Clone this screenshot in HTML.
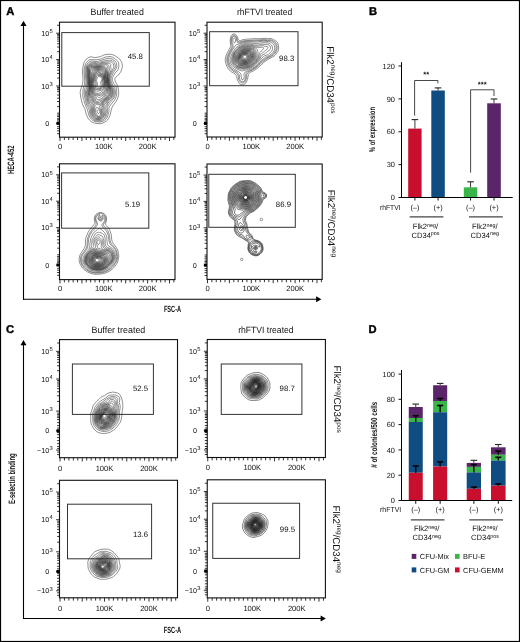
<!DOCTYPE html><html><head><meta charset="utf-8"><style>html,body{margin:0;padding:0;background:#fff;}svg{display:block;will-change:transform;}</style></head><body><svg width="520" height="642" viewBox="0 0 520 642" font-family='"Liberation Sans", sans-serif' text-rendering="geometricPrecision">
<rect x="0.00" y="0.00" width="520.00" height="642.00" fill="#fff"/>
<rect x="0.5" y="0.5" width="519" height="641" fill="none" stroke="#000" stroke-width="1.2"/>
<text x="6.30" y="15.10" font-size="11.2" text-anchor="start" font-weight="bold" fill="#000" stroke="#000" stroke-width="0.4">A</text>
<text x="368.90" y="15.20" font-size="11.2" text-anchor="start" font-weight="bold" fill="#000" stroke="#000" stroke-width="0.4">B</text>
<text x="6.00" y="333.00" font-size="11.2" text-anchor="start" font-weight="bold" fill="#000" stroke="#000" stroke-width="0.4">C</text>
<text x="368.50" y="333.20" font-size="11.2" text-anchor="start" font-weight="bold" fill="#000" stroke="#000" stroke-width="0.4">D</text>
<line x1="23.50" y1="24.80" x2="23.50" y2="299.80" stroke="#000" stroke-width="1.1" />
<path d="M20.50,26.10 L23.50,20.80 L26.50,26.10Z" fill="#000"/>
<line x1="23.00" y1="299.30" x2="317.40" y2="299.30" stroke="#000" stroke-width="1.1" />
<path d="M316.10,296.30 L321.40,299.30 L316.10,302.30Z" fill="#000"/>
<text x="0" y="0" font-size="9.2" font-weight="bold" text-anchor="middle" fill="#111" textLength="28.5" lengthAdjust="spacingAndGlyphs" transform="translate(14.30,159.80) rotate(-90)">HECA-452</text>
<text x="172.50" y="312.20" font-size="9.0" text-anchor="middle" font-weight="bold" fill="#111" textLength="17.20" lengthAdjust="spacingAndGlyphs" >FSC-A</text>
<text x="117.20" y="15.10" font-size="9.2" text-anchor="middle" font-weight="normal" fill="#111" textLength="53.30" lengthAdjust="spacingAndGlyphs" >Buffer treated</text>
<text x="264.60" y="15.10" font-size="9.2" text-anchor="middle" font-weight="normal" fill="#111" textLength="55.40" lengthAdjust="spacingAndGlyphs" >rhFTVI treated</text>
<rect x="59.50" y="22.20" width="115.50" height="115.00" fill="none" stroke="#111" stroke-width="1.1"/>
<line x1="56.10" y1="33.20" x2="59.50" y2="33.20" stroke="#111" stroke-width="0.85" />
<line x1="57.10" y1="25.25" x2="59.50" y2="25.25" stroke="#111" stroke-width="0.85" />
<line x1="56.10" y1="59.60" x2="59.50" y2="59.60" stroke="#111" stroke-width="0.85" />
<line x1="57.10" y1="51.65" x2="59.50" y2="51.65" stroke="#111" stroke-width="0.85" />
<line x1="57.10" y1="47.00" x2="59.50" y2="47.00" stroke="#111" stroke-width="0.85" />
<line x1="57.10" y1="43.71" x2="59.50" y2="43.71" stroke="#111" stroke-width="0.85" />
<line x1="57.10" y1="41.15" x2="59.50" y2="41.15" stroke="#111" stroke-width="0.85" />
<line x1="57.10" y1="39.06" x2="59.50" y2="39.06" stroke="#111" stroke-width="0.85" />
<line x1="57.10" y1="37.29" x2="59.50" y2="37.29" stroke="#111" stroke-width="0.85" />
<line x1="57.10" y1="35.76" x2="59.50" y2="35.76" stroke="#111" stroke-width="0.85" />
<line x1="57.10" y1="34.41" x2="59.50" y2="34.41" stroke="#111" stroke-width="0.85" />
<line x1="56.10" y1="86.00" x2="59.50" y2="86.00" stroke="#111" stroke-width="0.85" />
<line x1="57.10" y1="78.05" x2="59.50" y2="78.05" stroke="#111" stroke-width="0.85" />
<line x1="57.10" y1="73.40" x2="59.50" y2="73.40" stroke="#111" stroke-width="0.85" />
<line x1="57.10" y1="70.11" x2="59.50" y2="70.11" stroke="#111" stroke-width="0.85" />
<line x1="57.10" y1="67.55" x2="59.50" y2="67.55" stroke="#111" stroke-width="0.85" />
<line x1="57.10" y1="65.46" x2="59.50" y2="65.46" stroke="#111" stroke-width="0.85" />
<line x1="57.10" y1="63.69" x2="59.50" y2="63.69" stroke="#111" stroke-width="0.85" />
<line x1="57.10" y1="62.16" x2="59.50" y2="62.16" stroke="#111" stroke-width="0.85" />
<line x1="57.10" y1="60.81" x2="59.50" y2="60.81" stroke="#111" stroke-width="0.85" />
<line x1="56.10" y1="123.40" x2="59.50" y2="123.40" stroke="#111" stroke-width="0.85" />
<line x1="57.10" y1="87.50" x2="59.50" y2="87.50" stroke="#111" stroke-width="0.85" />
<line x1="57.10" y1="88.90" x2="59.50" y2="88.90" stroke="#111" stroke-width="0.85" />
<line x1="57.10" y1="89.80" x2="59.50" y2="89.80" stroke="#111" stroke-width="0.85" />
<line x1="57.10" y1="91.70" x2="59.50" y2="91.70" stroke="#111" stroke-width="0.85" />
<line x1="57.10" y1="95.00" x2="59.50" y2="95.00" stroke="#111" stroke-width="0.85" />
<line x1="57.10" y1="98.20" x2="59.50" y2="98.20" stroke="#111" stroke-width="0.85" />
<line x1="57.10" y1="101.50" x2="59.50" y2="101.50" stroke="#111" stroke-width="0.85" />
<line x1="57.10" y1="106.60" x2="59.50" y2="106.60" stroke="#111" stroke-width="0.85" />
<line x1="57.10" y1="113.20" x2="59.50" y2="113.20" stroke="#111" stroke-width="0.85" />
<line x1="57.10" y1="115.00" x2="59.50" y2="115.00" stroke="#111" stroke-width="0.85" />
<line x1="57.10" y1="116.40" x2="59.50" y2="116.40" stroke="#111" stroke-width="0.85" />
<line x1="57.10" y1="118.30" x2="59.50" y2="118.30" stroke="#111" stroke-width="0.85" />
<line x1="57.10" y1="119.70" x2="59.50" y2="119.70" stroke="#111" stroke-width="0.85" />
<line x1="57.10" y1="121.10" x2="59.50" y2="121.10" stroke="#111" stroke-width="0.85" />
<line x1="57.10" y1="126.70" x2="59.50" y2="126.70" stroke="#111" stroke-width="0.85" />
<line x1="57.10" y1="128.60" x2="59.50" y2="128.60" stroke="#111" stroke-width="0.85" />
<line x1="57.10" y1="130.90" x2="59.50" y2="130.90" stroke="#111" stroke-width="0.85" />
<line x1="57.10" y1="133.70" x2="59.50" y2="133.70" stroke="#111" stroke-width="0.85" />
<rect x="56.50" y="121.90" width="3.00" height="3.00" fill="#000"/>
<text x="49.30" y="35.80" font-size="7.2" text-anchor="end" fill="#111">10</text>
<text x="49.60" y="32.90" font-size="5.8" fill="#111">5</text>
<text x="49.30" y="62.20" font-size="7.2" text-anchor="end" fill="#111">10</text>
<text x="49.60" y="59.30" font-size="5.8" fill="#111">4</text>
<text x="49.30" y="88.60" font-size="7.2" text-anchor="end" fill="#111">10</text>
<text x="49.60" y="85.70" font-size="5.8" fill="#111">3</text>
<text x="49.30" y="126.00" font-size="7.2" text-anchor="end" fill="#111">0</text>
<line x1="60.00" y1="137.20" x2="60.00" y2="141.00" stroke="#111" stroke-width="0.85" />
<line x1="64.38" y1="137.20" x2="64.38" y2="140.00" stroke="#111" stroke-width="0.85" />
<line x1="68.76" y1="137.20" x2="68.76" y2="140.00" stroke="#111" stroke-width="0.85" />
<line x1="73.14" y1="137.20" x2="73.14" y2="140.00" stroke="#111" stroke-width="0.85" />
<line x1="77.52" y1="137.20" x2="77.52" y2="140.00" stroke="#111" stroke-width="0.85" />
<line x1="81.90" y1="137.20" x2="81.90" y2="141.00" stroke="#111" stroke-width="0.85" />
<line x1="86.28" y1="137.20" x2="86.28" y2="140.00" stroke="#111" stroke-width="0.85" />
<line x1="90.66" y1="137.20" x2="90.66" y2="140.00" stroke="#111" stroke-width="0.85" />
<line x1="95.04" y1="137.20" x2="95.04" y2="140.00" stroke="#111" stroke-width="0.85" />
<line x1="99.42" y1="137.20" x2="99.42" y2="140.00" stroke="#111" stroke-width="0.85" />
<line x1="103.80" y1="137.20" x2="103.80" y2="141.00" stroke="#111" stroke-width="0.85" />
<line x1="108.18" y1="137.20" x2="108.18" y2="140.00" stroke="#111" stroke-width="0.85" />
<line x1="112.56" y1="137.20" x2="112.56" y2="140.00" stroke="#111" stroke-width="0.85" />
<line x1="116.94" y1="137.20" x2="116.94" y2="140.00" stroke="#111" stroke-width="0.85" />
<line x1="121.32" y1="137.20" x2="121.32" y2="140.00" stroke="#111" stroke-width="0.85" />
<line x1="125.70" y1="137.20" x2="125.70" y2="141.00" stroke="#111" stroke-width="0.85" />
<line x1="130.08" y1="137.20" x2="130.08" y2="140.00" stroke="#111" stroke-width="0.85" />
<line x1="134.46" y1="137.20" x2="134.46" y2="140.00" stroke="#111" stroke-width="0.85" />
<line x1="138.84" y1="137.20" x2="138.84" y2="140.00" stroke="#111" stroke-width="0.85" />
<line x1="143.22" y1="137.20" x2="143.22" y2="140.00" stroke="#111" stroke-width="0.85" />
<line x1="147.60" y1="137.20" x2="147.60" y2="141.00" stroke="#111" stroke-width="0.85" />
<line x1="151.98" y1="137.20" x2="151.98" y2="140.00" stroke="#111" stroke-width="0.85" />
<line x1="156.36" y1="137.20" x2="156.36" y2="140.00" stroke="#111" stroke-width="0.85" />
<line x1="160.74" y1="137.20" x2="160.74" y2="140.00" stroke="#111" stroke-width="0.85" />
<line x1="165.12" y1="137.20" x2="165.12" y2="140.00" stroke="#111" stroke-width="0.85" />
<line x1="169.50" y1="137.20" x2="169.50" y2="141.00" stroke="#111" stroke-width="0.85" />
<line x1="173.88" y1="137.20" x2="173.88" y2="140.00" stroke="#111" stroke-width="0.85" />
<text x="60.00" y="148.90" font-size="7.6" text-anchor="middle" font-weight="normal" fill="#111" >0</text>
<text x="103.80" y="148.90" font-size="7.6" text-anchor="middle" font-weight="normal" fill="#111" >100K</text>
<text x="147.60" y="148.90" font-size="7.6" text-anchor="middle" font-weight="normal" fill="#111" >200K</text>
<rect x="61.80" y="32.60" width="87.50" height="53.60" fill="none" stroke="#333" stroke-width="1"/>
<text x="142.90" y="59.20" font-size="7.8" text-anchor="end" font-weight="normal" fill="#111" >45.8</text>
<rect x="207.00" y="22.20" width="115.20" height="114.80" fill="none" stroke="#111" stroke-width="1.1"/>
<line x1="203.60" y1="33.20" x2="207.00" y2="33.20" stroke="#111" stroke-width="0.85" />
<line x1="204.60" y1="25.25" x2="207.00" y2="25.25" stroke="#111" stroke-width="0.85" />
<line x1="203.60" y1="59.60" x2="207.00" y2="59.60" stroke="#111" stroke-width="0.85" />
<line x1="204.60" y1="51.65" x2="207.00" y2="51.65" stroke="#111" stroke-width="0.85" />
<line x1="204.60" y1="47.00" x2="207.00" y2="47.00" stroke="#111" stroke-width="0.85" />
<line x1="204.60" y1="43.71" x2="207.00" y2="43.71" stroke="#111" stroke-width="0.85" />
<line x1="204.60" y1="41.15" x2="207.00" y2="41.15" stroke="#111" stroke-width="0.85" />
<line x1="204.60" y1="39.06" x2="207.00" y2="39.06" stroke="#111" stroke-width="0.85" />
<line x1="204.60" y1="37.29" x2="207.00" y2="37.29" stroke="#111" stroke-width="0.85" />
<line x1="204.60" y1="35.76" x2="207.00" y2="35.76" stroke="#111" stroke-width="0.85" />
<line x1="204.60" y1="34.41" x2="207.00" y2="34.41" stroke="#111" stroke-width="0.85" />
<line x1="203.60" y1="86.00" x2="207.00" y2="86.00" stroke="#111" stroke-width="0.85" />
<line x1="204.60" y1="78.05" x2="207.00" y2="78.05" stroke="#111" stroke-width="0.85" />
<line x1="204.60" y1="73.40" x2="207.00" y2="73.40" stroke="#111" stroke-width="0.85" />
<line x1="204.60" y1="70.11" x2="207.00" y2="70.11" stroke="#111" stroke-width="0.85" />
<line x1="204.60" y1="67.55" x2="207.00" y2="67.55" stroke="#111" stroke-width="0.85" />
<line x1="204.60" y1="65.46" x2="207.00" y2="65.46" stroke="#111" stroke-width="0.85" />
<line x1="204.60" y1="63.69" x2="207.00" y2="63.69" stroke="#111" stroke-width="0.85" />
<line x1="204.60" y1="62.16" x2="207.00" y2="62.16" stroke="#111" stroke-width="0.85" />
<line x1="204.60" y1="60.81" x2="207.00" y2="60.81" stroke="#111" stroke-width="0.85" />
<line x1="203.60" y1="123.40" x2="207.00" y2="123.40" stroke="#111" stroke-width="0.85" />
<line x1="204.60" y1="87.50" x2="207.00" y2="87.50" stroke="#111" stroke-width="0.85" />
<line x1="204.60" y1="88.90" x2="207.00" y2="88.90" stroke="#111" stroke-width="0.85" />
<line x1="204.60" y1="89.80" x2="207.00" y2="89.80" stroke="#111" stroke-width="0.85" />
<line x1="204.60" y1="91.70" x2="207.00" y2="91.70" stroke="#111" stroke-width="0.85" />
<line x1="204.60" y1="95.00" x2="207.00" y2="95.00" stroke="#111" stroke-width="0.85" />
<line x1="204.60" y1="98.20" x2="207.00" y2="98.20" stroke="#111" stroke-width="0.85" />
<line x1="204.60" y1="101.50" x2="207.00" y2="101.50" stroke="#111" stroke-width="0.85" />
<line x1="204.60" y1="106.60" x2="207.00" y2="106.60" stroke="#111" stroke-width="0.85" />
<line x1="204.60" y1="113.20" x2="207.00" y2="113.20" stroke="#111" stroke-width="0.85" />
<line x1="204.60" y1="115.00" x2="207.00" y2="115.00" stroke="#111" stroke-width="0.85" />
<line x1="204.60" y1="116.40" x2="207.00" y2="116.40" stroke="#111" stroke-width="0.85" />
<line x1="204.60" y1="118.30" x2="207.00" y2="118.30" stroke="#111" stroke-width="0.85" />
<line x1="204.60" y1="119.70" x2="207.00" y2="119.70" stroke="#111" stroke-width="0.85" />
<line x1="204.60" y1="121.10" x2="207.00" y2="121.10" stroke="#111" stroke-width="0.85" />
<line x1="204.60" y1="126.70" x2="207.00" y2="126.70" stroke="#111" stroke-width="0.85" />
<line x1="204.60" y1="128.60" x2="207.00" y2="128.60" stroke="#111" stroke-width="0.85" />
<line x1="204.60" y1="130.90" x2="207.00" y2="130.90" stroke="#111" stroke-width="0.85" />
<line x1="204.60" y1="133.70" x2="207.00" y2="133.70" stroke="#111" stroke-width="0.85" />
<rect x="204.00" y="121.90" width="3.00" height="3.00" fill="#000"/>
<text x="196.80" y="35.80" font-size="7.2" text-anchor="end" fill="#111">10</text>
<text x="197.10" y="32.90" font-size="5.8" fill="#111">5</text>
<text x="196.80" y="62.20" font-size="7.2" text-anchor="end" fill="#111">10</text>
<text x="197.10" y="59.30" font-size="5.8" fill="#111">4</text>
<text x="196.80" y="88.60" font-size="7.2" text-anchor="end" fill="#111">10</text>
<text x="197.10" y="85.70" font-size="5.8" fill="#111">3</text>
<text x="196.80" y="126.00" font-size="7.2" text-anchor="end" fill="#111">0</text>
<line x1="207.50" y1="137.00" x2="207.50" y2="140.80" stroke="#111" stroke-width="0.85" />
<line x1="211.88" y1="137.00" x2="211.88" y2="139.80" stroke="#111" stroke-width="0.85" />
<line x1="216.26" y1="137.00" x2="216.26" y2="139.80" stroke="#111" stroke-width="0.85" />
<line x1="220.64" y1="137.00" x2="220.64" y2="139.80" stroke="#111" stroke-width="0.85" />
<line x1="225.02" y1="137.00" x2="225.02" y2="139.80" stroke="#111" stroke-width="0.85" />
<line x1="229.40" y1="137.00" x2="229.40" y2="140.80" stroke="#111" stroke-width="0.85" />
<line x1="233.78" y1="137.00" x2="233.78" y2="139.80" stroke="#111" stroke-width="0.85" />
<line x1="238.16" y1="137.00" x2="238.16" y2="139.80" stroke="#111" stroke-width="0.85" />
<line x1="242.54" y1="137.00" x2="242.54" y2="139.80" stroke="#111" stroke-width="0.85" />
<line x1="246.92" y1="137.00" x2="246.92" y2="139.80" stroke="#111" stroke-width="0.85" />
<line x1="251.30" y1="137.00" x2="251.30" y2="140.80" stroke="#111" stroke-width="0.85" />
<line x1="255.68" y1="137.00" x2="255.68" y2="139.80" stroke="#111" stroke-width="0.85" />
<line x1="260.06" y1="137.00" x2="260.06" y2="139.80" stroke="#111" stroke-width="0.85" />
<line x1="264.44" y1="137.00" x2="264.44" y2="139.80" stroke="#111" stroke-width="0.85" />
<line x1="268.82" y1="137.00" x2="268.82" y2="139.80" stroke="#111" stroke-width="0.85" />
<line x1="273.20" y1="137.00" x2="273.20" y2="140.80" stroke="#111" stroke-width="0.85" />
<line x1="277.58" y1="137.00" x2="277.58" y2="139.80" stroke="#111" stroke-width="0.85" />
<line x1="281.96" y1="137.00" x2="281.96" y2="139.80" stroke="#111" stroke-width="0.85" />
<line x1="286.34" y1="137.00" x2="286.34" y2="139.80" stroke="#111" stroke-width="0.85" />
<line x1="290.72" y1="137.00" x2="290.72" y2="139.80" stroke="#111" stroke-width="0.85" />
<line x1="295.10" y1="137.00" x2="295.10" y2="140.80" stroke="#111" stroke-width="0.85" />
<line x1="299.48" y1="137.00" x2="299.48" y2="139.80" stroke="#111" stroke-width="0.85" />
<line x1="303.86" y1="137.00" x2="303.86" y2="139.80" stroke="#111" stroke-width="0.85" />
<line x1="308.24" y1="137.00" x2="308.24" y2="139.80" stroke="#111" stroke-width="0.85" />
<line x1="312.62" y1="137.00" x2="312.62" y2="139.80" stroke="#111" stroke-width="0.85" />
<line x1="317.00" y1="137.00" x2="317.00" y2="140.80" stroke="#111" stroke-width="0.85" />
<line x1="321.38" y1="137.00" x2="321.38" y2="139.80" stroke="#111" stroke-width="0.85" />
<text x="207.50" y="148.70" font-size="7.6" text-anchor="middle" font-weight="normal" fill="#111" >0</text>
<text x="251.30" y="148.70" font-size="7.6" text-anchor="middle" font-weight="normal" fill="#111" >100K</text>
<text x="295.10" y="148.70" font-size="7.6" text-anchor="middle" font-weight="normal" fill="#111" >200K</text>
<rect x="209.60" y="31.70" width="88.40" height="54.00" fill="none" stroke="#333" stroke-width="1"/>
<text x="294.30" y="60.80" font-size="7.8" text-anchor="end" font-weight="normal" fill="#111" >98.3</text>
<rect x="59.50" y="163.80" width="115.50" height="115.80" fill="none" stroke="#111" stroke-width="1.1"/>
<line x1="56.10" y1="174.80" x2="59.50" y2="174.80" stroke="#111" stroke-width="0.85" />
<line x1="57.10" y1="166.85" x2="59.50" y2="166.85" stroke="#111" stroke-width="0.85" />
<line x1="56.10" y1="201.20" x2="59.50" y2="201.20" stroke="#111" stroke-width="0.85" />
<line x1="57.10" y1="193.25" x2="59.50" y2="193.25" stroke="#111" stroke-width="0.85" />
<line x1="57.10" y1="188.60" x2="59.50" y2="188.60" stroke="#111" stroke-width="0.85" />
<line x1="57.10" y1="185.31" x2="59.50" y2="185.31" stroke="#111" stroke-width="0.85" />
<line x1="57.10" y1="182.75" x2="59.50" y2="182.75" stroke="#111" stroke-width="0.85" />
<line x1="57.10" y1="180.66" x2="59.50" y2="180.66" stroke="#111" stroke-width="0.85" />
<line x1="57.10" y1="178.89" x2="59.50" y2="178.89" stroke="#111" stroke-width="0.85" />
<line x1="57.10" y1="177.36" x2="59.50" y2="177.36" stroke="#111" stroke-width="0.85" />
<line x1="57.10" y1="176.01" x2="59.50" y2="176.01" stroke="#111" stroke-width="0.85" />
<line x1="56.10" y1="227.60" x2="59.50" y2="227.60" stroke="#111" stroke-width="0.85" />
<line x1="57.10" y1="219.65" x2="59.50" y2="219.65" stroke="#111" stroke-width="0.85" />
<line x1="57.10" y1="215.00" x2="59.50" y2="215.00" stroke="#111" stroke-width="0.85" />
<line x1="57.10" y1="211.71" x2="59.50" y2="211.71" stroke="#111" stroke-width="0.85" />
<line x1="57.10" y1="209.15" x2="59.50" y2="209.15" stroke="#111" stroke-width="0.85" />
<line x1="57.10" y1="207.06" x2="59.50" y2="207.06" stroke="#111" stroke-width="0.85" />
<line x1="57.10" y1="205.29" x2="59.50" y2="205.29" stroke="#111" stroke-width="0.85" />
<line x1="57.10" y1="203.76" x2="59.50" y2="203.76" stroke="#111" stroke-width="0.85" />
<line x1="57.10" y1="202.41" x2="59.50" y2="202.41" stroke="#111" stroke-width="0.85" />
<line x1="56.10" y1="265.00" x2="59.50" y2="265.00" stroke="#111" stroke-width="0.85" />
<line x1="57.10" y1="229.10" x2="59.50" y2="229.10" stroke="#111" stroke-width="0.85" />
<line x1="57.10" y1="230.50" x2="59.50" y2="230.50" stroke="#111" stroke-width="0.85" />
<line x1="57.10" y1="231.40" x2="59.50" y2="231.40" stroke="#111" stroke-width="0.85" />
<line x1="57.10" y1="233.30" x2="59.50" y2="233.30" stroke="#111" stroke-width="0.85" />
<line x1="57.10" y1="236.60" x2="59.50" y2="236.60" stroke="#111" stroke-width="0.85" />
<line x1="57.10" y1="239.80" x2="59.50" y2="239.80" stroke="#111" stroke-width="0.85" />
<line x1="57.10" y1="243.10" x2="59.50" y2="243.10" stroke="#111" stroke-width="0.85" />
<line x1="57.10" y1="248.20" x2="59.50" y2="248.20" stroke="#111" stroke-width="0.85" />
<line x1="57.10" y1="254.80" x2="59.50" y2="254.80" stroke="#111" stroke-width="0.85" />
<line x1="57.10" y1="256.60" x2="59.50" y2="256.60" stroke="#111" stroke-width="0.85" />
<line x1="57.10" y1="258.00" x2="59.50" y2="258.00" stroke="#111" stroke-width="0.85" />
<line x1="57.10" y1="259.90" x2="59.50" y2="259.90" stroke="#111" stroke-width="0.85" />
<line x1="57.10" y1="261.30" x2="59.50" y2="261.30" stroke="#111" stroke-width="0.85" />
<line x1="57.10" y1="262.70" x2="59.50" y2="262.70" stroke="#111" stroke-width="0.85" />
<line x1="57.10" y1="268.30" x2="59.50" y2="268.30" stroke="#111" stroke-width="0.85" />
<line x1="57.10" y1="270.20" x2="59.50" y2="270.20" stroke="#111" stroke-width="0.85" />
<line x1="57.10" y1="272.50" x2="59.50" y2="272.50" stroke="#111" stroke-width="0.85" />
<line x1="57.10" y1="275.30" x2="59.50" y2="275.30" stroke="#111" stroke-width="0.85" />
<rect x="56.50" y="263.50" width="3.00" height="3.00" fill="#000"/>
<text x="49.30" y="177.40" font-size="7.2" text-anchor="end" fill="#111">10</text>
<text x="49.60" y="174.50" font-size="5.8" fill="#111">5</text>
<text x="49.30" y="203.80" font-size="7.2" text-anchor="end" fill="#111">10</text>
<text x="49.60" y="200.90" font-size="5.8" fill="#111">4</text>
<text x="49.30" y="230.20" font-size="7.2" text-anchor="end" fill="#111">10</text>
<text x="49.60" y="227.30" font-size="5.8" fill="#111">3</text>
<text x="49.30" y="267.60" font-size="7.2" text-anchor="end" fill="#111">0</text>
<line x1="60.00" y1="279.60" x2="60.00" y2="283.40" stroke="#111" stroke-width="0.85" />
<line x1="64.38" y1="279.60" x2="64.38" y2="282.40" stroke="#111" stroke-width="0.85" />
<line x1="68.76" y1="279.60" x2="68.76" y2="282.40" stroke="#111" stroke-width="0.85" />
<line x1="73.14" y1="279.60" x2="73.14" y2="282.40" stroke="#111" stroke-width="0.85" />
<line x1="77.52" y1="279.60" x2="77.52" y2="282.40" stroke="#111" stroke-width="0.85" />
<line x1="81.90" y1="279.60" x2="81.90" y2="283.40" stroke="#111" stroke-width="0.85" />
<line x1="86.28" y1="279.60" x2="86.28" y2="282.40" stroke="#111" stroke-width="0.85" />
<line x1="90.66" y1="279.60" x2="90.66" y2="282.40" stroke="#111" stroke-width="0.85" />
<line x1="95.04" y1="279.60" x2="95.04" y2="282.40" stroke="#111" stroke-width="0.85" />
<line x1="99.42" y1="279.60" x2="99.42" y2="282.40" stroke="#111" stroke-width="0.85" />
<line x1="103.80" y1="279.60" x2="103.80" y2="283.40" stroke="#111" stroke-width="0.85" />
<line x1="108.18" y1="279.60" x2="108.18" y2="282.40" stroke="#111" stroke-width="0.85" />
<line x1="112.56" y1="279.60" x2="112.56" y2="282.40" stroke="#111" stroke-width="0.85" />
<line x1="116.94" y1="279.60" x2="116.94" y2="282.40" stroke="#111" stroke-width="0.85" />
<line x1="121.32" y1="279.60" x2="121.32" y2="282.40" stroke="#111" stroke-width="0.85" />
<line x1="125.70" y1="279.60" x2="125.70" y2="283.40" stroke="#111" stroke-width="0.85" />
<line x1="130.08" y1="279.60" x2="130.08" y2="282.40" stroke="#111" stroke-width="0.85" />
<line x1="134.46" y1="279.60" x2="134.46" y2="282.40" stroke="#111" stroke-width="0.85" />
<line x1="138.84" y1="279.60" x2="138.84" y2="282.40" stroke="#111" stroke-width="0.85" />
<line x1="143.22" y1="279.60" x2="143.22" y2="282.40" stroke="#111" stroke-width="0.85" />
<line x1="147.60" y1="279.60" x2="147.60" y2="283.40" stroke="#111" stroke-width="0.85" />
<line x1="151.98" y1="279.60" x2="151.98" y2="282.40" stroke="#111" stroke-width="0.85" />
<line x1="156.36" y1="279.60" x2="156.36" y2="282.40" stroke="#111" stroke-width="0.85" />
<line x1="160.74" y1="279.60" x2="160.74" y2="282.40" stroke="#111" stroke-width="0.85" />
<line x1="165.12" y1="279.60" x2="165.12" y2="282.40" stroke="#111" stroke-width="0.85" />
<line x1="169.50" y1="279.60" x2="169.50" y2="283.40" stroke="#111" stroke-width="0.85" />
<line x1="173.88" y1="279.60" x2="173.88" y2="282.40" stroke="#111" stroke-width="0.85" />
<text x="60.00" y="291.30" font-size="7.6" text-anchor="middle" font-weight="normal" fill="#111" >0</text>
<text x="103.80" y="291.30" font-size="7.6" text-anchor="middle" font-weight="normal" fill="#111" >100K</text>
<text x="147.60" y="291.30" font-size="7.6" text-anchor="middle" font-weight="normal" fill="#111" >200K</text>
<rect x="61.60" y="172.90" width="87.20" height="55.30" fill="none" stroke="#333" stroke-width="1"/>
<text x="140.20" y="207.00" font-size="7.8" text-anchor="end" font-weight="normal" fill="#111" >5.19</text>
<rect x="207.00" y="164.00" width="115.20" height="115.40" fill="none" stroke="#111" stroke-width="1.1"/>
<line x1="203.60" y1="175.00" x2="207.00" y2="175.00" stroke="#111" stroke-width="0.85" />
<line x1="204.60" y1="167.05" x2="207.00" y2="167.05" stroke="#111" stroke-width="0.85" />
<line x1="203.60" y1="201.40" x2="207.00" y2="201.40" stroke="#111" stroke-width="0.85" />
<line x1="204.60" y1="193.45" x2="207.00" y2="193.45" stroke="#111" stroke-width="0.85" />
<line x1="204.60" y1="188.80" x2="207.00" y2="188.80" stroke="#111" stroke-width="0.85" />
<line x1="204.60" y1="185.51" x2="207.00" y2="185.51" stroke="#111" stroke-width="0.85" />
<line x1="204.60" y1="182.95" x2="207.00" y2="182.95" stroke="#111" stroke-width="0.85" />
<line x1="204.60" y1="180.86" x2="207.00" y2="180.86" stroke="#111" stroke-width="0.85" />
<line x1="204.60" y1="179.09" x2="207.00" y2="179.09" stroke="#111" stroke-width="0.85" />
<line x1="204.60" y1="177.56" x2="207.00" y2="177.56" stroke="#111" stroke-width="0.85" />
<line x1="204.60" y1="176.21" x2="207.00" y2="176.21" stroke="#111" stroke-width="0.85" />
<line x1="203.60" y1="227.80" x2="207.00" y2="227.80" stroke="#111" stroke-width="0.85" />
<line x1="204.60" y1="219.85" x2="207.00" y2="219.85" stroke="#111" stroke-width="0.85" />
<line x1="204.60" y1="215.20" x2="207.00" y2="215.20" stroke="#111" stroke-width="0.85" />
<line x1="204.60" y1="211.91" x2="207.00" y2="211.91" stroke="#111" stroke-width="0.85" />
<line x1="204.60" y1="209.35" x2="207.00" y2="209.35" stroke="#111" stroke-width="0.85" />
<line x1="204.60" y1="207.26" x2="207.00" y2="207.26" stroke="#111" stroke-width="0.85" />
<line x1="204.60" y1="205.49" x2="207.00" y2="205.49" stroke="#111" stroke-width="0.85" />
<line x1="204.60" y1="203.96" x2="207.00" y2="203.96" stroke="#111" stroke-width="0.85" />
<line x1="204.60" y1="202.61" x2="207.00" y2="202.61" stroke="#111" stroke-width="0.85" />
<line x1="203.60" y1="265.20" x2="207.00" y2="265.20" stroke="#111" stroke-width="0.85" />
<line x1="204.60" y1="229.30" x2="207.00" y2="229.30" stroke="#111" stroke-width="0.85" />
<line x1="204.60" y1="230.70" x2="207.00" y2="230.70" stroke="#111" stroke-width="0.85" />
<line x1="204.60" y1="231.60" x2="207.00" y2="231.60" stroke="#111" stroke-width="0.85" />
<line x1="204.60" y1="233.50" x2="207.00" y2="233.50" stroke="#111" stroke-width="0.85" />
<line x1="204.60" y1="236.80" x2="207.00" y2="236.80" stroke="#111" stroke-width="0.85" />
<line x1="204.60" y1="240.00" x2="207.00" y2="240.00" stroke="#111" stroke-width="0.85" />
<line x1="204.60" y1="243.30" x2="207.00" y2="243.30" stroke="#111" stroke-width="0.85" />
<line x1="204.60" y1="248.40" x2="207.00" y2="248.40" stroke="#111" stroke-width="0.85" />
<line x1="204.60" y1="255.00" x2="207.00" y2="255.00" stroke="#111" stroke-width="0.85" />
<line x1="204.60" y1="256.80" x2="207.00" y2="256.80" stroke="#111" stroke-width="0.85" />
<line x1="204.60" y1="258.20" x2="207.00" y2="258.20" stroke="#111" stroke-width="0.85" />
<line x1="204.60" y1="260.10" x2="207.00" y2="260.10" stroke="#111" stroke-width="0.85" />
<line x1="204.60" y1="261.50" x2="207.00" y2="261.50" stroke="#111" stroke-width="0.85" />
<line x1="204.60" y1="262.90" x2="207.00" y2="262.90" stroke="#111" stroke-width="0.85" />
<line x1="204.60" y1="268.50" x2="207.00" y2="268.50" stroke="#111" stroke-width="0.85" />
<line x1="204.60" y1="270.40" x2="207.00" y2="270.40" stroke="#111" stroke-width="0.85" />
<line x1="204.60" y1="272.70" x2="207.00" y2="272.70" stroke="#111" stroke-width="0.85" />
<line x1="204.60" y1="275.50" x2="207.00" y2="275.50" stroke="#111" stroke-width="0.85" />
<rect x="204.00" y="263.70" width="3.00" height="3.00" fill="#000"/>
<text x="196.80" y="177.60" font-size="7.2" text-anchor="end" fill="#111">10</text>
<text x="197.10" y="174.70" font-size="5.8" fill="#111">5</text>
<text x="196.80" y="204.00" font-size="7.2" text-anchor="end" fill="#111">10</text>
<text x="197.10" y="201.10" font-size="5.8" fill="#111">4</text>
<text x="196.80" y="230.40" font-size="7.2" text-anchor="end" fill="#111">10</text>
<text x="197.10" y="227.50" font-size="5.8" fill="#111">3</text>
<text x="196.80" y="267.80" font-size="7.2" text-anchor="end" fill="#111">0</text>
<line x1="207.50" y1="279.40" x2="207.50" y2="283.20" stroke="#111" stroke-width="0.85" />
<line x1="211.88" y1="279.40" x2="211.88" y2="282.20" stroke="#111" stroke-width="0.85" />
<line x1="216.26" y1="279.40" x2="216.26" y2="282.20" stroke="#111" stroke-width="0.85" />
<line x1="220.64" y1="279.40" x2="220.64" y2="282.20" stroke="#111" stroke-width="0.85" />
<line x1="225.02" y1="279.40" x2="225.02" y2="282.20" stroke="#111" stroke-width="0.85" />
<line x1="229.40" y1="279.40" x2="229.40" y2="283.20" stroke="#111" stroke-width="0.85" />
<line x1="233.78" y1="279.40" x2="233.78" y2="282.20" stroke="#111" stroke-width="0.85" />
<line x1="238.16" y1="279.40" x2="238.16" y2="282.20" stroke="#111" stroke-width="0.85" />
<line x1="242.54" y1="279.40" x2="242.54" y2="282.20" stroke="#111" stroke-width="0.85" />
<line x1="246.92" y1="279.40" x2="246.92" y2="282.20" stroke="#111" stroke-width="0.85" />
<line x1="251.30" y1="279.40" x2="251.30" y2="283.20" stroke="#111" stroke-width="0.85" />
<line x1="255.68" y1="279.40" x2="255.68" y2="282.20" stroke="#111" stroke-width="0.85" />
<line x1="260.06" y1="279.40" x2="260.06" y2="282.20" stroke="#111" stroke-width="0.85" />
<line x1="264.44" y1="279.40" x2="264.44" y2="282.20" stroke="#111" stroke-width="0.85" />
<line x1="268.82" y1="279.40" x2="268.82" y2="282.20" stroke="#111" stroke-width="0.85" />
<line x1="273.20" y1="279.40" x2="273.20" y2="283.20" stroke="#111" stroke-width="0.85" />
<line x1="277.58" y1="279.40" x2="277.58" y2="282.20" stroke="#111" stroke-width="0.85" />
<line x1="281.96" y1="279.40" x2="281.96" y2="282.20" stroke="#111" stroke-width="0.85" />
<line x1="286.34" y1="279.40" x2="286.34" y2="282.20" stroke="#111" stroke-width="0.85" />
<line x1="290.72" y1="279.40" x2="290.72" y2="282.20" stroke="#111" stroke-width="0.85" />
<line x1="295.10" y1="279.40" x2="295.10" y2="283.20" stroke="#111" stroke-width="0.85" />
<line x1="299.48" y1="279.40" x2="299.48" y2="282.20" stroke="#111" stroke-width="0.85" />
<line x1="303.86" y1="279.40" x2="303.86" y2="282.20" stroke="#111" stroke-width="0.85" />
<line x1="308.24" y1="279.40" x2="308.24" y2="282.20" stroke="#111" stroke-width="0.85" />
<line x1="312.62" y1="279.40" x2="312.62" y2="282.20" stroke="#111" stroke-width="0.85" />
<line x1="317.00" y1="279.40" x2="317.00" y2="283.20" stroke="#111" stroke-width="0.85" />
<line x1="321.38" y1="279.40" x2="321.38" y2="282.20" stroke="#111" stroke-width="0.85" />
<text x="207.50" y="291.10" font-size="7.6" text-anchor="middle" font-weight="normal" fill="#111" >0</text>
<text x="251.30" y="291.10" font-size="7.6" text-anchor="middle" font-weight="normal" fill="#111" >100K</text>
<text x="295.10" y="291.10" font-size="7.6" text-anchor="middle" font-weight="normal" fill="#111" >200K</text>
<rect x="208.80" y="174.30" width="86.50" height="53.00" fill="none" stroke="#333" stroke-width="1"/>
<text x="291.00" y="207.00" font-size="7.8" text-anchor="end" font-weight="normal" fill="#111" >86.9</text>
<text x="0" y="0" font-size="9.8" fill="#111" textLength="67.3" lengthAdjust="spacingAndGlyphs" transform="translate(327.40,46.20) rotate(90)">Flk2<tspan font-size="6.60" dy="-3.90">neg</tspan><tspan dy="3.90">/CD34</tspan><tspan font-size="6.60" dy="-3.90">pos</tspan></text>
<text x="0" y="0" font-size="9.8" fill="#111" textLength="67.3" lengthAdjust="spacingAndGlyphs" transform="translate(328.20,189.80) rotate(90)">Flk2<tspan font-size="6.60" dy="-3.90">neg</tspan><tspan dy="3.90">/CD34</tspan><tspan font-size="6.60" dy="-3.90">neg</tspan></text>
<line x1="23.50" y1="344.00" x2="23.50" y2="619.00" stroke="#000" stroke-width="1.1" />
<path d="M20.50,345.30 L23.50,340.00 L26.50,345.30Z" fill="#000"/>
<line x1="23.00" y1="618.50" x2="321.90" y2="618.50" stroke="#000" stroke-width="1.1" />
<path d="M320.60,615.50 L325.90,618.50 L320.60,621.50Z" fill="#000"/>
<text x="0" y="0" font-size="9.2" font-weight="bold" text-anchor="middle" fill="#111" textLength="50.6" lengthAdjust="spacingAndGlyphs" transform="translate(14.60,478.70) rotate(-90)">E-selectin binding</text>
<text x="172.50" y="633.20" font-size="9.0" text-anchor="middle" font-weight="bold" fill="#111" textLength="17.50" lengthAdjust="spacingAndGlyphs" >FSC-A</text>
<text x="118.40" y="333.10" font-size="9.2" text-anchor="middle" font-weight="normal" fill="#111" textLength="53.90" lengthAdjust="spacingAndGlyphs" >Buffer treated</text>
<text x="265.90" y="333.10" font-size="9.2" text-anchor="middle" font-weight="normal" fill="#111" textLength="55.40" lengthAdjust="spacingAndGlyphs" >rhFTVI treated</text>
<rect x="59.50" y="339.60" width="118.00" height="118.10" fill="none" stroke="#111" stroke-width="1.1"/>
<line x1="56.10" y1="351.35" x2="59.50" y2="351.35" stroke="#111" stroke-width="0.85" />
<line x1="57.10" y1="343.01" x2="59.50" y2="343.01" stroke="#111" stroke-width="0.85" />
<line x1="56.10" y1="379.00" x2="59.50" y2="379.00" stroke="#111" stroke-width="0.85" />
<line x1="57.10" y1="370.68" x2="59.50" y2="370.68" stroke="#111" stroke-width="0.85" />
<line x1="57.10" y1="365.81" x2="59.50" y2="365.81" stroke="#111" stroke-width="0.85" />
<line x1="57.10" y1="362.35" x2="59.50" y2="362.35" stroke="#111" stroke-width="0.85" />
<line x1="57.10" y1="359.67" x2="59.50" y2="359.67" stroke="#111" stroke-width="0.85" />
<line x1="57.10" y1="357.48" x2="59.50" y2="357.48" stroke="#111" stroke-width="0.85" />
<line x1="57.10" y1="355.63" x2="59.50" y2="355.63" stroke="#111" stroke-width="0.85" />
<line x1="57.10" y1="354.03" x2="59.50" y2="354.03" stroke="#111" stroke-width="0.85" />
<line x1="57.10" y1="352.62" x2="59.50" y2="352.62" stroke="#111" stroke-width="0.85" />
<line x1="56.10" y1="411.10" x2="59.50" y2="411.10" stroke="#111" stroke-width="0.85" />
<line x1="57.10" y1="401.44" x2="59.50" y2="401.44" stroke="#111" stroke-width="0.85" />
<line x1="57.10" y1="395.78" x2="59.50" y2="395.78" stroke="#111" stroke-width="0.85" />
<line x1="57.10" y1="391.77" x2="59.50" y2="391.77" stroke="#111" stroke-width="0.85" />
<line x1="57.10" y1="388.66" x2="59.50" y2="388.66" stroke="#111" stroke-width="0.85" />
<line x1="57.10" y1="386.12" x2="59.50" y2="386.12" stroke="#111" stroke-width="0.85" />
<line x1="57.10" y1="383.97" x2="59.50" y2="383.97" stroke="#111" stroke-width="0.85" />
<line x1="57.10" y1="382.11" x2="59.50" y2="382.11" stroke="#111" stroke-width="0.85" />
<line x1="57.10" y1="380.47" x2="59.50" y2="380.47" stroke="#111" stroke-width="0.85" />
<line x1="56.10" y1="430.80" x2="59.50" y2="430.80" stroke="#111" stroke-width="0.85" />
<line x1="56.10" y1="450.10" x2="59.50" y2="450.10" stroke="#111" stroke-width="0.85" />
<line x1="57.10" y1="413.10" x2="59.50" y2="413.10" stroke="#111" stroke-width="0.85" />
<line x1="57.10" y1="414.60" x2="59.50" y2="414.60" stroke="#111" stroke-width="0.85" />
<line x1="57.10" y1="416.10" x2="59.50" y2="416.10" stroke="#111" stroke-width="0.85" />
<line x1="57.10" y1="417.60" x2="59.50" y2="417.60" stroke="#111" stroke-width="0.85" />
<line x1="57.10" y1="419.60" x2="59.50" y2="419.60" stroke="#111" stroke-width="0.85" />
<line x1="57.10" y1="422.60" x2="59.50" y2="422.60" stroke="#111" stroke-width="0.85" />
<line x1="57.10" y1="425.60" x2="59.50" y2="425.60" stroke="#111" stroke-width="0.85" />
<line x1="57.10" y1="428.10" x2="59.50" y2="428.10" stroke="#111" stroke-width="0.85" />
<line x1="57.10" y1="432.60" x2="59.50" y2="432.60" stroke="#111" stroke-width="0.85" />
<line x1="57.10" y1="434.60" x2="59.50" y2="434.60" stroke="#111" stroke-width="0.85" />
<line x1="57.10" y1="437.60" x2="59.50" y2="437.60" stroke="#111" stroke-width="0.85" />
<line x1="57.10" y1="440.60" x2="59.50" y2="440.60" stroke="#111" stroke-width="0.85" />
<line x1="57.10" y1="443.60" x2="59.50" y2="443.60" stroke="#111" stroke-width="0.85" />
<line x1="57.10" y1="446.60" x2="59.50" y2="446.60" stroke="#111" stroke-width="0.85" />
<line x1="57.10" y1="448.60" x2="59.50" y2="448.60" stroke="#111" stroke-width="0.85" />
<line x1="57.10" y1="452.10" x2="59.50" y2="452.10" stroke="#111" stroke-width="0.85" />
<line x1="57.10" y1="454.60" x2="59.50" y2="454.60" stroke="#111" stroke-width="0.85" />
<rect x="56.50" y="429.30" width="3.00" height="3.00" fill="#000"/>
<text x="49.30" y="353.95" font-size="7.2" text-anchor="end" fill="#111">10</text>
<text x="49.60" y="351.05" font-size="5.8" fill="#111">5</text>
<text x="49.30" y="381.60" font-size="7.2" text-anchor="end" fill="#111">10</text>
<text x="49.60" y="378.70" font-size="5.8" fill="#111">4</text>
<text x="49.30" y="413.70" font-size="7.2" text-anchor="end" fill="#111">10</text>
<text x="49.60" y="410.80" font-size="5.8" fill="#111">3</text>
<text x="49.30" y="433.40" font-size="7.2" text-anchor="end" fill="#111">0</text>
<text x="49.30" y="452.70" font-size="7.2" text-anchor="end" fill="#111">−10</text>
<text x="49.60" y="449.80" font-size="5.8" fill="#111">3</text>
<line x1="60.00" y1="457.70" x2="60.00" y2="461.50" stroke="#111" stroke-width="0.85" />
<line x1="64.45" y1="457.70" x2="64.45" y2="460.50" stroke="#111" stroke-width="0.85" />
<line x1="68.90" y1="457.70" x2="68.90" y2="460.50" stroke="#111" stroke-width="0.85" />
<line x1="73.35" y1="457.70" x2="73.35" y2="460.50" stroke="#111" stroke-width="0.85" />
<line x1="77.80" y1="457.70" x2="77.80" y2="460.50" stroke="#111" stroke-width="0.85" />
<line x1="82.25" y1="457.70" x2="82.25" y2="461.50" stroke="#111" stroke-width="0.85" />
<line x1="86.70" y1="457.70" x2="86.70" y2="460.50" stroke="#111" stroke-width="0.85" />
<line x1="91.15" y1="457.70" x2="91.15" y2="460.50" stroke="#111" stroke-width="0.85" />
<line x1="95.60" y1="457.70" x2="95.60" y2="460.50" stroke="#111" stroke-width="0.85" />
<line x1="100.05" y1="457.70" x2="100.05" y2="460.50" stroke="#111" stroke-width="0.85" />
<line x1="104.50" y1="457.70" x2="104.50" y2="461.50" stroke="#111" stroke-width="0.85" />
<line x1="108.95" y1="457.70" x2="108.95" y2="460.50" stroke="#111" stroke-width="0.85" />
<line x1="113.40" y1="457.70" x2="113.40" y2="460.50" stroke="#111" stroke-width="0.85" />
<line x1="117.85" y1="457.70" x2="117.85" y2="460.50" stroke="#111" stroke-width="0.85" />
<line x1="122.30" y1="457.70" x2="122.30" y2="460.50" stroke="#111" stroke-width="0.85" />
<line x1="126.75" y1="457.70" x2="126.75" y2="461.50" stroke="#111" stroke-width="0.85" />
<line x1="131.20" y1="457.70" x2="131.20" y2="460.50" stroke="#111" stroke-width="0.85" />
<line x1="135.65" y1="457.70" x2="135.65" y2="460.50" stroke="#111" stroke-width="0.85" />
<line x1="140.10" y1="457.70" x2="140.10" y2="460.50" stroke="#111" stroke-width="0.85" />
<line x1="144.55" y1="457.70" x2="144.55" y2="460.50" stroke="#111" stroke-width="0.85" />
<line x1="149.00" y1="457.70" x2="149.00" y2="461.50" stroke="#111" stroke-width="0.85" />
<line x1="153.45" y1="457.70" x2="153.45" y2="460.50" stroke="#111" stroke-width="0.85" />
<line x1="157.90" y1="457.70" x2="157.90" y2="460.50" stroke="#111" stroke-width="0.85" />
<line x1="162.35" y1="457.70" x2="162.35" y2="460.50" stroke="#111" stroke-width="0.85" />
<line x1="166.80" y1="457.70" x2="166.80" y2="460.50" stroke="#111" stroke-width="0.85" />
<line x1="171.25" y1="457.70" x2="171.25" y2="461.50" stroke="#111" stroke-width="0.85" />
<line x1="175.70" y1="457.70" x2="175.70" y2="460.50" stroke="#111" stroke-width="0.85" />
<text x="60.00" y="470.60" font-size="7.6" text-anchor="middle" font-weight="normal" fill="#111" >0</text>
<text x="104.50" y="470.60" font-size="7.6" text-anchor="middle" font-weight="normal" fill="#111" >100K</text>
<text x="149.00" y="470.60" font-size="7.6" text-anchor="middle" font-weight="normal" fill="#111" >200K</text>
<rect x="72.40" y="364.00" width="81.00" height="50.40" fill="none" stroke="#333" stroke-width="1"/>
<text x="148.10" y="391.30" font-size="7.8" text-anchor="end" font-weight="normal" fill="#111" >52.5</text>
<rect x="207.25" y="339.50" width="118.15" height="118.00" fill="none" stroke="#111" stroke-width="1.1"/>
<line x1="203.85" y1="351.25" x2="207.25" y2="351.25" stroke="#111" stroke-width="0.85" />
<line x1="204.85" y1="342.91" x2="207.25" y2="342.91" stroke="#111" stroke-width="0.85" />
<line x1="203.85" y1="378.90" x2="207.25" y2="378.90" stroke="#111" stroke-width="0.85" />
<line x1="204.85" y1="370.58" x2="207.25" y2="370.58" stroke="#111" stroke-width="0.85" />
<line x1="204.85" y1="365.71" x2="207.25" y2="365.71" stroke="#111" stroke-width="0.85" />
<line x1="204.85" y1="362.25" x2="207.25" y2="362.25" stroke="#111" stroke-width="0.85" />
<line x1="204.85" y1="359.57" x2="207.25" y2="359.57" stroke="#111" stroke-width="0.85" />
<line x1="204.85" y1="357.38" x2="207.25" y2="357.38" stroke="#111" stroke-width="0.85" />
<line x1="204.85" y1="355.53" x2="207.25" y2="355.53" stroke="#111" stroke-width="0.85" />
<line x1="204.85" y1="353.93" x2="207.25" y2="353.93" stroke="#111" stroke-width="0.85" />
<line x1="204.85" y1="352.52" x2="207.25" y2="352.52" stroke="#111" stroke-width="0.85" />
<line x1="203.85" y1="411.00" x2="207.25" y2="411.00" stroke="#111" stroke-width="0.85" />
<line x1="204.85" y1="401.34" x2="207.25" y2="401.34" stroke="#111" stroke-width="0.85" />
<line x1="204.85" y1="395.68" x2="207.25" y2="395.68" stroke="#111" stroke-width="0.85" />
<line x1="204.85" y1="391.67" x2="207.25" y2="391.67" stroke="#111" stroke-width="0.85" />
<line x1="204.85" y1="388.56" x2="207.25" y2="388.56" stroke="#111" stroke-width="0.85" />
<line x1="204.85" y1="386.02" x2="207.25" y2="386.02" stroke="#111" stroke-width="0.85" />
<line x1="204.85" y1="383.87" x2="207.25" y2="383.87" stroke="#111" stroke-width="0.85" />
<line x1="204.85" y1="382.01" x2="207.25" y2="382.01" stroke="#111" stroke-width="0.85" />
<line x1="204.85" y1="380.37" x2="207.25" y2="380.37" stroke="#111" stroke-width="0.85" />
<line x1="203.85" y1="430.70" x2="207.25" y2="430.70" stroke="#111" stroke-width="0.85" />
<line x1="203.85" y1="450.00" x2="207.25" y2="450.00" stroke="#111" stroke-width="0.85" />
<line x1="204.85" y1="413.00" x2="207.25" y2="413.00" stroke="#111" stroke-width="0.85" />
<line x1="204.85" y1="414.50" x2="207.25" y2="414.50" stroke="#111" stroke-width="0.85" />
<line x1="204.85" y1="416.00" x2="207.25" y2="416.00" stroke="#111" stroke-width="0.85" />
<line x1="204.85" y1="417.50" x2="207.25" y2="417.50" stroke="#111" stroke-width="0.85" />
<line x1="204.85" y1="419.50" x2="207.25" y2="419.50" stroke="#111" stroke-width="0.85" />
<line x1="204.85" y1="422.50" x2="207.25" y2="422.50" stroke="#111" stroke-width="0.85" />
<line x1="204.85" y1="425.50" x2="207.25" y2="425.50" stroke="#111" stroke-width="0.85" />
<line x1="204.85" y1="428.00" x2="207.25" y2="428.00" stroke="#111" stroke-width="0.85" />
<line x1="204.85" y1="432.50" x2="207.25" y2="432.50" stroke="#111" stroke-width="0.85" />
<line x1="204.85" y1="434.50" x2="207.25" y2="434.50" stroke="#111" stroke-width="0.85" />
<line x1="204.85" y1="437.50" x2="207.25" y2="437.50" stroke="#111" stroke-width="0.85" />
<line x1="204.85" y1="440.50" x2="207.25" y2="440.50" stroke="#111" stroke-width="0.85" />
<line x1="204.85" y1="443.50" x2="207.25" y2="443.50" stroke="#111" stroke-width="0.85" />
<line x1="204.85" y1="446.50" x2="207.25" y2="446.50" stroke="#111" stroke-width="0.85" />
<line x1="204.85" y1="448.50" x2="207.25" y2="448.50" stroke="#111" stroke-width="0.85" />
<line x1="204.85" y1="452.00" x2="207.25" y2="452.00" stroke="#111" stroke-width="0.85" />
<line x1="204.85" y1="454.50" x2="207.25" y2="454.50" stroke="#111" stroke-width="0.85" />
<rect x="204.25" y="429.20" width="3.00" height="3.00" fill="#000"/>
<text x="197.05" y="353.85" font-size="7.2" text-anchor="end" fill="#111">10</text>
<text x="197.35" y="350.95" font-size="5.8" fill="#111">5</text>
<text x="197.05" y="381.50" font-size="7.2" text-anchor="end" fill="#111">10</text>
<text x="197.35" y="378.60" font-size="5.8" fill="#111">4</text>
<text x="197.05" y="413.60" font-size="7.2" text-anchor="end" fill="#111">10</text>
<text x="197.35" y="410.70" font-size="5.8" fill="#111">3</text>
<text x="197.05" y="433.30" font-size="7.2" text-anchor="end" fill="#111">0</text>
<text x="197.05" y="452.60" font-size="7.2" text-anchor="end" fill="#111">−10</text>
<text x="197.35" y="449.70" font-size="5.8" fill="#111">3</text>
<line x1="207.75" y1="457.50" x2="207.75" y2="461.30" stroke="#111" stroke-width="0.85" />
<line x1="212.20" y1="457.50" x2="212.20" y2="460.30" stroke="#111" stroke-width="0.85" />
<line x1="216.65" y1="457.50" x2="216.65" y2="460.30" stroke="#111" stroke-width="0.85" />
<line x1="221.10" y1="457.50" x2="221.10" y2="460.30" stroke="#111" stroke-width="0.85" />
<line x1="225.55" y1="457.50" x2="225.55" y2="460.30" stroke="#111" stroke-width="0.85" />
<line x1="230.00" y1="457.50" x2="230.00" y2="461.30" stroke="#111" stroke-width="0.85" />
<line x1="234.45" y1="457.50" x2="234.45" y2="460.30" stroke="#111" stroke-width="0.85" />
<line x1="238.90" y1="457.50" x2="238.90" y2="460.30" stroke="#111" stroke-width="0.85" />
<line x1="243.35" y1="457.50" x2="243.35" y2="460.30" stroke="#111" stroke-width="0.85" />
<line x1="247.80" y1="457.50" x2="247.80" y2="460.30" stroke="#111" stroke-width="0.85" />
<line x1="252.25" y1="457.50" x2="252.25" y2="461.30" stroke="#111" stroke-width="0.85" />
<line x1="256.70" y1="457.50" x2="256.70" y2="460.30" stroke="#111" stroke-width="0.85" />
<line x1="261.15" y1="457.50" x2="261.15" y2="460.30" stroke="#111" stroke-width="0.85" />
<line x1="265.60" y1="457.50" x2="265.60" y2="460.30" stroke="#111" stroke-width="0.85" />
<line x1="270.05" y1="457.50" x2="270.05" y2="460.30" stroke="#111" stroke-width="0.85" />
<line x1="274.50" y1="457.50" x2="274.50" y2="461.30" stroke="#111" stroke-width="0.85" />
<line x1="278.95" y1="457.50" x2="278.95" y2="460.30" stroke="#111" stroke-width="0.85" />
<line x1="283.40" y1="457.50" x2="283.40" y2="460.30" stroke="#111" stroke-width="0.85" />
<line x1="287.85" y1="457.50" x2="287.85" y2="460.30" stroke="#111" stroke-width="0.85" />
<line x1="292.30" y1="457.50" x2="292.30" y2="460.30" stroke="#111" stroke-width="0.85" />
<line x1="296.75" y1="457.50" x2="296.75" y2="461.30" stroke="#111" stroke-width="0.85" />
<line x1="301.20" y1="457.50" x2="301.20" y2="460.30" stroke="#111" stroke-width="0.85" />
<line x1="305.65" y1="457.50" x2="305.65" y2="460.30" stroke="#111" stroke-width="0.85" />
<line x1="310.10" y1="457.50" x2="310.10" y2="460.30" stroke="#111" stroke-width="0.85" />
<line x1="314.55" y1="457.50" x2="314.55" y2="460.30" stroke="#111" stroke-width="0.85" />
<line x1="319.00" y1="457.50" x2="319.00" y2="461.30" stroke="#111" stroke-width="0.85" />
<line x1="323.45" y1="457.50" x2="323.45" y2="460.30" stroke="#111" stroke-width="0.85" />
<text x="207.75" y="470.40" font-size="7.6" text-anchor="middle" font-weight="normal" fill="#111" >0</text>
<text x="252.25" y="470.40" font-size="7.6" text-anchor="middle" font-weight="normal" fill="#111" >100K</text>
<text x="296.75" y="470.40" font-size="7.6" text-anchor="middle" font-weight="normal" fill="#111" >200K</text>
<rect x="221.25" y="364.00" width="80.65" height="50.40" fill="none" stroke="#333" stroke-width="1"/>
<text x="294.80" y="391.30" font-size="7.8" text-anchor="end" font-weight="normal" fill="#111" >98.7</text>
<rect x="59.50" y="480.30" width="118.00" height="117.50" fill="none" stroke="#111" stroke-width="1.1"/>
<line x1="56.10" y1="492.05" x2="59.50" y2="492.05" stroke="#111" stroke-width="0.85" />
<line x1="57.10" y1="483.71" x2="59.50" y2="483.71" stroke="#111" stroke-width="0.85" />
<line x1="56.10" y1="519.70" x2="59.50" y2="519.70" stroke="#111" stroke-width="0.85" />
<line x1="57.10" y1="511.38" x2="59.50" y2="511.38" stroke="#111" stroke-width="0.85" />
<line x1="57.10" y1="506.51" x2="59.50" y2="506.51" stroke="#111" stroke-width="0.85" />
<line x1="57.10" y1="503.05" x2="59.50" y2="503.05" stroke="#111" stroke-width="0.85" />
<line x1="57.10" y1="500.37" x2="59.50" y2="500.37" stroke="#111" stroke-width="0.85" />
<line x1="57.10" y1="498.18" x2="59.50" y2="498.18" stroke="#111" stroke-width="0.85" />
<line x1="57.10" y1="496.33" x2="59.50" y2="496.33" stroke="#111" stroke-width="0.85" />
<line x1="57.10" y1="494.73" x2="59.50" y2="494.73" stroke="#111" stroke-width="0.85" />
<line x1="57.10" y1="493.32" x2="59.50" y2="493.32" stroke="#111" stroke-width="0.85" />
<line x1="56.10" y1="551.80" x2="59.50" y2="551.80" stroke="#111" stroke-width="0.85" />
<line x1="57.10" y1="542.14" x2="59.50" y2="542.14" stroke="#111" stroke-width="0.85" />
<line x1="57.10" y1="536.48" x2="59.50" y2="536.48" stroke="#111" stroke-width="0.85" />
<line x1="57.10" y1="532.47" x2="59.50" y2="532.47" stroke="#111" stroke-width="0.85" />
<line x1="57.10" y1="529.36" x2="59.50" y2="529.36" stroke="#111" stroke-width="0.85" />
<line x1="57.10" y1="526.82" x2="59.50" y2="526.82" stroke="#111" stroke-width="0.85" />
<line x1="57.10" y1="524.67" x2="59.50" y2="524.67" stroke="#111" stroke-width="0.85" />
<line x1="57.10" y1="522.81" x2="59.50" y2="522.81" stroke="#111" stroke-width="0.85" />
<line x1="57.10" y1="521.17" x2="59.50" y2="521.17" stroke="#111" stroke-width="0.85" />
<line x1="56.10" y1="571.50" x2="59.50" y2="571.50" stroke="#111" stroke-width="0.85" />
<line x1="56.10" y1="590.80" x2="59.50" y2="590.80" stroke="#111" stroke-width="0.85" />
<line x1="57.10" y1="553.80" x2="59.50" y2="553.80" stroke="#111" stroke-width="0.85" />
<line x1="57.10" y1="555.30" x2="59.50" y2="555.30" stroke="#111" stroke-width="0.85" />
<line x1="57.10" y1="556.80" x2="59.50" y2="556.80" stroke="#111" stroke-width="0.85" />
<line x1="57.10" y1="558.30" x2="59.50" y2="558.30" stroke="#111" stroke-width="0.85" />
<line x1="57.10" y1="560.30" x2="59.50" y2="560.30" stroke="#111" stroke-width="0.85" />
<line x1="57.10" y1="563.30" x2="59.50" y2="563.30" stroke="#111" stroke-width="0.85" />
<line x1="57.10" y1="566.30" x2="59.50" y2="566.30" stroke="#111" stroke-width="0.85" />
<line x1="57.10" y1="568.80" x2="59.50" y2="568.80" stroke="#111" stroke-width="0.85" />
<line x1="57.10" y1="573.30" x2="59.50" y2="573.30" stroke="#111" stroke-width="0.85" />
<line x1="57.10" y1="575.30" x2="59.50" y2="575.30" stroke="#111" stroke-width="0.85" />
<line x1="57.10" y1="578.30" x2="59.50" y2="578.30" stroke="#111" stroke-width="0.85" />
<line x1="57.10" y1="581.30" x2="59.50" y2="581.30" stroke="#111" stroke-width="0.85" />
<line x1="57.10" y1="584.30" x2="59.50" y2="584.30" stroke="#111" stroke-width="0.85" />
<line x1="57.10" y1="587.30" x2="59.50" y2="587.30" stroke="#111" stroke-width="0.85" />
<line x1="57.10" y1="589.30" x2="59.50" y2="589.30" stroke="#111" stroke-width="0.85" />
<line x1="57.10" y1="592.80" x2="59.50" y2="592.80" stroke="#111" stroke-width="0.85" />
<line x1="57.10" y1="595.30" x2="59.50" y2="595.30" stroke="#111" stroke-width="0.85" />
<rect x="56.50" y="570.00" width="3.00" height="3.00" fill="#000"/>
<text x="49.30" y="494.65" font-size="7.2" text-anchor="end" fill="#111">10</text>
<text x="49.60" y="491.75" font-size="5.8" fill="#111">5</text>
<text x="49.30" y="522.30" font-size="7.2" text-anchor="end" fill="#111">10</text>
<text x="49.60" y="519.40" font-size="5.8" fill="#111">4</text>
<text x="49.30" y="554.40" font-size="7.2" text-anchor="end" fill="#111">10</text>
<text x="49.60" y="551.50" font-size="5.8" fill="#111">3</text>
<text x="49.30" y="574.10" font-size="7.2" text-anchor="end" fill="#111">0</text>
<text x="49.30" y="593.40" font-size="7.2" text-anchor="end" fill="#111">−10</text>
<text x="49.60" y="590.50" font-size="5.8" fill="#111">3</text>
<line x1="60.00" y1="597.80" x2="60.00" y2="601.60" stroke="#111" stroke-width="0.85" />
<line x1="64.45" y1="597.80" x2="64.45" y2="600.60" stroke="#111" stroke-width="0.85" />
<line x1="68.90" y1="597.80" x2="68.90" y2="600.60" stroke="#111" stroke-width="0.85" />
<line x1="73.35" y1="597.80" x2="73.35" y2="600.60" stroke="#111" stroke-width="0.85" />
<line x1="77.80" y1="597.80" x2="77.80" y2="600.60" stroke="#111" stroke-width="0.85" />
<line x1="82.25" y1="597.80" x2="82.25" y2="601.60" stroke="#111" stroke-width="0.85" />
<line x1="86.70" y1="597.80" x2="86.70" y2="600.60" stroke="#111" stroke-width="0.85" />
<line x1="91.15" y1="597.80" x2="91.15" y2="600.60" stroke="#111" stroke-width="0.85" />
<line x1="95.60" y1="597.80" x2="95.60" y2="600.60" stroke="#111" stroke-width="0.85" />
<line x1="100.05" y1="597.80" x2="100.05" y2="600.60" stroke="#111" stroke-width="0.85" />
<line x1="104.50" y1="597.80" x2="104.50" y2="601.60" stroke="#111" stroke-width="0.85" />
<line x1="108.95" y1="597.80" x2="108.95" y2="600.60" stroke="#111" stroke-width="0.85" />
<line x1="113.40" y1="597.80" x2="113.40" y2="600.60" stroke="#111" stroke-width="0.85" />
<line x1="117.85" y1="597.80" x2="117.85" y2="600.60" stroke="#111" stroke-width="0.85" />
<line x1="122.30" y1="597.80" x2="122.30" y2="600.60" stroke="#111" stroke-width="0.85" />
<line x1="126.75" y1="597.80" x2="126.75" y2="601.60" stroke="#111" stroke-width="0.85" />
<line x1="131.20" y1="597.80" x2="131.20" y2="600.60" stroke="#111" stroke-width="0.85" />
<line x1="135.65" y1="597.80" x2="135.65" y2="600.60" stroke="#111" stroke-width="0.85" />
<line x1="140.10" y1="597.80" x2="140.10" y2="600.60" stroke="#111" stroke-width="0.85" />
<line x1="144.55" y1="597.80" x2="144.55" y2="600.60" stroke="#111" stroke-width="0.85" />
<line x1="149.00" y1="597.80" x2="149.00" y2="601.60" stroke="#111" stroke-width="0.85" />
<line x1="153.45" y1="597.80" x2="153.45" y2="600.60" stroke="#111" stroke-width="0.85" />
<line x1="157.90" y1="597.80" x2="157.90" y2="600.60" stroke="#111" stroke-width="0.85" />
<line x1="162.35" y1="597.80" x2="162.35" y2="600.60" stroke="#111" stroke-width="0.85" />
<line x1="166.80" y1="597.80" x2="166.80" y2="600.60" stroke="#111" stroke-width="0.85" />
<line x1="171.25" y1="597.80" x2="171.25" y2="601.60" stroke="#111" stroke-width="0.85" />
<line x1="175.70" y1="597.80" x2="175.70" y2="600.60" stroke="#111" stroke-width="0.85" />
<text x="60.00" y="610.70" font-size="7.6" text-anchor="middle" font-weight="normal" fill="#111" >0</text>
<text x="104.50" y="610.70" font-size="7.6" text-anchor="middle" font-weight="normal" fill="#111" >100K</text>
<text x="149.00" y="610.70" font-size="7.6" text-anchor="middle" font-weight="normal" fill="#111" >200K</text>
<rect x="67.50" y="504.20" width="84.10" height="54.60" fill="none" stroke="#333" stroke-width="1"/>
<text x="148.10" y="537.00" font-size="7.8" text-anchor="end" font-weight="normal" fill="#111" >13.6</text>
<rect x="207.25" y="479.80" width="118.15" height="118.10" fill="none" stroke="#111" stroke-width="1.1"/>
<line x1="203.85" y1="491.55" x2="207.25" y2="491.55" stroke="#111" stroke-width="0.85" />
<line x1="204.85" y1="483.21" x2="207.25" y2="483.21" stroke="#111" stroke-width="0.85" />
<line x1="203.85" y1="519.20" x2="207.25" y2="519.20" stroke="#111" stroke-width="0.85" />
<line x1="204.85" y1="510.88" x2="207.25" y2="510.88" stroke="#111" stroke-width="0.85" />
<line x1="204.85" y1="506.01" x2="207.25" y2="506.01" stroke="#111" stroke-width="0.85" />
<line x1="204.85" y1="502.55" x2="207.25" y2="502.55" stroke="#111" stroke-width="0.85" />
<line x1="204.85" y1="499.87" x2="207.25" y2="499.87" stroke="#111" stroke-width="0.85" />
<line x1="204.85" y1="497.68" x2="207.25" y2="497.68" stroke="#111" stroke-width="0.85" />
<line x1="204.85" y1="495.83" x2="207.25" y2="495.83" stroke="#111" stroke-width="0.85" />
<line x1="204.85" y1="494.23" x2="207.25" y2="494.23" stroke="#111" stroke-width="0.85" />
<line x1="204.85" y1="492.82" x2="207.25" y2="492.82" stroke="#111" stroke-width="0.85" />
<line x1="203.85" y1="551.30" x2="207.25" y2="551.30" stroke="#111" stroke-width="0.85" />
<line x1="204.85" y1="541.64" x2="207.25" y2="541.64" stroke="#111" stroke-width="0.85" />
<line x1="204.85" y1="535.98" x2="207.25" y2="535.98" stroke="#111" stroke-width="0.85" />
<line x1="204.85" y1="531.97" x2="207.25" y2="531.97" stroke="#111" stroke-width="0.85" />
<line x1="204.85" y1="528.86" x2="207.25" y2="528.86" stroke="#111" stroke-width="0.85" />
<line x1="204.85" y1="526.32" x2="207.25" y2="526.32" stroke="#111" stroke-width="0.85" />
<line x1="204.85" y1="524.17" x2="207.25" y2="524.17" stroke="#111" stroke-width="0.85" />
<line x1="204.85" y1="522.31" x2="207.25" y2="522.31" stroke="#111" stroke-width="0.85" />
<line x1="204.85" y1="520.67" x2="207.25" y2="520.67" stroke="#111" stroke-width="0.85" />
<line x1="203.85" y1="571.00" x2="207.25" y2="571.00" stroke="#111" stroke-width="0.85" />
<line x1="203.85" y1="590.30" x2="207.25" y2="590.30" stroke="#111" stroke-width="0.85" />
<line x1="204.85" y1="553.30" x2="207.25" y2="553.30" stroke="#111" stroke-width="0.85" />
<line x1="204.85" y1="554.80" x2="207.25" y2="554.80" stroke="#111" stroke-width="0.85" />
<line x1="204.85" y1="556.30" x2="207.25" y2="556.30" stroke="#111" stroke-width="0.85" />
<line x1="204.85" y1="557.80" x2="207.25" y2="557.80" stroke="#111" stroke-width="0.85" />
<line x1="204.85" y1="559.80" x2="207.25" y2="559.80" stroke="#111" stroke-width="0.85" />
<line x1="204.85" y1="562.80" x2="207.25" y2="562.80" stroke="#111" stroke-width="0.85" />
<line x1="204.85" y1="565.80" x2="207.25" y2="565.80" stroke="#111" stroke-width="0.85" />
<line x1="204.85" y1="568.30" x2="207.25" y2="568.30" stroke="#111" stroke-width="0.85" />
<line x1="204.85" y1="572.80" x2="207.25" y2="572.80" stroke="#111" stroke-width="0.85" />
<line x1="204.85" y1="574.80" x2="207.25" y2="574.80" stroke="#111" stroke-width="0.85" />
<line x1="204.85" y1="577.80" x2="207.25" y2="577.80" stroke="#111" stroke-width="0.85" />
<line x1="204.85" y1="580.80" x2="207.25" y2="580.80" stroke="#111" stroke-width="0.85" />
<line x1="204.85" y1="583.80" x2="207.25" y2="583.80" stroke="#111" stroke-width="0.85" />
<line x1="204.85" y1="586.80" x2="207.25" y2="586.80" stroke="#111" stroke-width="0.85" />
<line x1="204.85" y1="588.80" x2="207.25" y2="588.80" stroke="#111" stroke-width="0.85" />
<line x1="204.85" y1="592.30" x2="207.25" y2="592.30" stroke="#111" stroke-width="0.85" />
<line x1="204.85" y1="594.80" x2="207.25" y2="594.80" stroke="#111" stroke-width="0.85" />
<rect x="204.25" y="569.50" width="3.00" height="3.00" fill="#000"/>
<text x="197.05" y="494.15" font-size="7.2" text-anchor="end" fill="#111">10</text>
<text x="197.35" y="491.25" font-size="5.8" fill="#111">5</text>
<text x="197.05" y="521.80" font-size="7.2" text-anchor="end" fill="#111">10</text>
<text x="197.35" y="518.90" font-size="5.8" fill="#111">4</text>
<text x="197.05" y="553.90" font-size="7.2" text-anchor="end" fill="#111">10</text>
<text x="197.35" y="551.00" font-size="5.8" fill="#111">3</text>
<text x="197.05" y="573.60" font-size="7.2" text-anchor="end" fill="#111">0</text>
<text x="197.05" y="592.90" font-size="7.2" text-anchor="end" fill="#111">−10</text>
<text x="197.35" y="590.00" font-size="5.8" fill="#111">3</text>
<line x1="207.75" y1="597.90" x2="207.75" y2="601.70" stroke="#111" stroke-width="0.85" />
<line x1="212.20" y1="597.90" x2="212.20" y2="600.70" stroke="#111" stroke-width="0.85" />
<line x1="216.65" y1="597.90" x2="216.65" y2="600.70" stroke="#111" stroke-width="0.85" />
<line x1="221.10" y1="597.90" x2="221.10" y2="600.70" stroke="#111" stroke-width="0.85" />
<line x1="225.55" y1="597.90" x2="225.55" y2="600.70" stroke="#111" stroke-width="0.85" />
<line x1="230.00" y1="597.90" x2="230.00" y2="601.70" stroke="#111" stroke-width="0.85" />
<line x1="234.45" y1="597.90" x2="234.45" y2="600.70" stroke="#111" stroke-width="0.85" />
<line x1="238.90" y1="597.90" x2="238.90" y2="600.70" stroke="#111" stroke-width="0.85" />
<line x1="243.35" y1="597.90" x2="243.35" y2="600.70" stroke="#111" stroke-width="0.85" />
<line x1="247.80" y1="597.90" x2="247.80" y2="600.70" stroke="#111" stroke-width="0.85" />
<line x1="252.25" y1="597.90" x2="252.25" y2="601.70" stroke="#111" stroke-width="0.85" />
<line x1="256.70" y1="597.90" x2="256.70" y2="600.70" stroke="#111" stroke-width="0.85" />
<line x1="261.15" y1="597.90" x2="261.15" y2="600.70" stroke="#111" stroke-width="0.85" />
<line x1="265.60" y1="597.90" x2="265.60" y2="600.70" stroke="#111" stroke-width="0.85" />
<line x1="270.05" y1="597.90" x2="270.05" y2="600.70" stroke="#111" stroke-width="0.85" />
<line x1="274.50" y1="597.90" x2="274.50" y2="601.70" stroke="#111" stroke-width="0.85" />
<line x1="278.95" y1="597.90" x2="278.95" y2="600.70" stroke="#111" stroke-width="0.85" />
<line x1="283.40" y1="597.90" x2="283.40" y2="600.70" stroke="#111" stroke-width="0.85" />
<line x1="287.85" y1="597.90" x2="287.85" y2="600.70" stroke="#111" stroke-width="0.85" />
<line x1="292.30" y1="597.90" x2="292.30" y2="600.70" stroke="#111" stroke-width="0.85" />
<line x1="296.75" y1="597.90" x2="296.75" y2="601.70" stroke="#111" stroke-width="0.85" />
<line x1="301.20" y1="597.90" x2="301.20" y2="600.70" stroke="#111" stroke-width="0.85" />
<line x1="305.65" y1="597.90" x2="305.65" y2="600.70" stroke="#111" stroke-width="0.85" />
<line x1="310.10" y1="597.90" x2="310.10" y2="600.70" stroke="#111" stroke-width="0.85" />
<line x1="314.55" y1="597.90" x2="314.55" y2="600.70" stroke="#111" stroke-width="0.85" />
<line x1="319.00" y1="597.90" x2="319.00" y2="601.70" stroke="#111" stroke-width="0.85" />
<line x1="323.45" y1="597.90" x2="323.45" y2="600.70" stroke="#111" stroke-width="0.85" />
<text x="207.75" y="610.80" font-size="7.6" text-anchor="middle" font-weight="normal" fill="#111" >0</text>
<text x="252.25" y="610.80" font-size="7.6" text-anchor="middle" font-weight="normal" fill="#111" >100K</text>
<text x="296.75" y="610.80" font-size="7.6" text-anchor="middle" font-weight="normal" fill="#111" >200K</text>
<rect x="212.75" y="503.25" width="86.85" height="55.15" fill="none" stroke="#333" stroke-width="1"/>
<text x="295.00" y="531.90" font-size="7.8" text-anchor="end" font-weight="normal" fill="#111" >99.5</text>
<text x="0" y="0" font-size="9.8" fill="#111" textLength="67.3" lengthAdjust="spacingAndGlyphs" transform="translate(333.60,365.60) rotate(90)">Flk2<tspan font-size="6.60" dy="-3.90">neg</tspan><tspan dy="3.90">/CD34</tspan><tspan font-size="6.60" dy="-3.90">pos</tspan></text>
<text x="0" y="0" font-size="9.8" fill="#111" textLength="67.3" lengthAdjust="spacingAndGlyphs" transform="translate(333.30,505.60) rotate(90)">Flk2<tspan font-size="6.60" dy="-3.90">neg</tspan><tspan dy="3.90">/CD34</tspan><tspan font-size="6.60" dy="-3.90">neg</tspan></text>
<rect x="408.20" y="128.60" width="13.40" height="68.65" fill="#c8102e"/>
<rect x="431.30" y="90.50" width="13.50" height="106.75" fill="#0f4c81"/>
<rect x="463.80" y="187.30" width="13.50" height="9.95" fill="#3ab54a"/>
<rect x="487.20" y="103.30" width="13.60" height="93.95" fill="#5b2569"/>
<line x1="401.50" y1="62.20" x2="401.50" y2="198.00" stroke="#000" stroke-width="1.0" />
<line x1="401.00" y1="197.50" x2="512.70" y2="197.50" stroke="#000" stroke-width="1.0" />
<line x1="398.50" y1="197.50" x2="401.50" y2="197.50" stroke="#111" stroke-width="1" />
<text x="394.90" y="200.10" font-size="7.4" text-anchor="end" font-weight="normal" fill="#111" >0</text>
<line x1="398.50" y1="164.60" x2="401.50" y2="164.60" stroke="#111" stroke-width="1" />
<text x="394.90" y="167.20" font-size="7.4" text-anchor="end" font-weight="normal" fill="#111" >30</text>
<line x1="398.50" y1="131.75" x2="401.50" y2="131.75" stroke="#111" stroke-width="1" />
<text x="394.90" y="134.35" font-size="7.4" text-anchor="end" font-weight="normal" fill="#111" >60</text>
<line x1="398.50" y1="98.90" x2="401.50" y2="98.90" stroke="#111" stroke-width="1" />
<text x="394.90" y="101.50" font-size="7.4" text-anchor="end" font-weight="normal" fill="#111" >90</text>
<line x1="398.50" y1="66.00" x2="401.50" y2="66.00" stroke="#111" stroke-width="1" />
<text x="394.90" y="68.60" font-size="7.4" text-anchor="end" font-weight="normal" fill="#111" >120</text>
<line x1="414.90" y1="119.60" x2="414.90" y2="128.60" stroke="#222" stroke-width="0.9" />
<line x1="411.60" y1="119.60" x2="418.20" y2="119.60" stroke="#222" stroke-width="1.1" />
<line x1="438.05" y1="87.90" x2="438.05" y2="90.50" stroke="#222" stroke-width="0.9" />
<line x1="434.75" y1="87.90" x2="441.35" y2="87.90" stroke="#222" stroke-width="1.1" />
<line x1="470.55" y1="181.80" x2="470.55" y2="187.30" stroke="#222" stroke-width="0.9" />
<line x1="467.25" y1="181.80" x2="473.85" y2="181.80" stroke="#222" stroke-width="1.1" />
<line x1="494.00" y1="99.00" x2="494.00" y2="103.30" stroke="#222" stroke-width="0.9" />
<line x1="490.70" y1="99.00" x2="497.30" y2="99.00" stroke="#222" stroke-width="1.1" />
<line x1="414.90" y1="197.50" x2="414.90" y2="200.50" stroke="#111" stroke-width="1" />
<line x1="438.05" y1="197.50" x2="438.05" y2="200.50" stroke="#111" stroke-width="1" />
<line x1="470.55" y1="197.50" x2="470.55" y2="200.50" stroke="#111" stroke-width="1" />
<line x1="494.00" y1="197.50" x2="494.00" y2="200.50" stroke="#111" stroke-width="1" />
<path d="M414.6,115.6 V80.5 H437.9 V83.3" fill="none" stroke="#333" stroke-width="0.9"/>
<path d="M470.6,172.6 V89.8 H494 V96" fill="none" stroke="#333" stroke-width="0.9"/>
<text x="426.30" y="77.40" font-size="7.6" text-anchor="middle" font-weight="bold" fill="#111" >**</text>
<text x="482.30" y="87.00" font-size="7.6" text-anchor="middle" font-weight="bold" fill="#111" >***</text>
<text x="380.00" y="210.20" font-size="7.4" text-anchor="start" font-weight="normal" fill="#111" textLength="20.60" lengthAdjust="spacingAndGlyphs" >rhFTVI</text>
<text x="414.90" y="210.20" font-size="7.4" text-anchor="middle" font-weight="normal" fill="#111" >(–)</text>
<text x="438.05" y="210.20" font-size="7.4" text-anchor="middle" font-weight="normal" fill="#111" >(+)</text>
<text x="470.55" y="210.20" font-size="7.4" text-anchor="middle" font-weight="normal" fill="#111" >(–)</text>
<text x="494.00" y="210.20" font-size="7.4" text-anchor="middle" font-weight="normal" fill="#111" >(+)</text>
<line x1="409.70" y1="216.90" x2="443.40" y2="216.90" stroke="#444" stroke-width="1.2" />
<line x1="469.00" y1="216.90" x2="502.80" y2="216.90" stroke="#444" stroke-width="1.2" />
<text x="425.50" y="229.20" font-size="7.6" text-anchor="middle" fill="#111">Flk2<tspan font-size="5.4" dy="-2.4">neg</tspan><tspan dy="2.4">/</tspan></text>
<text x="425.50" y="237.60" font-size="7.6" text-anchor="middle" fill="#111">CD34<tspan font-size="5.4" dy="-2.4">pos</tspan></text>
<text x="484.80" y="229.20" font-size="7.6" text-anchor="middle" fill="#111">Flk2<tspan font-size="5.4" dy="-2.4">neg</tspan><tspan dy="2.4">/</tspan></text>
<text x="484.80" y="237.60" font-size="7.6" text-anchor="middle" fill="#111">CD34<tspan font-size="5.4" dy="-2.4">neg</tspan></text>
<text x="0" y="0" font-size="8.4" font-weight="bold" text-anchor="middle" fill="#111" textLength="45.2" lengthAdjust="spacingAndGlyphs" transform="translate(375.40,129.60) rotate(-90)">% of expression</text>
<rect x="408.75" y="407.00" width="14.00" height="11.00" fill="#5b2569"/>
<rect x="408.75" y="418.00" width="14.00" height="4.00" fill="#3ab54a"/>
<rect x="408.75" y="422.00" width="14.00" height="50.75" fill="#0f4c81"/>
<rect x="408.75" y="472.75" width="14.00" height="27.25" fill="#c8102e"/>
<rect x="433.10" y="385.25" width="14.10" height="15.75" fill="#5b2569"/>
<rect x="433.10" y="401.00" width="14.10" height="11.25" fill="#3ab54a"/>
<rect x="433.10" y="412.25" width="14.10" height="54.25" fill="#0f4c81"/>
<rect x="433.10" y="466.50" width="14.10" height="33.50" fill="#c8102e"/>
<rect x="466.70" y="462.90" width="14.30" height="4.00" fill="#5b2569"/>
<rect x="466.70" y="466.90" width="14.30" height="5.50" fill="#3ab54a"/>
<rect x="466.70" y="472.40" width="14.30" height="16.40" fill="#0f4c81"/>
<rect x="466.70" y="488.80" width="14.30" height="11.20" fill="#c8102e"/>
<rect x="491.00" y="447.30" width="14.60" height="7.45" fill="#5b2569"/>
<rect x="491.00" y="454.75" width="14.60" height="5.85" fill="#3ab54a"/>
<rect x="491.00" y="460.60" width="14.60" height="25.10" fill="#0f4c81"/>
<rect x="491.00" y="485.70" width="14.60" height="14.30" fill="#c8102e"/>
<line x1="401.50" y1="370.00" x2="401.50" y2="501.00" stroke="#000" stroke-width="1.0" />
<line x1="401.00" y1="500.50" x2="512.20" y2="500.50" stroke="#000" stroke-width="1.0" />
<line x1="398.50" y1="500.50" x2="401.50" y2="500.50" stroke="#111" stroke-width="1" />
<text x="394.90" y="503.10" font-size="7.4" text-anchor="end" font-weight="normal" fill="#111" >0</text>
<line x1="398.50" y1="475.20" x2="401.50" y2="475.20" stroke="#111" stroke-width="1" />
<text x="394.90" y="477.80" font-size="7.4" text-anchor="end" font-weight="normal" fill="#111" >20</text>
<line x1="398.50" y1="449.90" x2="401.50" y2="449.90" stroke="#111" stroke-width="1" />
<text x="394.90" y="452.50" font-size="7.4" text-anchor="end" font-weight="normal" fill="#111" >40</text>
<line x1="398.50" y1="424.60" x2="401.50" y2="424.60" stroke="#111" stroke-width="1" />
<text x="394.90" y="427.20" font-size="7.4" text-anchor="end" font-weight="normal" fill="#111" >60</text>
<line x1="398.50" y1="399.30" x2="401.50" y2="399.30" stroke="#111" stroke-width="1" />
<text x="394.90" y="401.90" font-size="7.4" text-anchor="end" font-weight="normal" fill="#111" >80</text>
<line x1="398.50" y1="374.10" x2="401.50" y2="374.10" stroke="#111" stroke-width="1" />
<text x="394.90" y="376.70" font-size="7.4" text-anchor="end" font-weight="normal" fill="#111" >100</text>
<line x1="415.75" y1="404.10" x2="415.75" y2="407.00" stroke="#222" stroke-width="0.9" />
<line x1="412.45" y1="404.10" x2="419.05" y2="404.10" stroke="#222" stroke-width="1.1" />
<line x1="415.75" y1="415.75" x2="415.75" y2="422.00" stroke="#000" stroke-width="1.3" />
<line x1="412.75" y1="415.75" x2="418.75" y2="415.75" stroke="#000" stroke-width="1.6" />
<line x1="415.75" y1="466.00" x2="415.75" y2="472.75" stroke="#000" stroke-width="1.3" />
<line x1="412.75" y1="466.00" x2="418.75" y2="466.00" stroke="#000" stroke-width="1.6" />
<line x1="440.15" y1="383.40" x2="440.15" y2="385.25" stroke="#222" stroke-width="0.9" />
<line x1="436.85" y1="383.40" x2="443.45" y2="383.40" stroke="#222" stroke-width="1.1" />
<line x1="440.15" y1="398.50" x2="440.15" y2="401.00" stroke="#000" stroke-width="1.3" />
<line x1="437.15" y1="398.50" x2="443.15" y2="398.50" stroke="#000" stroke-width="1.6" />
<line x1="440.15" y1="405.50" x2="440.15" y2="412.25" stroke="#000" stroke-width="1.3" />
<line x1="437.15" y1="405.50" x2="443.15" y2="405.50" stroke="#000" stroke-width="1.6" />
<line x1="440.15" y1="461.90" x2="440.15" y2="466.50" stroke="#000" stroke-width="1.3" />
<line x1="437.15" y1="461.90" x2="443.15" y2="461.90" stroke="#000" stroke-width="1.6" />
<line x1="473.85" y1="460.30" x2="473.85" y2="462.90" stroke="#222" stroke-width="0.9" />
<line x1="470.55" y1="460.30" x2="477.15" y2="460.30" stroke="#222" stroke-width="1.1" />
<line x1="473.85" y1="464.60" x2="473.85" y2="472.40" stroke="#000" stroke-width="1.3" />
<line x1="470.85" y1="464.60" x2="476.85" y2="464.60" stroke="#000" stroke-width="1.6" />
<line x1="473.85" y1="487.10" x2="473.85" y2="488.80" stroke="#000" stroke-width="1.3" />
<line x1="470.85" y1="487.10" x2="476.85" y2="487.10" stroke="#000" stroke-width="1.6" />
<line x1="498.30" y1="444.50" x2="498.30" y2="447.30" stroke="#222" stroke-width="0.9" />
<line x1="495.00" y1="444.50" x2="501.60" y2="444.50" stroke="#222" stroke-width="1.1" />
<line x1="498.30" y1="451.10" x2="498.30" y2="454.75" stroke="#000" stroke-width="1.3" />
<line x1="495.30" y1="451.10" x2="501.30" y2="451.10" stroke="#000" stroke-width="1.6" />
<line x1="498.30" y1="457.30" x2="498.30" y2="460.60" stroke="#000" stroke-width="1.3" />
<line x1="495.30" y1="457.30" x2="501.30" y2="457.30" stroke="#000" stroke-width="1.6" />
<line x1="498.30" y1="484.00" x2="498.30" y2="485.70" stroke="#000" stroke-width="1.3" />
<line x1="495.30" y1="484.00" x2="501.30" y2="484.00" stroke="#000" stroke-width="1.6" />
<line x1="415.75" y1="500.50" x2="415.75" y2="503.80" stroke="#111" stroke-width="1" />
<line x1="440.15" y1="500.50" x2="440.15" y2="503.80" stroke="#111" stroke-width="1" />
<line x1="473.85" y1="500.50" x2="473.85" y2="503.80" stroke="#111" stroke-width="1" />
<line x1="498.30" y1="500.50" x2="498.30" y2="503.80" stroke="#111" stroke-width="1" />
<text x="380.00" y="512.30" font-size="7.4" text-anchor="start" font-weight="normal" fill="#111" textLength="21.20" lengthAdjust="spacingAndGlyphs" >rhFTVI</text>
<text x="415.75" y="511.90" font-size="7.4" text-anchor="middle" font-weight="normal" fill="#111" >(–)</text>
<text x="440.15" y="511.90" font-size="7.4" text-anchor="middle" font-weight="normal" fill="#111" >(+)</text>
<text x="473.85" y="511.90" font-size="7.4" text-anchor="middle" font-weight="normal" fill="#111" >(–)</text>
<text x="498.30" y="511.90" font-size="7.4" text-anchor="middle" font-weight="normal" fill="#111" >(+)</text>
<line x1="410.80" y1="519.90" x2="444.50" y2="519.90" stroke="#444" stroke-width="1.2" />
<line x1="469.30" y1="519.90" x2="503.00" y2="519.90" stroke="#444" stroke-width="1.2" />
<text x="426.70" y="531.30" font-size="7.6" text-anchor="middle" fill="#111">Flk2<tspan font-size="5.4" dy="-2.4">neg</tspan><tspan dy="2.4">/</tspan></text>
<text x="426.70" y="540.30" font-size="7.6" text-anchor="middle" fill="#111">CD34<tspan font-size="5.4" dy="-2.4">neg</tspan></text>
<text x="485.00" y="531.30" font-size="7.6" text-anchor="middle" fill="#111">Flk2<tspan font-size="5.4" dy="-2.4">neg</tspan><tspan dy="2.4">/</tspan></text>
<text x="485.00" y="540.30" font-size="7.6" text-anchor="middle" fill="#111">CD34<tspan font-size="5.4" dy="-2.4">pos</tspan></text>
<text x="0" y="0" font-size="8.6" font-weight="bold" text-anchor="middle" fill="#111" textLength="66" lengthAdjust="spacingAndGlyphs" transform="translate(376.60,434.80) rotate(-90)"># of colonies/500 cells</text>
<rect x="411.70" y="553.90" width="4.60" height="5.00" fill="#5b2569"/>
<text x="419.80" y="559.20" font-size="7.4" text-anchor="start" font-weight="normal" fill="#111" >CFU-Mix</text>
<rect x="455.00" y="553.90" width="4.60" height="5.00" fill="#3ab54a"/>
<text x="463.10" y="559.20" font-size="7.4" text-anchor="start" font-weight="normal" fill="#111" >BFU-E</text>
<rect x="411.70" y="567.40" width="4.60" height="5.00" fill="#0f4c81"/>
<text x="419.80" y="572.70" font-size="7.4" text-anchor="start" font-weight="normal" fill="#111" >CFU-GM</text>
<rect x="455.00" y="567.40" width="4.60" height="5.00" fill="#c8102e"/>
<text x="463.10" y="572.70" font-size="7.4" text-anchor="start" font-weight="normal" fill="#111" >CFU-GEMM</text>
<g fill="none" stroke="#222" stroke-width="0.5" stroke-opacity="1.0">
<path d="M99.8,86.8 L98.5,86.8 L97.6,86.0 L97.4,85.2 L97.3,83.0 L96.5,80.8 L96.6,79.8 L97.4,77.5 L97.8,76.9 L98.5,76.5 L99.8,76.7 L101.0,77.2 L101.6,77.8 L101.8,78.5 L101.7,79.8 L100.6,82.5 L100.6,83.2 L101.1,84.8 L101.1,85.5 L100.7,86.2 L99.8,86.8Z"/>
<path d="M99.8,88.0 L98.5,88.2 L97.5,87.9 L96.7,87.2 L96.2,86.0 L96.2,83.2 L95.5,81.2 L95.5,80.0 L96.6,76.2 L97.0,75.8 L97.8,75.5 L99.0,75.6 L101.6,76.5 L102.2,77.2 L102.6,78.2 L102.6,80.0 L101.9,82.2 L102.3,84.5 L102.2,85.8 L101.2,87.2 L99.8,88.0Z"/>
<path d="M98.5,89.0 L97.5,88.9 L96.8,88.6 L95.7,87.2 L95.3,86.0 L95.2,83.8 L94.6,81.2 L94.7,79.8 L95.8,75.8 L96.5,74.8 L97.5,74.5 L98.5,74.7 L102.2,76.1 L102.9,77.2 L103.2,79.5 L102.9,82.2 L103.1,85.0 L102.6,86.5 L102.0,87.5 L101.0,88.3 L99.8,88.8 L98.5,89.0Z"/>
<path d="M98.8,89.8 L97.0,89.8 L96.2,89.4 L95.8,88.8 L94.5,86.2 L93.8,83.2 L94.0,80.2 L95.2,75.5 L96.0,74.1 L96.8,73.6 L97.5,73.5 L98.2,73.6 L100.0,74.6 L102.0,75.3 L102.7,75.8 L103.2,76.8 L103.8,80.0 L103.7,85.0 L103.1,87.2 L102.4,88.2 L101.5,88.9 L98.8,89.8Z"/>
<path d="M98.0,91.3 L97.2,91.3 L96.5,91.1 L95.5,90.1 L93.6,86.0 L93.0,83.2 L93.8,77.8 L94.9,74.5 L95.3,73.8 L96.0,73.1 L97.0,72.5 L97.8,72.3 L98.5,72.5 L100.3,74.0 L102.5,74.8 L103.1,75.2 L103.6,76.5 L104.4,81.0 L104.3,85.8 L103.4,88.5 L102.8,89.2 L101.8,89.9 L98.0,91.3Z"/>
<path d="M99.0,93.3 L98.0,93.3 L96.0,93.0 L95.1,92.5 L94.7,90.0 L93.0,85.8 L92.6,83.5 L93.4,77.5 L94.6,74.0 L95.0,73.2 L95.8,72.5 L97.0,71.8 L97.8,71.5 L98.8,71.8 L100.6,73.5 L102.8,74.3 L103.3,74.8 L103.8,76.0 L104.7,80.8 L104.7,85.8 L104.2,88.8 L103.8,89.5 L101.2,92.0 L99.0,93.3Z"/>
<path d="M100.0,94.3 L99.2,94.4 L98.2,94.4 L95.2,93.8 L94.3,93.2 L94.0,92.5 L93.9,90.0 L92.8,86.6 L92.1,83.8 L92.2,82.2 L92.9,77.2 L94.1,73.5 L94.8,72.6 L95.8,71.7 L96.8,71.1 L97.8,70.8 L99.2,71.2 L101.2,73.0 L103.0,73.6 L103.5,74.0 L104.1,75.2 L105.1,80.5 L105.3,87.2 L105.0,89.2 L104.5,90.2 L103.2,91.5 L102.2,93.0 L101.5,93.6 L100.0,94.3Z"/>
<path d="M100.0,95.5 L98.8,95.6 L95.0,94.6 L93.7,93.8 L93.3,92.8 L93.2,90.2 L91.7,83.8 L92.3,76.8 L93.5,73.2 L94.1,72.2 L95.5,71.1 L96.5,70.5 L97.5,70.2 L98.8,70.3 L99.8,70.6 L103.8,73.2 L104.4,74.5 L104.8,77.5 L105.5,80.2 L105.6,83.8 L106.1,87.5 L105.8,89.8 L105.2,90.8 L104.0,92.1 L102.8,94.0 L101.8,94.7 L100.0,95.5Z"/>
<path d="M100.0,97.4 L99.2,97.5 L98.2,97.2 L96.5,96.0 L94.0,94.9 L93.1,94.0 L92.7,93.0 L92.6,90.5 L91.3,83.8 L91.7,79.2 L91.7,76.5 L92.8,72.8 L93.6,71.8 L95.2,70.4 L96.2,69.9 L97.2,69.6 L99.2,69.7 L101.2,70.4 L103.2,71.6 L104.5,73.0 L104.9,74.2 L105.2,77.5 L105.8,80.0 L106.1,84.0 L106.8,87.2 L106.7,89.0 L105.8,91.5 L104.5,92.9 L103.0,95.2 L100.0,97.4Z"/>
<path d="M97.8,99.8 L97.0,99.7 L96.3,97.8 L95.8,97.0 L93.2,95.1 L92.3,94.0 L92.1,93.0 L92.1,90.8 L90.9,83.2 L91.3,79.2 L91.2,76.2 L92.0,72.2 L92.6,71.5 L95.2,69.6 L96.5,69.2 L98.0,69.1 L100.2,69.3 L102.4,70.0 L103.8,71.1 L104.8,72.5 L105.2,73.8 L105.5,77.0 L106.2,79.8 L106.4,83.8 L107.3,86.8 L107.4,87.8 L106.6,91.8 L104.9,93.8 L103.8,96.2 L101.0,98.9 L100.2,99.2 L97.8,99.8Z"/>
<path d="M97.8,101.6 L96.8,101.5 L96.0,101.0 L95.6,100.2 L95.1,98.2 L94.8,97.5 L92.2,95.1 L91.5,94.0 L91.4,93.2 L91.5,90.8 L90.5,83.2 L90.8,79.5 L90.6,76.0 L91.2,71.5 L92.0,70.6 L94.8,69.1 L96.0,68.6 L97.5,68.5 L100.2,68.7 L102.8,69.3 L103.8,70.0 L105.0,71.8 L105.7,73.8 L105.8,76.8 L106.6,79.8 L106.8,83.5 L107.8,86.5 L108.0,88.0 L107.2,92.2 L105.7,94.2 L104.7,97.0 L101.4,99.8 L97.8,101.6Z"/>
<path d="M99.0,102.6 L98.0,102.7 L97.0,102.6 L96.0,102.3 L95.2,101.6 L94.6,100.5 L93.9,98.0 L91.2,95.0 L90.8,94.2 L90.6,93.2 L90.8,89.5 L90.7,86.8 L90.1,83.5 L90.3,79.8 L89.9,76.2 L90.4,71.2 L90.8,70.2 L91.8,69.5 L94.8,68.3 L96.8,67.9 L100.2,68.0 L102.8,68.4 L104.0,69.1 L105.0,70.3 L106.2,73.2 L106.3,76.8 L107.0,79.8 L107.1,83.0 L108.3,86.8 L108.6,88.2 L108.5,89.8 L108.0,92.8 L106.7,95.0 L105.8,97.2 L104.8,98.2 L99.8,102.2 L99.0,102.6Z"/>
<path d="M99.8,103.8 L98.5,103.8 L96.8,103.5 L95.5,102.9 L94.4,102.0 L93.7,100.8 L93.0,98.2 L90.5,95.3 L89.8,93.5 L90.4,88.5 L90.3,86.5 L89.7,83.8 L89.9,80.0 L89.4,76.2 L89.9,70.2 L90.5,69.0 L91.1,68.5 L96.2,67.4 L100.8,67.3 L102.8,67.6 L104.2,68.2 L105.4,69.5 L106.7,73.0 L106.8,74.2 L106.8,76.8 L107.3,79.5 L107.5,83.0 L108.8,86.8 L109.3,89.0 L109.2,90.8 L108.9,93.0 L108.4,94.5 L107.3,96.5 L106.0,98.1 L102.4,101.0 L100.8,103.2 L99.8,103.8Z"/>
<path d="M98.8,113.6 L98.2,113.5 L97.8,113.1 L97.0,111.8 L97.1,110.5 L97.5,110.0 L98.0,109.8 L99.2,110.0 L99.7,110.5 L100.0,111.0 L99.8,112.3 L99.2,113.2 L98.8,113.6Z"/>
<path d="M99.8,104.8 L98.0,104.9 L96.8,104.6 L95.5,103.8 L93.7,102.2 L92.9,101.0 L92.1,98.2 L90.1,95.8 L89.5,94.2 L89.3,92.5 L90.0,89.8 L90.1,87.5 L89.5,83.8 L89.6,80.0 L89.1,75.8 L89.6,69.0 L90.0,68.0 L90.8,67.6 L96.5,66.9 L101.8,66.8 L103.5,67.0 L104.8,67.6 L105.7,68.8 L107.1,72.8 L107.3,74.0 L107.1,76.8 L107.6,79.8 L107.8,82.8 L109.3,87.2 L109.8,89.5 L109.9,91.5 L109.6,93.2 L108.9,95.2 L108.0,96.8 L103.2,101.0 L101.3,104.0 L100.5,104.5 L99.8,104.8Z"/>
<path d="M99.2,116.3 L98.3,116.2 L97.5,115.7 L95.7,112.5 L95.6,111.2 L95.8,109.2 L96.2,107.8 L96.8,107.3 L97.2,107.4 L98.1,108.2 L99.8,109.4 L100.3,110.0 L100.7,110.8 L100.8,111.8 L100.3,115.0 L99.9,115.8 L99.2,116.3Z"/>
<path d="M99.2,117.0 L98.0,116.9 L96.9,116.2 L96.0,115.2 L95.0,113.5 L94.7,112.2 L94.6,109.0 L95.1,105.8 L95.0,104.8 L94.3,103.8 L92.3,101.8 L91.2,98.6 L89.7,96.2 L89.0,94.2 L88.9,92.2 L89.6,89.8 L89.8,87.8 L89.2,84.0 L89.3,80.0 L88.7,76.2 L89.0,69.0 L89.5,67.5 L90.5,66.9 L98.8,66.5 L101.8,66.1 L103.5,66.1 L104.8,66.3 L105.5,66.8 L106.2,67.8 L106.8,69.2 L107.7,73.2 L107.4,76.8 L107.9,79.8 L108.0,82.8 L110.3,89.2 L110.5,92.5 L110.0,94.6 L109.0,96.5 L103.8,101.2 L101.8,104.5 L99.3,106.5 L99.2,107.0 L99.3,107.8 L101.0,109.9 L101.3,110.8 L101.4,111.8 L101.3,114.2 L101.0,115.2 L100.2,116.5 L99.2,117.0Z"/>
<path d="M99.8,117.5 L98.2,117.6 L96.5,116.9 L95.5,115.9 L94.3,114.0 L93.9,112.2 L93.7,108.0 L93.9,106.0 L93.9,105.0 L93.3,104.0 L91.8,102.8 L91.1,101.8 L89.1,96.8 L88.7,95.2 L88.3,92.5 L89.2,89.3 L89.4,87.5 L88.9,84.0 L88.9,79.8 L88.3,76.2 L88.5,68.5 L89.1,67.0 L89.6,66.5 L90.2,66.2 L98.8,66.0 L103.0,65.0 L105.5,64.9 L106.2,65.0 L106.9,65.5 L107.6,67.0 L108.3,72.8 L107.9,76.8 L108.4,82.5 L108.8,84.0 L110.9,89.5 L111.2,91.0 L111.2,92.8 L110.7,94.8 L109.8,96.7 L109.0,97.5 L106.4,99.5 L104.0,102.2 L101.0,106.8 L100.9,107.8 L102.1,111.0 L102.1,114.2 L101.9,115.2 L101.3,116.2 L100.5,117.1 L99.8,117.5Z"/>
<path d="M100.0,118.1 L98.2,118.2 L96.2,117.7 L95.1,116.8 L93.9,115.0 L93.1,112.8 L92.8,105.2 L92.4,104.5 L90.8,103.2 L90.1,102.2 L89.4,100.8 L88.4,97.2 L87.7,92.8 L87.9,91.5 L88.8,89.2 L88.9,87.5 L88.5,84.0 L88.5,79.8 L87.9,76.2 L88.0,68.5 L88.2,67.4 L88.7,66.5 L89.2,66.0 L90.0,65.6 L93.8,65.2 L98.5,65.4 L99.8,65.1 L102.8,64.0 L106.0,63.9 L107.2,64.1 L108.0,64.5 L108.5,65.0 L108.9,66.0 L109.4,70.0 L108.3,76.8 L108.7,82.2 L109.2,84.1 L111.7,89.8 L112.0,91.2 L111.9,93.0 L111.5,95.0 L110.5,96.9 L109.5,97.9 L106.8,100.0 L105.5,102.0 L103.8,103.8 L102.8,105.5 L102.2,107.5 L103.1,111.5 L102.9,114.8 L102.5,115.8 L101.9,116.5 L100.9,117.5 L100.0,118.1Z"/>
<path d="M99.8,118.8 L97.2,118.8 L95.8,118.3 L94.5,117.2 L93.3,115.5 L92.6,114.0 L92.3,113.0 L92.3,110.0 L91.8,106.0 L91.4,105.2 L90.0,104.0 L89.3,103.0 L88.7,101.5 L87.6,97.8 L87.0,92.8 L87.2,91.5 L88.2,89.0 L88.4,87.2 L88.1,84.2 L88.0,80.0 L87.4,75.5 L87.5,68.0 L87.9,66.8 L88.5,65.9 L89.2,65.3 L90.2,64.9 L93.8,64.2 L97.2,64.6 L98.8,64.6 L102.0,63.3 L104.2,63.0 L109.2,63.2 L110.1,63.5 L110.7,64.2 L110.7,67.2 L111.1,69.5 L110.9,70.5 L109.8,73.3 L109.0,76.2 L108.8,78.0 L109.1,81.8 L109.8,84.1 L112.4,89.8 L112.7,91.8 L112.6,93.8 L111.9,95.8 L111.1,97.2 L110.0,98.4 L107.6,100.2 L106.1,103.0 L104.5,104.2 L104.0,105.0 L103.6,106.0 L103.4,107.2 L103.5,108.5 L104.2,111.2 L103.6,115.0 L103.2,116.0 L102.4,117.0 L100.8,118.4 L99.8,118.8Z"/>
<path d="M100.2,119.3 L99.0,119.5 L96.0,119.2 L94.8,118.6 L93.6,117.2 L92.2,115.1 L91.6,113.5 L91.5,110.0 L90.9,106.8 L90.5,106.0 L88.9,104.2 L88.0,102.2 L86.8,97.5 L86.2,93.5 L86.4,91.8 L87.4,89.0 L87.6,87.2 L87.6,80.2 L87.0,77.0 L86.7,73.8 L87.0,68.0 L87.6,66.2 L88.8,64.8 L90.0,64.1 L92.5,63.4 L94.0,63.3 L97.0,63.7 L98.5,63.8 L99.5,63.5 L101.8,62.6 L104.0,62.1 L110.8,61.7 L112.0,62.4 L113.2,63.8 L113.6,65.0 L113.8,67.0 L113.5,67.9 L110.8,72.8 L110.0,74.7 L109.4,77.2 L109.4,79.8 L109.7,82.0 L110.1,83.5 L113.2,89.8 L113.4,91.8 L113.3,93.8 L112.7,95.8 L111.8,97.5 L108.2,100.9 L106.8,103.9 L105.0,105.8 L104.6,106.8 L104.6,107.8 L105.2,110.5 L105.3,111.5 L104.3,115.5 L103.8,116.5 L103.1,117.2 L101.2,118.8 L100.2,119.3Z"/>
<path d="M100.5,120.1 L99.2,120.2 L95.8,119.9 L94.4,119.2 L93.1,118.0 L91.6,115.8 L90.8,114.0 L90.6,112.8 L90.5,110.0 L89.9,107.5 L87.9,104.8 L87.1,103.0 L86.7,100.2 L85.7,97.0 L85.4,93.2 L85.5,91.0 L86.6,87.5 L86.9,83.2 L86.9,80.2 L86.3,77.2 L86.0,73.5 L86.3,68.0 L86.8,66.2 L87.8,64.8 L89.2,63.4 L90.8,62.7 L93.2,62.2 L96.8,62.7 L98.2,62.7 L105.0,60.7 L109.8,60.1 L111.0,60.2 L112.5,60.9 L114.3,62.8 L115.0,64.0 L115.3,65.5 L115.3,67.0 L115.0,68.0 L113.0,70.9 L111.2,74.0 L110.4,76.2 L110.0,78.5 L110.2,81.2 L110.7,83.2 L111.8,85.4 L113.5,88.2 L114.0,89.5 L114.4,91.8 L114.3,93.8 L113.7,96.0 L112.8,97.8 L108.8,102.0 L106.1,106.8 L105.9,108.2 L106.4,110.5 L106.4,111.5 L104.9,116.5 L103.6,118.0 L101.5,119.6 L100.5,120.1Z"/>
<path d="M100.2,121.0 L96.8,120.9 L95.2,120.6 L93.6,119.8 L92.3,118.5 L90.9,116.5 L90.0,114.8 L89.7,113.5 L89.4,110.8 L89.0,109.1 L88.3,107.5 L86.7,105.0 L86.1,103.2 L85.5,100.2 L84.6,97.5 L84.3,96.0 L84.3,90.8 L85.7,85.2 L86.0,81.5 L86.0,80.1 L85.5,77.5 L85.0,73.2 L85.3,68.2 L85.9,66.2 L86.8,64.5 L88.5,62.3 L89.8,61.5 L91.0,61.1 L92.5,61.0 L96.0,61.5 L97.5,61.4 L101.9,60.2 L105.0,59.0 L109.2,58.3 L110.5,58.3 L112.2,59.0 L114.0,60.2 L116.1,62.5 L116.5,63.2 L116.7,64.2 L116.8,66.5 L116.4,68.2 L113.3,72.8 L111.4,76.8 L110.9,79.0 L111.1,81.0 L111.8,83.0 L112.7,85.0 L114.4,87.5 L114.9,88.8 L115.5,91.5 L115.5,93.8 L114.8,96.2 L114.0,98.0 L109.5,103.4 L107.4,107.0 L107.2,108.2 L107.6,110.5 L107.5,111.8 L106.3,115.8 L105.8,117.2 L104.9,118.2 L103.4,119.5 L101.5,120.7 L100.2,121.0Z"/>
<path d="M100.5,122.0 L96.5,121.8 L95.0,121.5 L92.8,120.5 L91.1,119.0 L89.9,117.2 L88.7,114.8 L87.5,109.8 L85.4,105.2 L84.6,103.0 L83.8,99.8 L82.9,97.2 L82.8,96.0 L83.0,90.2 L83.3,88.2 L84.4,84.8 L84.8,81.2 L84.0,73.0 L84.2,68.2 L85.1,65.0 L85.9,63.2 L87.4,61.2 L89.0,60.0 L90.0,59.7 L91.5,59.5 L96.2,59.9 L101.2,58.9 L105.0,57.2 L109.0,56.5 L110.5,56.5 L112.8,57.3 L115.2,58.8 L117.9,61.5 L118.4,62.2 L118.7,63.2 L118.9,66.5 L118.2,69.3 L117.5,70.5 L115.2,72.8 L112.6,77.5 L112.2,79.0 L112.4,80.5 L113.3,82.8 L114.0,84.1 L115.5,86.0 L116.1,87.2 L116.8,91.5 L116.7,94.0 L116.1,96.8 L115.1,99.0 L114.1,100.5 L109.9,105.8 L109.2,107.0 L108.9,108.0 L109.0,110.2 L108.8,111.8 L107.7,115.8 L106.9,117.8 L105.9,119.0 L104.2,120.4 L102.0,121.7 L100.5,122.0Z"/>
<path d="M101.2,123.6 L100.0,123.7 L96.8,123.5 L94.5,123.1 L91.8,122.0 L89.5,120.1 L88.5,119.0 L87.8,117.8 L86.1,113.8 L84.8,108.7 L82.5,104.5 L80.7,97.0 L80.2,92.5 L80.3,91.2 L81.4,87.5 L82.5,84.2 L82.9,81.8 L83.0,79.5 L82.5,71.8 L82.7,68.2 L83.6,63.8 L84.4,61.5 L86.3,59.2 L87.5,58.2 L88.8,57.4 L90.0,57.0 L91.2,56.8 L94.2,57.5 L95.8,57.5 L100.8,56.5 L103.5,55.1 L104.8,54.7 L109.0,54.2 L111.2,54.3 L113.8,55.1 L118.3,57.8 L119.5,59.0 L121.1,61.2 L121.7,62.2 L122.0,63.5 L122.4,65.8 L122.3,67.0 L121.2,71.0 L120.3,72.5 L118.6,74.8 L115.4,77.5 L115.0,78.2 L114.8,79.0 L114.9,80.2 L115.5,82.0 L117.2,85.0 L118.0,87.0 L118.7,91.8 L118.7,93.8 L118.1,97.0 L117.3,99.0 L115.9,101.8 L113.2,105.3 L111.8,107.9 L109.9,115.5 L108.4,118.8 L107.3,120.2 L106.1,121.2 L103.0,122.9 L101.2,123.6Z"/>
</g>
<g fill="none" stroke="#222" stroke-width="0.5" stroke-opacity="1.0">
<path d="M245.5,58.3 L244.5,58.4 L243.8,58.0 L243.3,57.5 L243.1,56.5 L243.8,55.5 L245.0,55.2 L245.8,55.5 L246.4,56.0 L246.6,56.5 L246.5,57.2 L245.5,58.3Z"/>
<path d="M245.5,59.3 L244.8,59.3 L243.8,58.9 L242.8,58.2 L242.3,57.5 L242.3,56.8 L242.5,56.0 L243.1,55.2 L243.8,54.8 L244.8,54.6 L245.8,54.8 L246.6,55.2 L247.2,56.0 L247.4,56.8 L247.1,57.5 L246.2,58.7 L245.5,59.3Z"/>
<path d="M245.2,60.0 L244.2,59.8 L243.0,59.2 L242.1,58.5 L241.7,57.8 L241.7,56.8 L242.2,55.5 L243.0,54.7 L244.0,54.2 L245.2,54.2 L246.8,54.7 L247.5,55.2 L247.9,56.0 L248.0,57.0 L247.5,58.0 L246.2,59.5 L245.2,60.0Z"/>
<path d="M245.2,60.5 L244.0,60.3 L242.1,59.2 L241.3,58.5 L241.0,57.8 L241.2,56.5 L242.0,55.1 L242.9,54.2 L244.0,53.8 L245.5,53.8 L247.2,54.3 L248.1,55.0 L248.6,56.0 L248.5,57.2 L248.0,58.2 L246.4,60.0 L245.2,60.5Z"/>
<path d="M245.2,61.0 L244.0,60.8 L241.8,59.7 L241.0,59.0 L240.6,58.0 L240.8,56.5 L241.7,54.8 L242.8,53.9 L244.2,53.4 L246.2,53.5 L248.0,54.0 L248.7,54.8 L249.2,56.0 L249.1,57.2 L248.6,58.2 L246.5,60.5 L245.2,61.0Z"/>
<path d="M245.8,61.3 L244.2,61.3 L241.8,60.3 L240.8,59.5 L240.2,58.5 L240.2,57.0 L241.2,54.8 L242.2,53.8 L243.8,53.1 L245.5,53.0 L248.2,53.5 L249.1,54.2 L249.8,55.8 L249.8,57.0 L249.2,58.2 L247.0,60.5 L245.8,61.3Z"/>
<path d="M245.5,61.8 L243.8,61.6 L241.8,60.8 L240.8,60.2 L240.1,59.5 L239.8,58.8 L239.7,57.8 L239.9,56.8 L241.2,54.2 L242.8,53.1 L244.8,52.6 L248.2,52.8 L249.2,53.5 L250.0,54.8 L250.4,56.2 L250.3,57.5 L249.7,58.5 L247.3,60.8 L246.5,61.4 L245.5,61.8Z"/>
<path d="M246.0,62.0 L245.0,62.2 L244.0,62.1 L240.8,60.9 L240.0,60.2 L239.5,59.3 L239.3,58.2 L239.4,57.2 L239.8,56.0 L240.8,54.3 L241.5,53.5 L242.2,52.9 L244.5,52.2 L248.2,52.2 L249.3,52.8 L250.3,54.0 L250.9,55.8 L250.9,57.2 L250.5,58.2 L249.9,59.0 L247.2,61.3 L246.0,62.0Z"/>
<path d="M245.5,62.5 L244.5,62.6 L243.0,62.3 L241.2,61.8 L240.2,61.2 L239.5,60.3 L239.1,59.2 L238.9,58.2 L239.1,57.0 L240.5,54.0 L241.2,53.2 L242.2,52.5 L243.5,52.0 L244.8,51.7 L247.8,51.7 L248.8,51.8 L250.0,52.7 L251.1,54.5 L251.5,56.0 L251.3,57.5 L250.9,58.5 L250.0,59.5 L247.2,61.8 L245.5,62.5Z"/>
<path d="M246.0,62.8 L244.8,63.0 L243.0,62.8 L241.2,62.4 L240.0,61.8 L239.2,60.9 L238.7,59.8 L238.5,58.5 L238.6,57.2 L240.1,54.0 L240.8,53.1 L241.8,52.4 L243.2,51.6 L244.5,51.3 L248.8,51.3 L249.5,51.6 L250.2,52.1 L251.5,54.0 L252.0,55.8 L251.9,57.5 L251.5,58.5 L250.7,59.5 L247.6,62.0 L246.0,62.8Z"/>
<path d="M245.5,63.3 L244.0,63.4 L241.8,63.1 L240.5,62.7 L239.5,62.1 L238.7,61.0 L238.2,59.8 L238.1,58.5 L238.3,57.0 L239.9,53.5 L240.8,52.6 L242.0,51.8 L243.5,51.1 L244.8,50.8 L248.0,50.7 L249.2,50.9 L250.0,51.2 L250.8,51.8 L252.1,54.0 L252.5,55.8 L252.2,58.0 L251.8,59.0 L250.8,60.0 L247.5,62.5 L245.5,63.3Z"/>
<path d="M245.0,63.8 L241.2,63.5 L240.0,63.1 L239.0,62.3 L238.1,61.0 L237.6,59.5 L237.6,58.0 L238.0,56.5 L239.1,54.0 L239.8,53.0 L241.0,51.9 L243.0,50.8 L244.0,50.4 L245.2,50.2 L248.2,50.3 L250.0,50.6 L250.8,51.0 L251.5,51.8 L252.8,54.0 L253.0,56.0 L252.6,58.5 L251.6,60.0 L248.2,62.5 L246.8,63.4 L245.0,63.8Z"/>
<path d="M246.0,64.1 L244.2,64.2 L241.8,64.1 L240.2,63.8 L239.0,63.1 L238.0,62.0 L237.2,60.2 L237.0,58.8 L237.2,57.0 L238.4,54.2 L239.4,52.8 L240.5,51.8 L242.8,50.4 L244.0,49.9 L245.2,49.7 L248.2,49.8 L250.0,50.0 L251.0,50.4 L251.8,51.0 L252.4,51.8 L253.0,53.0 L253.6,55.2 L253.3,58.2 L252.7,59.5 L251.8,60.5 L248.2,63.1 L246.0,64.1Z"/>
<path d="M246.0,64.5 L243.8,64.7 L241.5,64.6 L239.8,64.1 L238.5,63.4 L237.4,62.0 L236.6,60.0 L236.4,58.2 L236.8,56.2 L237.9,54.0 L239.0,52.5 L240.2,51.4 L243.0,49.7 L244.5,49.3 L246.8,49.2 L249.0,49.3 L250.8,49.7 L251.8,50.1 L252.6,50.8 L253.1,51.5 L253.6,52.8 L254.2,55.2 L253.8,58.5 L253.2,59.8 L252.0,61.0 L248.5,63.5 L246.0,64.5Z"/>
<path d="M246.0,65.0 L243.5,65.2 L241.2,65.1 L239.2,64.6 L238.0,63.8 L236.7,62.0 L235.9,60.0 L235.8,57.8 L236.4,55.5 L237.3,53.8 L238.8,52.0 L240.2,50.8 L243.0,49.2 L244.5,48.8 L247.2,48.6 L249.8,48.8 L251.5,49.2 L253.3,50.2 L253.8,51.0 L254.2,52.0 L254.9,55.2 L254.8,57.2 L254.4,58.8 L253.6,60.2 L252.0,61.7 L248.5,64.1 L246.0,65.0Z"/>
<path d="M244.8,65.8 L242.0,65.7 L239.2,65.2 L238.0,64.5 L236.7,63.2 L235.6,61.2 L235.2,59.2 L235.3,57.0 L236.0,54.5 L237.2,52.8 L239.0,51.0 L241.8,49.2 L243.2,48.5 L245.2,48.1 L248.0,48.0 L251.0,48.4 L253.0,49.1 L254.0,49.8 L254.6,50.5 L255.7,54.2 L255.6,57.0 L255.0,59.2 L253.4,61.2 L249.8,64.0 L247.5,65.2 L244.8,65.8Z"/>
<path d="M245.8,66.3 L243.0,66.4 L239.2,65.9 L237.8,65.2 L236.3,63.8 L235.1,62.0 L234.6,59.5 L234.6,57.0 L235.4,54.2 L236.5,52.6 L238.8,50.4 L241.5,48.6 L243.2,47.8 L246.0,47.4 L248.5,47.3 L251.5,47.7 L254.0,48.6 L255.0,49.2 L255.6,50.0 L256.7,53.5 L256.8,55.8 L256.1,58.8 L254.5,61.1 L251.5,63.6 L248.8,65.3 L245.8,66.3Z"/>
<path d="M245.5,67.0 L243.0,67.2 L239.0,66.6 L237.2,65.7 L235.2,63.8 L234.6,62.8 L234.2,61.8 L233.8,58.8 L234.2,55.8 L235.0,53.5 L236.4,51.8 L239.0,49.3 L241.8,47.7 L243.8,46.9 L246.8,46.5 L250.8,46.6 L252.0,46.9 L256.0,48.3 L256.8,49.0 L257.3,49.8 L258.1,52.5 L258.0,55.8 L257.6,57.5 L257.1,58.8 L255.1,61.5 L251.8,64.3 L249.0,65.9 L245.5,67.0Z"/>
<path d="M244.8,67.8 L241.8,67.7 L239.5,67.3 L238.2,67.0 L237.0,66.2 L235.5,65.0 L234.0,63.2 L233.6,62.0 L233.2,60.2 L233.3,57.2 L234.2,54.0 L234.9,52.8 L236.0,51.4 L238.2,49.1 L240.2,47.8 L242.8,46.6 L245.2,45.9 L250.8,45.8 L254.2,46.8 L258.5,47.6 L259.5,47.6 L262.2,47.1 L263.3,47.5 L263.7,48.0 L263.6,48.8 L263.2,49.3 L261.2,51.0 L260.0,52.5 L259.4,53.8 L258.3,58.0 L257.6,59.2 L255.8,61.6 L252.8,64.2 L250.2,65.9 L248.0,66.9 L244.8,67.8Z"/>
<path d="M245.2,68.3 L243.8,68.5 L242.0,68.3 L239.5,68.0 L238.0,67.5 L236.5,66.6 L234.5,65.0 L233.6,64.0 L233.1,63.0 L232.6,61.2 L232.4,59.2 L232.6,57.5 L233.2,55.2 L234.4,52.5 L237.5,49.0 L239.0,47.8 L241.5,46.4 L244.2,45.4 L245.8,45.1 L250.8,45.0 L254.5,45.9 L257.8,46.2 L259.0,46.1 L262.8,45.5 L265.5,46.4 L267.2,46.6 L267.9,47.0 L268.1,47.8 L267.8,48.4 L264.2,51.6 L261.5,53.5 L260.8,54.2 L259.0,58.5 L255.5,62.7 L253.0,64.8 L250.5,66.4 L249.0,67.1 L245.2,68.3Z"/>
<path d="M244.2,69.3 L240.0,69.0 L237.5,68.1 L235.5,66.9 L233.5,65.3 L232.7,64.2 L232.0,62.8 L231.5,60.8 L231.4,59.2 L231.7,57.8 L232.6,54.8 L234.0,52.0 L237.0,48.3 L238.2,47.4 L240.8,46.0 L244.0,44.6 L245.5,44.2 L250.8,44.1 L254.5,44.9 L257.0,45.1 L258.5,45.0 L262.2,44.2 L267.0,44.5 L268.5,44.9 L269.9,46.0 L270.4,46.8 L270.6,47.8 L270.5,48.8 L270.0,49.6 L269.2,50.3 L267.2,51.7 L265.2,53.7 L262.8,54.8 L262.0,55.2 L259.6,59.0 L255.5,63.6 L253.2,65.5 L250.5,67.1 L246.0,68.9 L244.2,69.3Z"/>
<path d="M243.5,70.8 L241.8,70.8 L239.5,70.2 L236.8,68.9 L234.2,67.4 L232.8,66.3 L231.9,65.2 L231.1,63.8 L230.4,62.0 L230.0,59.8 L230.4,57.5 L232.8,52.0 L234.7,49.2 L236.2,47.5 L237.8,46.4 L240.0,45.2 L243.5,43.7 L245.5,43.2 L251.0,43.0 L256.8,43.7 L261.8,42.8 L265.5,42.7 L267.8,43.0 L269.0,43.3 L270.3,44.0 L271.4,45.0 L272.1,46.0 L272.4,47.0 L272.5,48.5 L272.4,49.8 L271.6,51.2 L268.9,53.8 L267.5,54.8 L264.5,55.9 L263.5,56.5 L259.2,60.8 L256.8,63.8 L254.1,66.0 L250.5,68.0 L245.8,70.2 L243.5,70.8Z"/>
<path d="M234.8,42.7 L234.2,42.7 L233.5,42.3 L233.0,41.6 L232.8,40.8 L233.0,39.0 L233.5,38.2 L234.0,37.8 L234.5,37.9 L235.0,38.3 L235.5,39.8 L235.3,41.8 L234.8,42.7Z"/>
<path d="M243.0,79.8 L242.2,79.8 L241.7,79.0 L241.2,77.0 L241.0,74.5 L240.4,73.2 L239.0,72.0 L233.8,68.9 L231.6,67.2 L230.6,66.0 L229.8,64.5 L228.8,61.5 L228.5,59.0 L229.0,57.0 L231.7,51.0 L235.4,45.5 L236.5,44.7 L240.0,43.8 L243.8,42.4 L250.2,41.8 L256.5,42.1 L262.2,41.3 L264.5,41.3 L270.2,41.9 L271.2,42.4 L272.8,43.5 L273.6,44.2 L274.2,45.2 L274.8,47.8 L274.5,50.0 L273.2,52.2 L272.5,53.0 L269.5,55.4 L265.0,57.6 L261.8,60.1 L260.0,61.7 L257.5,64.7 L255.5,66.4 L251.8,68.6 L248.7,70.0 L244.9,72.5 L244.2,73.2 L243.9,74.2 L244.2,76.5 L244.0,78.2 L243.6,79.2 L243.0,79.8Z"/>
<path d="M243.5,82.8 L242.5,83.0 L241.5,82.8 L240.8,82.5 L240.0,81.8 L238.6,79.2 L238.2,75.8 L237.5,74.2 L236.0,72.8 L232.8,70.9 L230.2,68.9 L228.3,66.0 L227.3,63.5 L226.7,59.8 L227.0,57.2 L228.9,52.5 L231.6,47.8 L232.0,46.5 L232.0,45.5 L231.2,42.5 L231.0,40.5 L231.4,38.0 L232.1,36.2 L233.0,35.5 L233.8,35.2 L234.8,35.3 L235.5,35.8 L236.6,37.5 L237.7,41.0 L238.2,41.7 L239.0,42.0 L240.0,42.0 L242.8,41.0 L245.0,40.6 L253.5,40.1 L260.0,39.9 L263.8,39.5 L267.5,39.9 L271.0,39.8 L272.2,40.3 L275.3,42.2 L276.2,43.2 L276.8,44.5 L277.2,46.5 L277.2,48.2 L276.6,50.8 L274.5,54.0 L273.1,55.2 L266.9,58.8 L262.6,61.8 L261.0,63.1 L258.5,65.9 L256.2,67.7 L252.2,70.2 L249.5,71.5 L247.9,72.8 L247.3,73.5 L246.9,74.2 L246.6,77.5 L245.7,80.5 L244.8,82.0 L243.5,82.8Z"/>
<path d="M242.8,84.8 L240.8,84.5 L240.0,84.1 L239.4,83.5 L237.4,80.0 L236.6,76.2 L236.0,75.0 L235.0,73.9 L231.2,71.7 L228.7,69.5 L227.1,67.0 L225.8,63.5 L225.2,60.2 L225.4,58.2 L225.9,56.2 L227.4,52.5 L230.5,46.8 L230.7,45.2 L230.2,41.8 L230.2,39.8 L230.7,37.0 L231.4,35.5 L232.2,34.6 L233.2,34.1 L234.5,34.0 L235.5,34.4 L236.2,35.1 L237.0,36.2 L238.5,39.9 L239.0,40.4 L239.5,40.6 L240.2,40.6 L243.0,39.7 L245.2,39.3 L254.0,38.7 L260.2,38.7 L264.2,38.3 L267.5,38.6 L270.0,38.5 L271.2,38.6 L272.8,39.2 L276.2,41.2 L277.3,42.2 L278.1,43.8 L278.5,45.5 L278.6,48.0 L278.5,49.8 L278.1,51.0 L276.0,54.2 L275.1,55.2 L274.0,56.2 L268.3,59.2 L264.0,62.2 L259.2,66.7 L256.5,68.9 L253.2,71.0 L250.5,72.3 L249.3,73.2 L248.5,74.5 L247.4,79.5 L246.4,82.0 L244.8,84.0 L243.8,84.6 L242.8,84.8Z"/>
<path d="M242.8,81.8 L242.0,81.7 L241.2,81.4 L240.2,80.2 L239.6,78.5 L239.3,75.0 L238.7,73.8 L236.8,72.0 L233.2,70.0 L231.0,68.2 L229.1,65.5 L228.1,62.8 L227.6,59.5 L227.9,57.2 L230.1,52.0 L232.6,47.8 L233.1,46.5 L233.1,45.2 L232.0,42.5 L231.7,40.8 L232.0,38.5 L232.8,36.9 L233.2,36.4 L234.0,36.1 L234.8,36.3 L235.2,36.7 L236.2,38.2 L237.1,42.0 L237.8,42.7 L238.5,42.9 L240.0,42.8 L242.8,41.8 L245.0,41.4 L251.0,41.0 L257.0,40.9 L263.8,40.3 L267.5,40.7 L270.8,40.7 L271.8,41.2 L274.5,43.0 L275.2,43.8 L275.7,44.8 L276.1,46.5 L276.2,48.0 L276.1,49.2 L275.6,50.5 L273.9,53.2 L272.9,54.2 L270.7,55.8 L265.8,58.4 L262.1,61.0 L260.5,62.4 L258.1,65.2 L256.0,67.0 L252.0,69.4 L249.2,70.8 L246.8,72.5 L246.1,73.2 L245.8,74.0 L245.7,77.0 L244.9,80.0 L244.0,81.3 L242.8,81.8Z"/>
</g>
<g fill="none" stroke="#222" stroke-width="0.5" stroke-opacity="1.0">
<path d="M98.0,261.8 L96.8,261.9 L95.8,261.2 L95.2,259.8 L95.5,258.8 L96.0,258.6 L97.0,258.6 L98.0,258.8 L98.8,259.2 L99.2,260.0 L99.0,260.8 L98.5,261.5 L98.0,261.8Z"/>
<path d="M97.8,262.5 L96.9,262.5 L96.0,262.2 L95.0,261.2 L94.5,259.5 L94.6,258.8 L95.0,258.2 L96.0,258.0 L98.5,258.2 L99.5,258.5 L100.0,259.0 L100.4,260.0 L100.0,261.0 L99.0,262.0 L97.8,262.5Z"/>
<path d="M97.5,263.0 L96.5,262.9 L95.5,262.6 L94.9,262.0 L94.4,261.2 L93.9,260.0 L93.9,259.0 L94.2,258.2 L94.8,257.7 L95.8,257.4 L99.2,257.7 L100.3,258.2 L101.1,259.2 L101.4,260.2 L101.0,261.2 L99.3,262.5 L97.5,263.0Z"/>
<path d="M98.5,263.3 L97.2,263.5 L95.9,263.2 L95.0,262.8 L94.2,262.1 L93.6,260.8 L93.4,259.5 L93.6,258.2 L94.2,257.4 L95.5,257.0 L99.5,257.3 L100.8,257.9 L101.7,259.0 L102.3,260.2 L102.0,261.3 L100.8,262.3 L98.5,263.3Z"/>
<path d="M98.2,263.8 L96.8,263.8 L95.2,263.5 L94.2,262.8 L93.5,261.8 L93.0,260.5 L92.9,259.0 L93.4,257.8 L94.2,256.8 L95.5,256.5 L99.8,256.9 L101.3,257.8 L102.7,259.5 L103.0,260.1 L103.0,260.8 L102.2,262.0 L100.6,263.0 L98.2,263.8Z"/>
<path d="M97.8,264.3 L96.0,264.2 L94.5,263.6 L93.5,262.8 L92.8,261.5 L92.4,260.0 L92.6,258.5 L93.2,257.2 L94.2,256.3 L95.5,256.1 L100.0,256.5 L101.7,257.5 L103.5,259.5 L103.7,260.2 L103.5,261.0 L103.0,261.9 L102.2,262.7 L100.5,263.6 L97.8,264.3Z"/>
<path d="M98.8,264.5 L96.8,264.7 L94.8,264.2 L93.6,263.5 L92.6,262.2 L92.0,260.5 L92.0,259.0 L92.8,257.2 L94.0,256.0 L95.5,255.6 L99.0,255.8 L100.0,256.0 L102.0,257.1 L103.8,259.0 L104.2,260.0 L104.1,260.8 L103.7,261.8 L103.0,262.6 L101.5,263.7 L98.8,264.5Z"/>
<path d="M98.2,265.0 L96.2,265.0 L94.2,264.5 L92.9,263.5 L92.0,262.0 L91.5,260.2 L91.7,258.8 L92.6,256.8 L94.0,255.5 L95.8,255.2 L99.0,255.3 L100.2,255.6 L102.8,257.0 L103.8,258.0 L104.4,259.0 L104.7,260.0 L104.5,261.0 L104.0,262.0 L103.0,263.2 L101.3,264.2 L98.2,265.0Z"/>
<path d="M97.5,265.5 L95.2,265.2 L93.4,264.5 L92.0,263.1 L91.2,261.2 L91.0,259.5 L91.7,257.5 L93.0,255.8 L94.5,254.9 L95.8,254.8 L98.8,254.8 L100.8,255.3 L102.5,256.1 L103.7,257.0 L104.6,258.0 L105.1,259.2 L105.2,260.2 L104.9,261.2 L104.0,262.7 L103.0,263.8 L101.0,264.8 L97.5,265.5Z"/>
<path d="M98.8,265.8 L96.5,265.9 L94.0,265.2 L92.5,264.2 L91.2,262.5 L90.5,260.2 L90.7,258.5 L92.0,256.2 L92.8,255.4 L93.8,254.8 L95.8,254.3 L99.0,254.3 L100.2,254.5 L103.5,256.1 L104.6,257.0 L105.2,258.0 L105.6,259.2 L105.7,260.5 L105.3,261.5 L104.1,263.2 L103.0,264.2 L102.0,264.9 L98.8,265.8Z"/>
<path d="M98.0,266.3 L95.5,266.1 L93.0,265.1 L91.2,263.5 L90.3,261.5 L89.9,259.5 L90.2,258.5 L90.6,257.5 L92.4,255.2 L93.2,254.6 L94.2,254.1 L95.5,253.9 L98.8,253.8 L100.8,254.1 L103.0,255.1 L104.4,256.0 L105.4,257.0 L105.9,258.0 L106.2,259.5 L106.2,260.8 L105.7,261.8 L104.0,263.9 L103.0,264.8 L101.8,265.4 L98.0,266.3Z"/>
<path d="M99.0,266.5 L96.2,266.6 L93.3,265.8 L91.5,264.5 L90.1,262.5 L89.4,260.0 L89.6,258.2 L90.3,257.0 L91.5,255.5 L92.5,254.6 L93.5,254.0 L95.8,253.5 L99.0,253.3 L100.5,253.5 L102.5,254.2 L104.5,255.2 L105.7,256.2 L106.4,257.2 L106.7,258.8 L106.8,260.2 L106.6,261.2 L105.7,262.5 L104.2,264.2 L103.0,265.2 L101.5,265.9 L99.0,266.5Z"/>
<path d="M98.0,267.0 L95.0,266.7 L93.5,266.3 L92.2,265.6 L91.2,264.8 L90.1,263.5 L89.0,261.0 L88.9,259.0 L89.2,257.8 L89.8,256.8 L92.0,254.4 L93.0,253.7 L94.2,253.2 L98.8,252.8 L101.2,253.2 L103.8,254.2 L105.7,255.2 L106.8,256.2 L107.2,257.2 L107.5,259.5 L107.3,261.0 L106.7,262.0 L104.8,264.2 L103.5,265.4 L102.2,266.1 L100.2,266.7 L98.0,267.0Z"/>
<path d="M99.2,267.3 L96.2,267.3 L92.8,266.4 L91.5,265.6 L90.3,264.5 L89.3,263.2 L88.7,262.0 L88.3,260.8 L88.2,259.5 L88.5,258.2 L89.0,257.0 L89.8,255.9 L91.1,254.5 L92.2,253.6 L93.5,252.9 L95.0,252.6 L98.0,252.3 L100.8,252.5 L103.7,253.5 L106.4,254.8 L107.4,255.5 L108.0,256.5 L108.2,257.8 L108.2,260.2 L107.9,261.2 L107.3,262.2 L104.9,264.8 L103.5,265.9 L101.8,266.7 L99.2,267.3Z"/>
<path d="M98.5,267.8 L95.8,267.6 L92.8,266.8 L91.0,265.8 L89.2,264.0 L88.1,262.2 L87.7,260.2 L87.9,258.2 L88.8,256.2 L90.9,254.0 L93.0,252.6 L94.5,252.1 L97.8,251.7 L99.5,251.7 L101.2,252.1 L106.5,253.8 L107.9,254.5 L108.8,255.6 L109.2,257.5 L109.0,260.2 L108.4,261.8 L105.6,264.8 L103.5,266.4 L101.2,267.3 L98.5,267.8Z"/>
<path d="M100.0,268.0 L98.0,268.2 L96.2,268.1 L93.8,267.6 L92.2,267.0 L90.8,266.1 L89.0,264.5 L88.2,263.5 L87.5,262.2 L87.2,261.0 L87.1,259.8 L87.5,258.0 L88.0,256.5 L88.9,255.2 L90.2,253.9 L91.8,252.7 L93.2,251.8 L98.0,251.0 L99.8,251.0 L108.0,253.3 L109.0,253.8 L109.7,254.8 L110.2,256.8 L110.3,258.5 L110.0,260.2 L109.2,261.8 L106.9,264.2 L104.2,266.4 L102.2,267.5 L100.0,268.0Z"/>
<path d="M100.0,268.5 L96.2,268.5 L93.8,268.1 L92.0,267.5 L90.5,266.5 L88.5,264.8 L87.5,263.5 L86.8,262.2 L86.5,261.0 L86.6,259.5 L87.1,257.2 L87.6,256.0 L88.5,254.8 L90.0,253.3 L92.2,251.6 L93.2,251.0 L98.2,250.0 L99.2,249.9 L102.8,251.1 L108.8,252.4 L110.0,253.2 L110.7,254.2 L111.3,256.8 L111.3,258.2 L110.9,260.2 L110.1,261.8 L107.5,264.5 L104.8,266.7 L102.5,267.9 L100.0,268.5Z"/>
<path d="M99.2,244.3 L98.8,244.4 L98.2,244.3 L97.8,243.7 L97.2,242.8 L96.9,241.2 L97.2,240.5 L97.6,240.2 L98.2,240.2 L99.0,240.4 L99.5,240.8 L99.9,241.5 L100.0,243.0 L99.7,243.8 L99.2,244.3Z"/>
<path d="M99.8,269.0 L97.8,269.0 L95.5,268.8 L93.0,268.3 L91.2,267.6 L89.2,266.0 L87.2,264.1 L86.3,262.5 L85.9,260.8 L86.2,258.8 L86.9,256.2 L87.8,254.9 L89.5,253.1 L93.0,250.3 L96.2,249.6 L99.2,248.4 L100.0,248.6 L101.6,249.8 L102.8,250.2 L108.2,251.3 L110.0,252.0 L110.8,252.8 L111.4,253.8 L112.2,257.5 L111.9,259.2 L111.1,261.2 L110.2,262.5 L107.8,265.0 L105.9,266.5 L103.5,267.9 L101.5,268.7 L99.8,269.0Z"/>
<path d="M100.2,269.3 L98.2,269.4 L95.5,269.1 L93.0,268.6 L91.2,267.9 L89.5,266.7 L87.2,264.5 L86.0,262.8 L85.6,261.0 L85.7,259.5 L86.3,256.8 L86.9,255.5 L87.9,254.2 L92.5,250.0 L93.5,249.5 L96.2,248.8 L97.1,248.2 L97.7,247.5 L97.7,246.5 L96.5,243.8 L95.8,241.2 L95.9,240.5 L96.2,239.7 L97.0,239.0 L97.8,238.8 L98.8,238.9 L99.8,239.4 L100.8,240.2 L101.3,241.0 L101.6,242.8 L101.2,246.0 L101.5,247.8 L102.0,248.8 L103.2,249.5 L108.8,250.7 L110.2,251.5 L111.2,252.5 L111.8,253.5 L112.7,257.0 L112.6,258.8 L111.7,261.0 L110.6,262.5 L108.2,265.1 L106.8,266.3 L104.2,267.8 L102.2,268.7 L100.2,269.3Z"/>
<path d="M100.8,269.5 L98.8,269.7 L96.0,269.5 L93.2,269.1 L91.2,268.4 L89.3,267.0 L86.8,264.8 L85.5,262.8 L85.1,261.0 L85.1,259.8 L85.8,257.0 L86.3,255.8 L86.9,254.8 L92.2,249.3 L93.2,248.7 L95.0,248.0 L95.8,247.3 L95.8,246.0 L94.5,242.2 L94.6,240.5 L95.1,239.2 L96.0,238.3 L97.5,237.2 L98.5,236.9 L99.2,237.1 L100.0,237.6 L101.8,239.4 L102.4,240.2 L102.8,242.0 L102.8,245.8 L103.6,248.0 L105.0,249.0 L109.2,250.1 L110.8,251.0 L111.8,252.2 L112.5,253.5 L113.3,257.0 L113.1,258.8 L112.2,261.0 L110.9,262.8 L108.5,265.4 L107.0,266.7 L104.5,268.1 L102.8,268.9 L100.8,269.5Z"/>
<path d="M100.5,270.0 L98.5,270.2 L95.0,269.8 L92.5,269.3 L90.8,268.6 L88.0,266.5 L86.4,265.0 L85.1,263.0 L84.5,261.0 L84.6,259.8 L85.2,257.2 L86.2,255.0 L87.8,253.1 L90.3,250.5 L93.6,246.5 L93.8,245.2 L93.0,242.2 L93.2,240.8 L93.8,239.4 L96.8,235.3 L97.2,234.9 L98.0,234.6 L99.0,234.8 L101.8,235.8 L102.5,236.4 L103.8,240.3 L103.9,244.8 L104.4,246.2 L105.2,247.5 L106.1,248.2 L107.2,248.7 L109.8,249.3 L111.2,250.4 L113.1,253.2 L113.6,254.8 L113.9,256.8 L113.7,258.8 L112.9,260.8 L111.1,263.2 L108.8,265.9 L107.2,267.1 L105.0,268.4 L102.8,269.4 L100.5,270.0Z"/>
<path d="M100.8,270.5 L98.5,270.7 L94.8,270.4 L92.2,269.9 L90.5,269.2 L87.2,266.7 L85.8,265.2 L84.3,262.8 L83.7,260.8 L84.3,257.8 L85.1,255.5 L87.0,253.0 L89.8,250.0 L91.4,247.0 L91.7,245.5 L91.8,241.5 L92.1,240.0 L92.6,238.8 L95.1,234.0 L96.8,232.8 L98.5,232.2 L99.5,232.3 L102.5,233.5 L103.3,234.0 L104.0,234.8 L104.6,236.0 L105.1,238.2 L105.2,243.8 L105.6,245.2 L106.3,246.5 L107.0,247.2 L108.0,247.8 L110.5,248.6 L112.1,250.0 L113.9,253.0 L114.3,254.5 L114.6,256.8 L114.4,258.8 L113.6,260.8 L111.3,264.0 L109.2,266.2 L108.0,267.4 L106.2,268.4 L103.0,269.9 L100.8,270.5Z"/>
<path d="M101.0,271.3 L98.8,271.5 L94.8,271.3 L92.0,270.7 L90.0,269.9 L86.4,267.2 L85.0,265.8 L83.3,263.0 L82.9,261.8 L82.7,260.5 L83.0,258.2 L83.9,255.8 L85.4,253.5 L88.7,249.5 L89.4,248.0 L89.8,246.5 L89.9,243.5 L90.6,239.0 L91.0,237.8 L92.9,233.8 L94.0,232.3 L95.8,231.0 L97.5,229.3 L98.5,228.7 L99.2,228.6 L100.5,229.0 L102.5,230.5 L104.5,232.5 L105.6,234.0 L106.3,235.5 L106.8,237.5 L107.1,242.5 L107.7,245.0 L108.7,246.2 L111.8,248.0 L113.2,249.5 L114.9,252.8 L115.6,256.5 L115.4,258.5 L114.7,260.8 L112.1,264.5 L110.8,266.0 L108.9,267.8 L107.2,268.8 L103.8,270.4 L101.0,271.3Z"/>
<path d="M98.0,272.5 L94.5,272.4 L91.0,271.6 L89.0,270.7 L85.7,268.2 L84.2,266.8 L82.3,264.0 L81.5,261.8 L81.3,259.2 L81.6,257.2 L82.5,255.2 L87.0,249.0 L87.7,247.5 L88.7,238.8 L89.6,235.8 L92.1,231.5 L94.8,228.7 L97.5,224.5 L97.5,223.5 L95.9,219.5 L95.9,218.2 L96.1,217.2 L96.8,216.2 L97.5,215.5 L98.5,215.0 L99.8,214.7 L100.2,215.0 L99.2,215.5 L98.6,216.2 L98.1,217.2 L98.0,218.2 L98.4,219.8 L99.5,220.6 L100.5,220.9 L101.5,220.8 L102.2,220.3 L102.9,219.5 L103.2,218.5 L103.2,217.5 L102.1,215.2 L103.5,215.7 L104.5,216.9 L104.9,218.8 L104.7,220.5 L104.0,222.0 L102.0,224.5 L101.9,225.5 L103.2,227.8 L105.9,230.2 L106.8,231.8 L108.3,235.5 L109.0,241.0 L109.8,243.5 L110.5,244.8 L113.4,247.2 L115.1,249.8 L116.3,253.0 L116.8,256.8 L116.3,259.8 L115.5,261.8 L112.5,266.0 L110.2,268.2 L107.8,269.9 L104.0,271.5 L100.8,272.3 L98.0,272.5Z"/>
<path d="M98.5,274.3 L94.2,274.2 L90.8,273.4 L87.8,272.1 L85.0,270.3 L82.5,268.0 L80.5,265.0 L79.4,262.0 L79.1,259.2 L79.4,257.0 L80.0,255.0 L81.6,252.2 L84.2,248.3 L85.0,246.7 L85.3,245.0 L85.7,238.2 L88.0,232.5 L89.0,230.8 L91.1,227.8 L94.1,224.5 L94.7,223.5 L94.8,222.5 L94.3,218.8 L94.4,217.5 L94.8,216.2 L95.9,214.5 L97.2,213.4 L98.8,212.7 L100.5,212.4 L102.2,212.7 L104.0,213.6 L105.3,214.8 L106.2,216.2 L106.5,217.8 L106.6,219.5 L106.4,221.0 L105.6,223.5 L105.6,224.5 L106.3,225.5 L108.8,228.2 L109.6,229.8 L111.4,235.2 L111.7,239.5 L112.2,241.5 L113.0,243.1 L116.4,247.5 L117.4,249.2 L118.5,253.2 L118.8,256.5 L118.1,260.5 L117.3,262.8 L116.3,264.5 L114.6,266.8 L112.2,269.2 L109.5,271.2 L105.8,272.9 L102.2,273.9 L98.5,274.3Z"/>
<path d="M100.9,219.2 L101.4,218.8 L101.4,218.0 L101.0,217.6 L100.2,217.5 L99.7,218.0 L99.7,218.8 L100.2,219.3 L100.9,219.2Z"/>
<path d="M100.5,273.0 L96.2,273.2 L94.0,273.0 L90.2,272.0 L88.0,270.9 L84.5,268.3 L82.3,265.5 L81.5,264.0 L80.9,262.5 L80.4,259.5 L80.7,257.2 L81.4,255.2 L82.5,253.5 L85.8,248.9 L86.7,247.0 L87.0,245.5 L87.5,238.8 L88.9,234.8 L89.8,233.0 L91.5,230.5 L95.5,225.5 L96.2,224.2 L96.2,223.0 L95.2,219.2 L95.2,218.0 L95.5,216.8 L96.3,215.5 L97.5,214.3 L99.0,213.6 L100.5,213.4 L102.0,213.7 L103.5,214.4 L104.5,215.2 L105.3,216.5 L105.7,218.2 L105.6,220.2 L105.1,221.8 L103.6,224.2 L103.5,225.2 L104.4,226.8 L107.0,229.3 L107.8,230.5 L109.5,235.2 L110.1,240.2 L110.5,242.0 L111.5,244.0 L114.1,246.8 L116.0,249.5 L117.1,252.8 L117.6,256.5 L117.1,259.8 L116.4,261.8 L113.7,265.8 L112.2,267.5 L109.8,269.5 L107.0,271.1 L103.8,272.4 L100.5,273.0Z"/>
<path d="M101.4,220.0 L102.0,219.5 L102.3,219.0 L102.4,218.2 L102.2,217.5 L101.8,216.8 L101.2,216.5 L100.5,216.4 L99.8,216.6 L99.2,217.0 L98.8,217.8 L98.7,218.5 L98.9,219.2 L99.3,219.8 L100.0,220.1 L100.8,220.2 L101.4,220.0Z"/>
</g>
<g fill="none" stroke="#222" stroke-width="0.6" stroke-opacity="1.0">
<path d="M246.0,199.3 L245.2,199.3 L244.5,199.0 L243.9,198.5 L243.6,197.8 L243.7,197.0 L244.2,196.2 L245.0,195.7 L245.8,195.5 L246.5,195.7 L247.0,196.0 L247.5,197.2 L247.2,198.5 L246.8,199.0 L246.0,199.3Z"/>
<path d="M246.5,199.3 L245.5,199.5 L244.6,199.2 L243.9,198.8 L243.4,198.0 L243.4,197.2 L243.8,196.5 L244.5,195.8 L245.2,195.4 L246.0,195.3 L246.8,195.6 L247.2,196.0 L247.6,196.8 L247.7,197.5 L247.6,198.2 L247.2,198.8 L246.5,199.3Z"/>
<path d="M246.5,199.5 L245.5,199.7 L244.5,199.4 L243.5,198.8 L243.1,198.0 L243.1,197.2 L243.5,196.3 L244.4,195.5 L245.2,195.1 L246.2,195.1 L247.0,195.4 L247.6,196.0 L247.9,196.8 L247.9,197.8 L247.7,198.5 L247.2,199.1 L246.5,199.5Z"/>
<path d="M246.5,199.8 L245.5,199.9 L244.2,199.6 L243.3,199.0 L242.7,198.0 L242.7,197.0 L243.1,196.2 L244.0,195.3 L245.0,194.7 L246.0,194.6 L247.0,195.0 L247.8,195.7 L248.1,196.5 L248.3,197.5 L248.0,198.6 L247.5,199.3 L246.5,199.8Z"/>
<path d="M246.8,200.1 L245.5,200.2 L244.0,199.9 L243.1,199.2 L242.4,198.2 L242.2,197.2 L242.5,196.2 L243.7,195.0 L244.8,194.3 L245.8,194.2 L247.0,194.5 L247.9,195.2 L248.5,196.2 L248.6,197.5 L248.3,198.8 L247.8,199.5 L246.8,200.1Z"/>
<path d="M246.2,200.5 L244.8,200.5 L243.2,199.9 L242.3,199.0 L241.8,197.8 L241.9,196.5 L242.5,195.5 L243.8,194.3 L245.0,193.8 L246.2,193.8 L247.5,194.3 L248.5,195.2 L249.0,196.5 L249.0,198.0 L248.5,199.2 L247.5,200.1 L246.2,200.5Z"/>
<path d="M247.0,200.8 L245.2,200.9 L243.5,200.5 L242.2,199.6 L241.4,198.2 L241.2,197.0 L241.6,195.8 L243.0,194.2 L244.2,193.4 L245.8,193.2 L247.2,193.6 L248.5,194.5 L249.2,195.5 L249.5,197.2 L249.1,199.0 L248.2,200.1 L247.0,200.8Z"/>
<path d="M246.5,201.3 L244.5,201.2 L242.8,200.6 L241.6,199.5 L240.9,198.0 L240.8,196.5 L241.5,195.0 L243.0,193.5 L244.5,192.8 L246.2,192.8 L247.8,193.3 L249.0,194.2 L249.8,195.8 L249.9,197.8 L249.4,199.5 L248.2,200.7 L246.5,201.3Z"/>
<path d="M246.2,201.8 L244.0,201.6 L242.2,200.9 L241.0,199.5 L240.3,197.8 L240.4,196.0 L241.1,194.5 L242.8,193.0 L244.5,192.3 L246.5,192.3 L248.2,193.0 L249.7,194.2 L250.4,195.8 L250.3,198.2 L249.6,200.0 L248.2,201.2 L246.2,201.8Z"/>
<path d="M246.0,202.3 L243.5,202.0 L241.8,201.1 L240.4,199.5 L239.7,197.5 L240.0,195.5 L241.0,193.8 L242.8,192.4 L244.8,191.7 L246.8,191.8 L248.8,192.7 L250.5,194.2 L251.0,195.8 L250.8,198.5 L250.0,200.3 L249.2,201.1 L248.2,201.8 L246.0,202.3Z"/>
<path d="M246.5,202.8 L244.0,202.6 L241.8,201.8 L240.3,200.2 L239.3,198.0 L239.3,196.0 L240.1,194.0 L241.8,192.3 L243.0,191.6 L244.0,191.3 L246.2,191.2 L248.5,191.9 L250.5,193.4 L251.2,194.2 L251.5,195.0 L251.6,196.2 L251.4,198.0 L251.1,199.2 L250.7,200.2 L249.9,201.2 L248.8,202.1 L247.8,202.5 L246.5,202.8Z"/>
<path d="M247.0,203.3 L244.2,203.2 L242.8,202.8 L241.5,202.3 L239.9,200.8 L238.8,198.5 L238.7,196.2 L238.9,195.0 L239.5,193.8 L241.2,192.0 L243.5,190.8 L246.0,190.6 L247.2,190.8 L248.5,191.2 L249.8,192.0 L251.0,193.0 L251.6,193.8 L252.0,194.8 L252.2,196.0 L251.9,198.2 L251.6,199.5 L251.2,200.5 L250.2,201.6 L249.2,202.5 L248.2,203.0 L247.0,203.3Z"/>
<path d="M247.8,203.8 L244.8,203.9 L243.2,203.6 L241.5,202.9 L239.8,201.5 L238.5,199.2 L238.1,197.8 L238.0,196.5 L238.3,195.0 L238.8,193.8 L239.5,192.8 L240.5,191.8 L241.8,190.9 L243.0,190.4 L244.2,190.1 L245.8,190.0 L247.2,190.2 L248.5,190.5 L249.8,191.2 L251.0,192.2 L252.0,193.2 L252.6,194.2 L252.8,195.2 L252.7,196.8 L252.4,199.0 L252.0,200.2 L251.1,201.5 L250.0,202.6 L249.0,203.3 L247.8,203.8Z"/>
<path d="M246.8,204.5 L244.0,204.4 L242.0,203.8 L240.8,203.2 L239.6,202.2 L238.6,201.0 L237.9,199.8 L237.6,198.5 L237.4,197.2 L237.5,195.8 L237.9,194.2 L238.5,193.0 L239.5,191.9 L240.8,190.9 L242.0,190.2 L243.5,189.6 L246.5,189.5 L248.0,189.7 L249.2,190.2 L250.8,191.2 L252.2,192.5 L252.9,193.5 L253.3,194.5 L253.4,196.0 L253.1,198.8 L252.7,200.0 L252.1,201.2 L250.8,202.8 L249.5,203.7 L248.2,204.3 L246.8,204.5Z"/>
<path d="M247.8,205.0 L244.5,205.1 L240.8,204.0 L239.7,203.2 L238.5,202.1 L237.7,201.0 L237.2,199.8 L236.8,198.0 L236.7,196.5 L236.9,195.0 L237.5,193.5 L238.4,192.2 L239.5,191.1 L241.0,190.0 L242.5,189.3 L244.0,189.0 L246.0,188.8 L247.5,189.0 L249.0,189.4 L250.5,190.3 L252.0,191.5 L253.2,192.8 L253.9,194.0 L254.1,195.5 L253.9,197.8 L253.6,199.5 L252.9,201.0 L251.9,202.5 L250.5,203.8 L249.2,204.5 L247.8,205.0Z"/>
<path d="M247.0,205.8 L245.2,205.9 L243.8,205.7 L241.0,204.9 L239.8,204.3 L238.5,203.2 L237.3,201.8 L236.7,200.5 L236.2,198.8 L236.0,197.2 L236.1,195.5 L236.6,194.0 L237.4,192.5 L238.5,191.2 L240.0,190.0 L241.5,189.1 L243.0,188.6 L246.8,188.3 L248.2,188.5 L249.5,189.0 L251.2,190.0 L253.2,191.8 L254.2,193.0 L254.7,194.2 L254.9,196.0 L254.6,198.2 L254.0,200.2 L253.1,202.0 L251.8,203.5 L250.2,204.7 L248.8,205.4 L247.0,205.8Z"/>
<path d="M246.2,206.5 L244.2,206.5 L241.0,205.7 L239.8,205.3 L238.8,204.5 L237.3,203.0 L236.3,201.5 L235.5,199.2 L235.3,197.2 L235.5,195.2 L236.1,193.5 L237.2,191.8 L238.6,190.2 L240.2,189.1 L241.8,188.4 L243.8,187.9 L246.2,187.7 L248.0,187.8 L249.8,188.4 L251.8,189.6 L253.5,191.0 L254.6,192.2 L255.1,193.2 L255.5,194.5 L255.6,196.5 L255.5,198.0 L255.1,199.5 L254.1,201.8 L253.0,203.2 L251.5,204.6 L249.8,205.6 L248.2,206.2 L246.2,206.5Z"/>
<path d="M247.2,207.0 L245.5,207.2 L244.0,207.2 L240.5,206.5 L239.2,206.0 L237.8,204.7 L236.5,203.2 L235.7,201.8 L234.9,199.5 L234.6,197.8 L234.8,195.5 L235.2,194.0 L236.1,192.2 L237.4,190.5 L238.8,189.3 L240.5,188.2 L242.2,187.5 L246.5,187.0 L248.0,187.1 L249.5,187.6 L252.2,189.1 L254.0,190.5 L255.3,192.0 L256.0,193.5 L256.3,196.2 L256.3,198.2 L255.7,200.0 L254.4,202.5 L253.2,204.0 L251.2,205.5 L249.2,206.5 L247.2,207.0Z"/>
<path d="M247.0,207.8 L245.0,208.0 L243.5,207.9 L240.2,207.5 L238.8,206.8 L237.0,205.2 L235.8,203.8 L234.9,201.8 L234.1,199.2 L233.9,197.5 L234.2,195.0 L234.8,193.2 L235.8,191.5 L237.0,190.0 L238.5,188.7 L240.5,187.5 L242.2,186.8 L247.2,186.4 L248.8,186.6 L250.0,187.0 L253.0,188.7 L254.8,190.1 L256.0,191.6 L256.7,193.5 L257.1,196.5 L257.1,198.2 L256.4,200.2 L255.0,203.0 L253.6,204.5 L251.5,206.0 L249.2,207.2 L247.0,207.8Z"/>
<path d="M245.0,208.8 L242.8,208.8 L239.2,208.2 L238.0,207.6 L236.4,206.0 L234.9,203.8 L233.6,200.2 L233.2,198.2 L233.4,195.8 L234.0,193.5 L235.1,191.2 L236.8,189.3 L238.5,187.9 L240.5,186.7 L242.0,186.1 L246.2,185.7 L248.5,185.8 L250.5,186.4 L253.0,187.8 L254.8,189.1 L256.2,190.7 L257.0,192.0 L257.5,193.8 L257.8,196.5 L257.8,198.2 L257.3,200.0 L256.1,202.5 L255.1,204.0 L253.8,205.2 L251.8,206.6 L249.8,207.6 L247.8,208.3 L245.0,208.8Z"/>
<path d="M243.5,210.0 L242.0,210.1 L238.2,209.4 L237.0,208.5 L235.5,206.5 L234.1,204.0 L232.7,199.8 L232.5,197.8 L232.9,194.8 L233.8,192.0 L235.1,190.0 L237.0,188.1 L239.8,186.3 L241.2,185.6 L242.5,185.3 L247.5,185.0 L249.2,185.1 L251.2,185.9 L254.2,187.8 L255.8,189.0 L257.0,190.5 L257.8,192.2 L258.4,194.5 L258.6,197.0 L258.4,198.8 L257.7,201.0 L256.4,203.5 L255.3,204.8 L253.2,206.4 L251.5,207.5 L249.0,208.6 L243.5,210.0Z"/>
<path d="M238.2,215.3 L237.1,215.2 L235.9,214.8 L235.0,214.0 L234.5,213.0 L234.5,212.0 L235.2,209.8 L235.1,208.8 L232.6,202.2 L231.8,198.8 L232.0,195.2 L232.9,192.2 L234.0,190.2 L236.0,188.0 L237.5,186.9 L241.0,184.9 L242.5,184.5 L248.0,184.2 L249.5,184.4 L250.8,184.8 L252.2,185.5 L255.5,187.8 L257.2,189.5 L258.1,191.0 L259.0,193.5 L259.3,196.0 L259.2,198.5 L258.3,201.2 L257.4,203.2 L256.5,204.5 L253.0,207.5 L249.5,209.2 L245.6,210.5 L243.1,211.8 L239.2,214.8 L238.2,215.3Z"/>
<path d="M241.8,229.3 L241.0,229.2 L240.4,228.5 L240.5,227.5 L241.2,226.9 L242.0,227.0 L242.6,227.8 L242.4,228.8 L241.8,229.3Z"/>
<path d="M239.2,216.8 L238.5,217.0 L237.8,216.9 L235.0,215.9 L233.5,214.8 L232.6,213.5 L232.5,211.8 L233.4,209.0 L233.5,208.0 L231.1,199.5 L231.1,196.0 L231.5,193.8 L233.0,190.5 L235.0,188.0 L236.5,186.7 L240.5,184.3 L242.2,183.8 L248.0,183.5 L249.5,183.6 L250.8,183.9 L252.5,184.8 L256.0,187.3 L257.7,189.0 L258.7,190.5 L259.6,193.0 L260.2,195.5 L259.9,198.5 L259.2,201.0 L258.1,203.5 L257.3,204.8 L253.8,207.9 L252.2,208.8 L246.8,211.0 L245.4,211.8 L243.8,212.9 L241.2,215.3 L239.2,216.8Z"/>
<path d="M242.0,230.6 L241.2,230.7 L240.5,230.6 L239.8,230.0 L239.3,229.2 L239.2,228.2 L239.5,227.2 L240.0,226.4 L240.8,225.9 L241.5,225.9 L242.2,226.1 L242.9,226.8 L243.3,227.5 L243.4,228.2 L243.2,229.2 L242.8,230.0 L242.0,230.6Z"/>
<path d="M256.8,252.5 L255.8,252.7 L252.8,251.8 L252.0,251.2 L251.2,250.1 L250.9,248.8 L251.4,247.2 L251.5,245.4 L252.0,244.4 L253.0,243.7 L255.2,243.1 L257.0,243.1 L258.4,243.8 L259.4,245.0 L259.6,246.2 L259.5,246.9 L259.2,247.2 L257.0,245.7 L255.2,245.2 L254.2,245.4 L253.2,245.8 L252.4,246.5 L251.9,247.2 L251.9,248.0 L252.4,249.0 L253.5,250.6 L254.5,251.4 L257.0,251.7 L257.0,252.2 L256.8,252.5Z"/>
<path d="M239.2,219.5 L238.2,219.3 L236.1,217.8 L233.7,216.5 L232.1,215.0 L231.3,213.8 L231.2,212.0 L232.1,208.2 L232.2,207.0 L232.0,205.2 L230.4,199.8 L230.3,195.8 L230.5,194.0 L232.3,190.2 L234.2,187.8 L236.0,186.2 L240.0,183.8 L241.2,183.3 L242.5,183.0 L248.5,182.8 L250.5,183.1 L252.8,184.1 L256.0,186.3 L258.0,188.2 L259.2,189.8 L261.4,195.5 L260.1,200.8 L258.7,204.0 L257.2,205.9 L253.2,209.2 L248.4,211.2 L245.6,213.0 L241.2,217.5 L240.0,219.0 L239.2,219.5Z"/>
<path d="M264.0,196.0 L263.4,196.0 L263.1,195.5 L263.5,195.2 L264.0,195.3 L264.3,195.8 L264.0,196.0Z"/>
<path d="M241.2,233.0 L240.2,233.0 L239.2,232.5 L237.7,230.2 L237.3,229.2 L237.4,228.5 L238.2,226.5 L239.0,223.8 L239.5,223.0 L240.2,222.6 L241.0,222.8 L242.2,224.2 L243.6,226.2 L244.2,228.0 L244.1,230.2 L243.6,231.8 L242.8,232.5 L241.2,233.0Z"/>
<path d="M249.0,238.3 L247.8,238.4 L246.6,237.8 L246.2,237.2 L246.0,236.5 L246.0,236.0 L246.4,235.5 L246.8,235.3 L247.5,235.3 L249.0,236.2 L249.5,236.9 L249.6,237.5 L249.4,238.0 L249.0,238.3Z"/>
<path d="M256.8,254.1 L255.0,253.9 L252.0,252.8 L250.8,251.5 L249.8,249.5 L249.6,247.8 L250.4,244.5 L251.4,243.0 L252.8,242.2 L255.8,242.0 L257.8,242.4 L258.8,242.9 L259.8,243.7 L260.7,245.2 L261.3,248.2 L261.0,250.0 L260.2,251.3 L258.9,252.8 L257.8,253.7 L256.8,254.1Z"/>
<path d="M256.3,250.0 L257.0,249.6 L257.5,248.9 L257.6,248.0 L257.4,247.2 L256.8,246.6 L256.0,246.3 L255.2,246.2 L254.5,246.5 L253.8,247.0 L253.6,247.5 L253.5,248.2 L253.7,249.0 L254.8,249.9 L255.5,250.1 L256.3,250.0Z"/>
<path d="M250.5,239.8 L248.5,239.9 L246.5,239.2 L244.6,237.8 L243.0,235.2 L242.2,234.9 L239.2,234.1 L237.9,233.0 L236.3,230.5 L236.0,229.2 L236.0,228.2 L236.9,225.5 L237.5,222.5 L237.4,221.0 L235.8,219.0 L233.0,217.3 L231.6,216.0 L230.6,214.5 L230.1,213.0 L230.1,211.5 L231.1,208.0 L231.2,206.5 L231.0,205.0 L229.6,200.0 L229.6,195.0 L230.0,193.2 L232.1,189.2 L234.5,186.5 L236.0,185.4 L239.8,183.2 L242.0,182.3 L249.5,182.1 L251.2,182.6 L253.2,183.6 L256.5,185.8 L259.2,188.4 L260.0,189.5 L261.0,192.3 L261.8,193.4 L262.5,193.8 L264.5,194.1 L265.2,194.8 L265.5,195.5 L265.4,196.2 L264.8,197.0 L264.0,197.3 L262.5,197.5 L261.8,198.0 L260.3,202.5 L259.0,204.8 L258.0,206.1 L253.8,209.7 L249.1,211.8 L246.4,213.8 L244.8,215.5 L242.9,219.0 L242.9,220.5 L244.4,224.5 L246.3,231.8 L247.6,233.5 L250.2,235.7 L251.0,237.0 L251.2,238.8 L251.0,239.4 L250.5,239.8Z"/>
<path d="M256.8,254.8 L254.8,254.6 L251.8,253.4 L250.3,252.0 L249.1,249.8 L248.9,247.8 L249.6,244.2 L250.8,242.1 L251.5,241.1 L252.0,240.8 L256.8,241.4 L258.2,241.9 L260.3,243.2 L261.4,245.0 L262.1,248.5 L261.9,249.8 L261.5,250.8 L260.5,252.2 L259.3,253.5 L258.0,254.4 L256.8,254.8Z"/>
<path d="M256.0,249.2 L256.8,248.5 L256.7,247.5 L256.0,246.9 L255.0,246.9 L254.4,247.5 L254.3,248.5 L255.0,249.2 L256.0,249.2Z"/>
<path d="M257.0,255.3 L255.0,255.3 L252.2,254.4 L250.6,253.2 L249.3,251.5 L248.5,249.8 L248.3,248.2 L248.6,246.0 L249.3,242.5 L249.2,241.5 L245.2,239.4 L241.8,236.5 L238.2,234.8 L236.8,233.3 L235.4,230.8 L235.0,229.2 L236.0,222.8 L235.9,221.0 L234.8,219.5 L232.5,218.0 L230.9,216.5 L229.9,215.0 L229.2,213.2 L229.2,211.5 L230.1,208.0 L230.3,206.5 L230.1,205.0 L229.1,201.8 L228.7,200.0 L228.9,194.8 L229.3,193.0 L231.6,188.8 L233.8,186.2 L235.5,184.9 L238.0,183.3 L240.2,182.1 L241.8,181.6 L247.8,181.3 L249.8,181.4 L251.5,181.9 L254.8,183.6 L257.2,185.5 L259.9,188.0 L260.6,189.0 L261.5,191.5 L262.0,192.3 L262.8,192.8 L265.0,193.6 L265.8,194.4 L266.1,195.2 L266.1,196.2 L265.5,197.3 L264.8,197.8 L263.0,198.4 L262.5,198.9 L261.1,202.8 L258.5,206.5 L254.2,210.2 L253.0,210.9 L249.8,212.2 L248.2,213.5 L246.4,215.2 L245.6,216.2 L244.9,217.8 L244.4,219.5 L244.4,220.8 L245.8,224.1 L246.3,227.0 L247.7,231.8 L248.6,233.2 L251.3,235.8 L252.7,239.2 L253.2,239.8 L254.1,240.2 L257.8,241.1 L259.5,241.9 L261.1,243.2 L262.0,245.0 L262.6,248.5 L262.5,249.8 L262.1,251.0 L261.1,252.5 L259.9,253.8 L258.5,254.7 L257.0,255.3Z"/>
<path d="M255.5,248.8 L256.1,248.5 L256.2,248.0 L256.0,247.5 L255.5,247.3 L255.0,247.6 L254.8,248.0 L255.0,248.5 L255.5,248.8Z"/>
<path d="M256.8,255.8 L255.2,255.8 L253.2,255.3 L251.2,254.4 L250.0,253.3 L248.6,251.2 L247.9,249.2 L247.9,247.5 L248.4,243.2 L248.4,242.5 L248.1,242.0 L242.0,238.0 L238.2,236.0 L237.0,235.1 L236.1,234.0 L234.7,231.2 L234.3,229.5 L234.8,224.8 L234.9,222.0 L234.7,221.0 L234.0,220.0 L231.8,218.5 L230.1,216.8 L229.2,215.2 L228.4,213.0 L228.4,211.5 L229.2,208.1 L229.4,206.8 L229.3,205.5 L228.3,202.0 L227.9,200.0 L228.2,194.8 L228.7,192.8 L231.1,188.2 L233.5,185.6 L237.8,182.6 L240.0,181.5 L241.5,181.0 L247.2,180.5 L249.8,180.6 L251.5,181.1 L255.0,182.9 L257.5,184.7 L260.0,187.0 L261.1,188.5 L262.5,191.6 L263.0,192.0 L265.5,193.3 L266.1,194.0 L266.5,195.0 L266.5,196.2 L266.2,197.2 L265.5,198.0 L263.7,199.0 L263.2,199.5 L261.6,203.5 L258.8,207.1 L254.5,210.8 L253.0,211.7 L250.5,212.8 L249.2,213.7 L246.5,216.5 L245.9,217.5 L245.5,219.0 L245.6,220.8 L246.8,223.8 L247.3,226.8 L248.3,230.8 L249.0,232.5 L251.9,235.5 L253.2,238.5 L253.8,239.2 L255.0,239.9 L258.5,240.9 L260.0,241.7 L261.7,243.2 L262.6,245.2 L263.0,247.0 L263.1,248.8 L262.9,250.2 L262.4,251.5 L261.3,253.0 L260.0,254.3 L258.5,255.2 L256.8,255.8Z"/>
<path d="M255.5,248.2 L255.7,248.0 L255.5,247.8 L255.3,248.0 L255.5,248.2Z"/>
</g>
<circle cx="261.4" cy="219.5" r="1.3" fill="none" stroke="#333" stroke-width="0.5"/>
<circle cx="241.7" cy="259.4" r="1.2" fill="none" stroke="#333" stroke-width="0.5"/>
<g fill="none" stroke="#222" stroke-width="0.5" stroke-opacity="1.0">
<path d="M104.5,417.8 L103.8,417.7 L103.2,417.3 L103.0,416.8 L102.9,416.0 L103.3,414.8 L103.8,414.2 L104.5,414.0 L105.0,414.1 L105.5,414.5 L106.0,416.0 L105.7,417.0 L105.2,417.5 L104.5,417.8Z"/>
<path d="M104.8,418.8 L103.8,418.8 L102.8,418.3 L102.4,417.8 L102.2,417.0 L102.5,415.5 L102.9,414.5 L103.8,413.7 L104.8,413.4 L105.5,413.6 L106.1,414.0 L106.7,415.0 L107.0,416.0 L106.8,416.8 L106.5,417.4 L105.5,418.3 L104.8,418.8Z"/>
<path d="M104.8,419.6 L103.8,419.5 L102.3,418.8 L101.8,418.0 L101.8,417.2 L102.2,415.2 L102.8,414.2 L104.0,413.1 L105.2,412.8 L106.0,413.1 L107.5,414.2 L107.9,414.8 L107.9,415.2 L107.5,416.8 L107.2,417.5 L105.5,419.2 L104.8,419.6Z"/>
<path d="M104.8,420.3 L103.5,419.9 L102.0,419.1 L101.4,418.2 L101.4,417.2 L102.0,415.0 L102.8,413.8 L104.2,412.6 L105.8,412.3 L108.5,413.8 L108.9,414.5 L107.5,417.8 L105.5,420.0 L104.8,420.3Z"/>
<path d="M105.5,420.8 L104.5,420.9 L102.2,419.8 L101.2,418.8 L101.0,417.8 L101.6,415.2 L102.4,413.8 L104.0,412.4 L105.8,411.8 L106.7,412.0 L109.0,413.4 L109.5,414.0 L109.6,414.5 L107.9,418.0 L105.5,420.8Z"/>
<path d="M105.2,421.5 L104.0,421.2 L101.8,419.9 L101.0,419.0 L100.7,417.8 L101.6,414.8 L102.5,413.2 L104.5,411.7 L105.5,411.3 L106.2,411.2 L107.0,411.5 L109.5,413.2 L110.0,413.8 L110.2,414.5 L109.1,416.2 L108.0,418.7 L106.3,421.0 L105.2,421.5Z"/>
<path d="M105.5,422.1 L104.2,421.9 L101.5,420.2 L100.6,419.0 L100.5,417.8 L101.3,414.8 L102.2,413.1 L104.5,411.2 L105.5,410.8 L106.5,410.8 L107.5,411.2 L109.8,413.0 L110.4,413.8 L110.6,414.5 L109.4,416.5 L108.7,418.5 L108.0,419.7 L106.8,421.3 L105.5,422.1Z"/>
<path d="M105.5,422.6 L104.8,422.6 L104.0,422.3 L101.2,420.6 L100.4,419.2 L100.2,417.8 L101.2,414.2 L102.2,412.5 L104.5,410.7 L105.8,410.3 L106.8,410.3 L107.8,410.7 L110.2,412.9 L110.9,413.8 L111.1,414.5 L110.8,415.2 L109.7,416.8 L109.0,419.0 L108.2,420.4 L107.0,421.8 L105.5,422.6Z"/>
<path d="M105.2,423.0 L103.8,422.8 L101.0,420.9 L100.1,419.5 L99.9,417.8 L100.9,414.0 L102.0,412.2 L103.2,411.0 L104.2,410.4 L105.5,410.0 L107.0,409.9 L108.0,410.3 L110.8,413.0 L111.4,414.0 L111.4,414.8 L110.0,417.0 L109.3,419.5 L108.6,420.8 L107.0,422.3 L105.2,423.0Z"/>
<path d="M106.0,423.3 L105.0,423.5 L104.0,423.4 L101.0,421.5 L100.3,420.8 L99.9,420.0 L99.6,419.0 L99.5,418.0 L100.6,413.8 L101.6,412.0 L103.0,410.7 L104.0,410.0 L105.5,409.5 L107.0,409.4 L108.0,409.7 L108.7,410.2 L111.5,413.2 L111.9,414.5 L111.6,415.5 L110.4,417.2 L109.8,419.7 L109.2,420.8 L107.7,422.2 L106.0,423.3Z"/>
<path d="M105.5,423.8 L104.5,423.9 L103.5,423.7 L100.3,421.5 L99.8,420.8 L99.4,419.8 L99.2,417.8 L100.4,413.2 L101.5,411.5 L102.8,410.2 L104.0,409.5 L106.0,409.0 L107.5,409.0 L108.8,409.6 L111.5,412.8 L112.2,413.8 L112.3,414.8 L112.0,415.6 L110.8,417.5 L110.2,419.8 L109.6,421.0 L107.7,422.8 L105.5,423.8Z"/>
<path d="M105.2,424.3 L104.2,424.4 L103.2,424.1 L99.9,421.8 L99.4,421.0 L99.0,420.0 L98.8,417.8 L100.0,413.0 L100.5,412.0 L101.2,411.0 L102.7,409.8 L103.8,409.2 L106.0,408.6 L107.8,408.5 L108.5,408.7 L109.2,409.2 L112.1,412.8 L112.6,413.8 L112.7,415.0 L112.3,416.0 L111.2,417.7 L110.7,420.0 L110.0,421.2 L107.5,423.3 L105.2,424.3Z"/>
<path d="M105.0,424.8 L104.0,424.8 L103.0,424.6 L99.5,422.0 L99.0,421.2 L98.5,420.0 L98.4,418.8 L98.5,417.5 L99.6,412.8 L100.2,411.6 L101.2,410.5 L102.5,409.3 L103.8,408.7 L106.8,408.0 L108.0,408.0 L108.8,408.2 L109.7,409.0 L112.4,412.5 L113.0,413.8 L113.0,415.2 L112.7,416.2 L111.7,418.0 L111.1,420.2 L110.5,421.3 L109.3,422.5 L107.8,423.6 L106.2,424.4 L105.0,424.8Z"/>
<path d="M104.8,425.3 L103.5,425.4 L102.5,425.1 L99.0,422.2 L98.5,421.5 L98.1,420.2 L97.9,418.8 L98.0,417.5 L99.1,412.8 L99.9,411.2 L101.0,410.0 L102.2,408.9 L103.8,408.1 L106.5,407.4 L108.0,407.3 L109.2,407.9 L110.2,408.7 L112.8,412.2 L113.4,413.8 L113.4,415.5 L113.1,416.5 L112.1,418.5 L111.6,420.5 L111.0,421.5 L109.5,422.8 L107.8,424.1 L106.2,424.8 L104.8,425.3Z"/>
<path d="M104.5,425.8 L103.0,425.9 L102.0,425.6 L99.0,423.0 L98.2,422.0 L97.7,420.5 L97.5,418.8 L98.1,414.2 L98.6,412.8 L99.4,411.2 L100.5,409.9 L101.8,408.7 L103.0,407.8 L104.5,407.2 L106.5,406.7 L108.0,406.7 L109.2,407.1 L110.5,408.1 L113.2,412.0 L113.8,413.8 L113.8,416.0 L113.5,417.0 L112.6,418.8 L112.0,420.8 L111.2,421.9 L109.5,423.4 L107.5,424.7 L106.0,425.4 L104.5,425.8Z"/>
<path d="M104.5,426.3 L102.8,426.5 L101.5,426.1 L98.8,423.5 L97.8,422.2 L97.3,421.0 L97.0,419.2 L97.6,414.2 L97.9,413.0 L99.1,411.0 L100.5,409.1 L101.8,408.0 L103.5,406.8 L104.8,406.3 L106.8,406.0 L108.2,406.0 L109.8,406.5 L111.0,407.5 L113.6,411.5 L114.2,413.5 L114.1,416.5 L113.0,419.2 L112.5,421.0 L111.6,422.2 L109.8,423.8 L107.8,425.1 L106.2,425.8 L104.5,426.3Z"/>
<path d="M103.5,427.0 L101.8,426.9 L100.5,426.3 L98.2,423.8 L97.2,422.2 L96.7,420.8 L96.5,419.2 L97.2,413.5 L97.9,412.0 L100.2,408.6 L101.2,407.5 L103.0,406.3 L104.5,405.7 L106.5,405.2 L108.5,405.2 L110.8,405.6 L111.8,406.5 L112.8,408.8 L114.4,411.8 L114.7,414.5 L114.6,416.2 L114.4,417.5 L112.7,421.8 L110.5,424.0 L106.8,426.2 L103.5,427.0Z"/>
<path d="M103.2,427.5 L101.5,427.4 L100.0,426.6 L98.0,424.4 L96.7,422.2 L96.2,420.8 L96.1,419.2 L96.7,413.2 L99.9,408.0 L101.8,406.3 L104.8,404.9 L106.2,404.6 L109.5,404.3 L111.5,403.2 L112.0,403.1 L112.5,403.5 L113.2,404.8 L113.3,408.0 L114.8,410.7 L115.1,411.8 L115.1,416.0 L114.7,418.0 L113.1,422.0 L110.5,424.8 L106.5,426.9 L103.2,427.5Z"/>
<path d="M103.2,428.0 L101.2,427.8 L99.8,427.1 L98.0,425.2 L96.4,422.8 L95.8,421.2 L95.6,419.5 L96.0,414.2 L96.2,413.0 L99.5,407.5 L100.8,406.1 L105.0,404.1 L108.9,403.5 L109.7,403.0 L111.0,401.4 L111.8,401.1 L112.5,401.2 L113.2,401.7 L113.8,402.4 L114.5,403.8 L114.9,405.0 L114.5,408.0 L115.5,410.5 L115.7,412.0 L115.5,416.8 L115.1,418.5 L113.7,422.0 L110.8,425.4 L106.8,427.3 L103.2,428.0Z"/>
<path d="M104.0,428.5 L101.5,428.4 L99.5,427.6 L97.6,425.8 L96.1,423.5 L95.4,421.8 L95.1,419.8 L95.4,414.2 L95.6,413.0 L98.8,407.2 L100.2,405.5 L104.8,403.3 L108.2,402.5 L108.8,402.0 L109.4,400.5 L110.2,399.8 L112.2,399.5 L113.5,399.6 L114.0,399.8 L114.4,400.5 L115.8,403.9 L116.1,405.2 L115.9,408.0 L116.3,410.2 L116.4,412.0 L116.1,417.0 L115.7,419.0 L114.2,422.2 L111.2,425.9 L107.0,427.9 L104.0,428.5Z"/>
<path d="M105.2,429.0 L102.8,429.2 L99.8,428.4 L98.1,427.2 L96.0,424.8 L95.2,423.0 L94.5,420.0 L94.7,414.5 L94.9,413.0 L97.7,407.5 L98.9,405.8 L99.8,404.8 L106.2,401.4 L107.8,399.8 L109.2,398.8 L110.5,398.4 L112.2,398.0 L113.5,397.9 L114.5,398.1 L115.5,398.6 L116.0,399.3 L116.2,402.0 L117.2,405.8 L117.2,412.8 L116.8,417.2 L116.4,419.5 L114.8,422.5 L112.0,426.3 L111.0,426.9 L107.2,428.6 L105.2,429.0Z"/>
<path d="M105.5,430.0 L103.0,430.2 L99.5,429.2 L97.7,428.0 L95.4,425.5 L94.4,423.5 L93.8,420.2 L93.7,414.8 L93.9,413.2 L96.3,407.8 L98.5,404.8 L99.2,404.0 L101.8,402.6 L106.1,399.2 L109.8,397.1 L111.0,396.7 L112.5,396.5 L114.0,396.5 L115.2,396.8 L116.8,397.5 L117.7,398.5 L117.8,399.2 L117.5,402.2 L118.6,406.8 L118.7,408.5 L118.2,411.2 L118.2,415.5 L117.6,419.8 L116.7,421.5 L112.7,427.0 L111.8,427.6 L109.8,428.4 L107.8,429.5 L105.5,430.0Z"/>
<path d="M104.5,431.5 L102.2,431.4 L98.2,429.9 L96.2,428.5 L94.7,426.5 L93.5,424.5 L93.1,423.2 L92.7,419.8 L92.7,417.2 L92.3,415.0 L92.6,413.2 L94.1,410.0 L94.8,407.5 L95.3,406.5 L98.2,403.1 L101.2,400.7 L105.9,397.8 L108.2,395.9 L109.2,395.4 L110.5,395.1 L113.5,394.9 L114.8,394.9 L116.2,395.3 L117.8,396.0 L118.8,396.7 L119.5,397.8 L119.8,399.0 L119.4,402.5 L120.1,405.5 L120.2,408.0 L119.5,411.2 L119.6,415.8 L118.8,420.2 L118.2,421.5 L115.4,425.8 L113.2,428.1 L108.5,430.8 L104.5,431.5Z"/>
<path d="M106.0,433.3 L102.5,433.5 L98.8,432.7 L96.8,431.7 L94.6,429.8 L91.9,425.5 L91.1,423.8 L90.7,420.2 L90.8,417.6 L90.5,414.8 L90.6,413.5 L92.0,409.7 L93.0,406.0 L93.6,404.8 L96.3,401.8 L99.1,399.2 L101.0,397.2 L102.0,396.5 L104.5,395.6 L107.0,393.8 L108.8,392.9 L112.5,392.1 L114.2,392.2 L117.8,393.1 L119.5,394.2 L120.6,395.8 L121.9,399.2 L122.8,403.5 L122.8,407.8 L122.2,410.8 L121.8,415.8 L121.0,420.5 L120.2,422.5 L118.4,424.8 L117.1,426.8 L114.2,429.7 L110.0,432.3 L108.2,432.9 L106.0,433.3Z"/>
</g>
<g fill="none" stroke="#222" stroke-width="0.55" stroke-opacity="1.0">
<path d="M256.2,387.8 L255.4,387.8 L255.0,387.3 L254.9,386.8 L255.4,385.8 L256.2,385.5 L256.8,385.8 L257.0,386.5 L256.8,387.2 L256.2,387.8Z"/>
<path d="M256.2,388.3 L255.5,388.3 L255.0,388.1 L254.6,387.5 L254.4,386.8 L254.6,386.0 L255.0,385.4 L255.5,385.0 L256.2,384.8 L257.2,385.2 L257.5,386.2 L257.1,387.5 L256.2,388.3Z"/>
<path d="M256.5,388.5 L255.8,388.7 L255.0,388.5 L254.4,388.0 L254.0,387.2 L254.1,386.2 L254.5,385.3 L255.0,384.7 L255.8,384.4 L257.0,384.5 L257.5,384.9 L257.8,385.5 L257.8,386.2 L257.6,387.2 L257.2,388.0 L256.5,388.5Z"/>
<path d="M256.0,389.0 L255.2,389.0 L254.5,388.6 L253.8,387.8 L253.6,387.0 L253.8,386.0 L254.5,384.6 L255.0,384.1 L255.8,383.9 L256.8,384.1 L257.5,384.5 L257.9,385.0 L258.1,385.8 L257.9,387.0 L257.5,388.0 L256.8,388.7 L256.0,389.0Z"/>
<path d="M256.0,389.3 L255.2,389.3 L254.5,388.9 L253.4,387.8 L253.1,387.0 L253.4,386.0 L254.2,384.2 L254.8,383.8 L255.5,383.5 L256.5,383.6 L257.5,384.1 L258.0,384.6 L258.3,385.5 L258.2,386.8 L257.8,388.0 L257.0,388.8 L256.0,389.3Z"/>
<path d="M256.2,389.5 L255.2,389.6 L254.5,389.3 L253.1,388.0 L252.7,387.2 L252.8,386.5 L254.0,384.0 L254.5,383.5 L255.2,383.2 L256.5,383.3 L257.5,383.8 L258.2,384.5 L258.5,385.2 L258.4,386.8 L258.0,388.0 L257.2,388.9 L256.2,389.5Z"/>
<path d="M256.2,389.8 L255.2,389.9 L254.5,389.7 L252.6,388.0 L252.2,387.2 L252.4,386.5 L253.9,383.8 L254.5,383.2 L255.2,382.9 L256.2,383.0 L257.5,383.5 L258.3,384.2 L258.7,385.2 L258.6,386.8 L258.2,388.0 L257.4,389.0 L256.2,389.8Z"/>
<path d="M255.2,390.3 L254.2,389.9 L252.3,388.2 L251.7,387.2 L252.0,386.5 L253.8,383.5 L254.8,382.8 L255.8,382.7 L257.2,383.1 L258.2,383.9 L258.8,385.0 L258.9,386.2 L258.5,387.8 L257.8,389.0 L256.5,389.9 L255.2,390.3Z"/>
<path d="M255.5,390.5 L254.8,390.5 L254.0,390.1 L251.8,388.2 L251.4,387.2 L251.6,386.5 L253.7,383.2 L254.5,382.6 L255.5,382.4 L256.8,382.6 L258.0,383.4 L258.8,384.5 L259.0,385.8 L258.8,387.5 L258.2,388.8 L257.0,389.9 L255.5,390.5Z"/>
<path d="M255.8,390.8 L254.8,390.9 L254.0,390.5 L251.5,388.3 L251.0,387.2 L251.4,386.2 L253.5,383.1 L254.3,382.5 L255.5,382.2 L257.0,382.5 L258.2,383.2 L259.0,384.5 L259.2,385.8 L259.0,387.5 L258.5,388.8 L257.2,390.0 L255.8,390.8Z"/>
<path d="M256.0,391.0 L254.8,391.2 L253.8,390.8 L251.2,388.5 L250.7,387.2 L251.1,386.2 L253.3,383.0 L254.2,382.3 L255.5,382.0 L257.0,382.2 L258.2,383.0 L259.1,384.2 L259.4,385.5 L259.2,387.3 L258.7,388.8 L257.6,390.0 L256.0,391.0Z"/>
<path d="M255.2,391.5 L254.5,391.5 L253.8,391.2 L251.4,389.0 L250.6,388.0 L250.5,387.0 L250.9,386.0 L253.3,382.8 L254.5,382.0 L256.0,381.8 L257.5,382.2 L258.8,383.3 L259.5,384.8 L259.6,386.5 L259.2,388.2 L258.4,389.5 L256.8,390.9 L255.2,391.5Z"/>
<path d="M255.5,391.8 L254.2,391.8 L253.2,391.2 L250.8,388.7 L250.3,387.8 L250.2,387.0 L250.7,385.8 L253.2,382.5 L254.5,381.7 L256.0,381.5 L257.5,381.9 L258.8,383.0 L259.6,384.5 L259.8,386.5 L259.5,388.2 L258.7,389.5 L257.2,390.9 L255.5,391.8Z"/>
<path d="M255.5,392.0 L254.2,392.1 L253.0,391.4 L250.5,388.8 L250.1,388.0 L249.9,387.0 L250.4,385.8 L253.0,382.5 L254.2,381.6 L256.0,381.3 L257.8,381.8 L259.0,382.9 L259.8,384.5 L260.0,386.5 L259.7,388.2 L258.9,389.8 L257.2,391.2 L255.5,392.0Z"/>
<path d="M255.5,392.3 L254.0,392.3 L252.8,391.5 L250.2,388.8 L249.8,388.0 L249.7,387.0 L250.2,385.5 L252.9,382.2 L254.5,381.3 L256.2,381.1 L258.0,381.7 L259.4,383.0 L260.1,384.8 L260.2,387.0 L259.8,388.8 L258.8,390.2 L257.0,391.7 L255.5,392.3Z"/>
<path d="M255.5,392.6 L254.0,392.6 L252.6,391.8 L250.0,388.9 L249.6,388.0 L249.4,387.0 L249.9,385.5 L252.8,382.1 L254.2,381.2 L256.2,380.9 L258.2,381.5 L259.5,382.8 L260.3,384.8 L260.5,387.0 L260.1,388.8 L259.0,390.4 L257.2,391.8 L255.5,392.6Z"/>
<path d="M255.5,392.8 L253.8,392.8 L252.4,392.0 L249.8,389.0 L249.3,388.0 L249.2,386.8 L249.8,385.2 L252.5,382.0 L254.2,381.0 L256.2,380.7 L258.2,381.2 L259.6,382.5 L260.6,384.8 L260.7,387.2 L260.4,388.8 L259.2,390.5 L257.4,392.0 L255.5,392.8Z"/>
<path d="M255.5,393.0 L253.8,393.0 L252.2,392.2 L249.5,389.0 L249.0,388.0 L248.9,386.8 L249.0,386.0 L249.6,385.0 L252.5,381.8 L254.2,380.8 L256.5,380.5 L258.5,381.1 L259.4,381.8 L259.9,382.5 L260.9,384.8 L261.1,387.2 L260.6,389.0 L259.4,390.8 L257.5,392.2 L255.5,393.0Z"/>
<path d="M255.5,393.3 L253.5,393.2 L252.0,392.4 L249.2,389.0 L248.7,387.8 L248.6,386.5 L248.8,385.8 L249.4,384.8 L252.2,381.6 L254.2,380.5 L256.5,380.2 L257.8,380.5 L258.8,380.9 L260.2,382.2 L261.2,384.8 L261.4,387.5 L260.9,389.2 L259.5,391.1 L257.5,392.5 L255.5,393.3Z"/>
<path d="M255.5,393.5 L254.2,393.6 L253.2,393.4 L251.7,392.5 L248.9,389.0 L248.4,387.8 L248.3,386.5 L248.5,385.8 L249.0,384.8 L250.9,382.5 L252.2,381.3 L254.2,380.3 L255.5,380.0 L256.8,380.0 L258.0,380.3 L259.0,380.8 L259.8,381.3 L260.5,382.2 L261.6,384.8 L261.8,387.5 L261.3,389.2 L259.8,391.3 L257.6,392.8 L255.5,393.5Z"/>
<path d="M255.5,393.8 L253.2,393.8 L252.2,393.4 L251.4,392.8 L248.6,389.2 L248.1,388.0 L247.9,386.5 L248.2,385.5 L248.6,384.8 L250.5,382.5 L251.9,381.2 L254.0,380.1 L255.5,379.8 L256.8,379.7 L258.0,380.0 L259.1,380.5 L260.0,381.1 L260.8,382.0 L261.5,383.2 L262.0,384.8 L262.2,387.5 L261.5,389.5 L260.0,391.5 L257.8,393.0 L255.5,393.8Z"/>
<path d="M255.5,394.0 L253.2,394.1 L252.2,393.7 L251.2,393.0 L248.3,389.2 L247.7,387.8 L247.6,386.2 L247.9,385.2 L248.4,384.5 L250.5,382.1 L251.8,381.0 L254.0,379.8 L255.5,379.5 L256.8,379.5 L258.0,379.7 L259.2,380.2 L260.2,380.9 L261.0,381.8 L261.8,383.0 L262.3,384.5 L262.6,386.0 L262.6,387.5 L261.9,389.5 L260.3,391.8 L257.8,393.3 L255.5,394.0Z"/>
<path d="M255.8,394.3 L254.2,394.5 L253.0,394.3 L251.8,393.9 L250.9,393.2 L247.9,389.5 L247.4,388.0 L247.3,386.2 L247.5,385.2 L247.9,384.5 L251.2,381.0 L252.5,380.1 L253.8,379.6 L256.5,379.2 L257.8,379.3 L259.2,379.9 L260.3,380.5 L261.3,381.5 L262.1,382.8 L262.6,384.0 L262.9,385.5 L263.0,387.2 L262.9,388.2 L262.4,389.5 L260.8,391.8 L258.2,393.4 L255.8,394.3Z"/>
<path d="M254.5,394.8 L253.2,394.7 L252.0,394.4 L250.8,393.8 L250.0,393.0 L247.4,389.5 L246.9,387.5 L246.9,385.8 L247.2,384.8 L247.8,384.0 L250.2,381.4 L251.5,380.4 L252.8,379.6 L254.2,379.1 L255.8,378.8 L257.2,378.9 L258.8,379.3 L260.0,379.9 L261.2,380.8 L262.1,381.8 L262.7,383.0 L263.2,384.5 L263.4,386.5 L263.3,388.0 L262.9,389.2 L262.3,390.5 L260.5,392.5 L257.5,394.2 L254.5,394.8Z"/>
<path d="M255.2,395.0 L253.8,395.1 L252.2,394.9 L250.8,394.2 L249.9,393.5 L247.0,389.8 L246.6,387.8 L246.5,385.8 L246.8,384.8 L247.2,384.0 L250.0,381.1 L251.2,380.1 L253.8,378.9 L255.5,378.5 L257.0,378.5 L258.5,378.9 L260.2,379.6 L261.5,380.5 L262.4,381.5 L263.0,382.5 L263.4,383.8 L263.8,387.5 L263.6,388.8 L262.9,390.2 L262.0,391.5 L261.1,392.5 L258.0,394.4 L255.2,395.0Z"/>
<path d="M254.2,395.5 L252.2,395.3 L250.2,394.5 L249.4,393.8 L247.0,390.8 L246.5,390.0 L246.2,389.0 L246.0,386.5 L246.1,385.2 L246.4,384.2 L247.0,383.5 L250.0,380.5 L251.2,379.5 L252.8,378.8 L254.5,378.3 L256.0,378.1 L257.5,378.2 L259.2,378.7 L261.0,379.5 L262.0,380.3 L263.1,381.5 L263.6,382.5 L263.9,383.5 L264.3,386.5 L264.3,388.0 L263.9,389.2 L263.0,391.0 L262.0,392.2 L261.0,393.1 L259.0,394.4 L257.8,395.0 L254.2,395.5Z"/>
<path d="M256.5,395.8 L254.0,395.9 L252.8,395.9 L250.8,395.3 L249.3,394.5 L246.1,390.5 L245.7,389.2 L245.5,386.5 L245.7,384.8 L246.2,383.5 L250.0,379.8 L252.5,378.4 L254.5,377.8 L256.0,377.6 L258.0,377.9 L260.2,378.6 L261.8,379.4 L263.0,380.5 L263.8,381.5 L264.2,382.5 L264.8,387.2 L264.7,388.5 L264.2,389.8 L263.4,391.2 L262.4,392.5 L261.0,393.7 L259.0,395.0 L257.8,395.5 L256.5,395.8Z"/>
<path d="M257.0,396.3 L253.0,396.4 L251.0,396.0 L249.5,395.3 L248.5,394.5 L245.8,391.2 L245.3,390.5 L245.1,389.2 L245.1,384.8 L245.3,383.8 L246.0,382.7 L249.3,379.5 L250.2,378.8 L252.8,377.7 L255.5,377.1 L257.5,377.2 L260.0,377.9 L261.8,378.6 L263.0,379.6 L264.2,381.0 L264.8,382.2 L265.4,387.0 L265.4,388.2 L265.1,389.2 L264.1,391.2 L263.2,392.4 L262.0,393.5 L259.2,395.5 L258.2,396.0 L257.0,396.3Z"/>
<path d="M256.2,397.0 L252.2,396.9 L250.0,396.3 L248.8,395.7 L248.0,395.0 L245.1,391.5 L244.6,390.2 L244.4,388.8 L244.5,384.0 L244.9,383.0 L245.8,381.8 L249.5,378.3 L252.5,377.1 L255.5,376.4 L258.0,376.7 L260.5,377.3 L262.2,378.1 L263.5,379.1 L264.9,380.8 L265.4,381.8 L266.1,387.2 L266.1,388.5 L265.6,390.0 L264.6,391.8 L263.6,393.0 L259.0,396.4 L257.8,396.8 L256.2,397.0Z"/>
<path d="M257.0,397.8 L252.0,397.6 L250.0,397.2 L248.5,396.5 L247.3,395.5 L244.5,392.2 L243.9,391.0 L243.6,389.0 L243.8,383.5 L244.2,382.5 L245.3,381.0 L247.8,378.4 L248.8,377.6 L252.5,376.2 L255.2,375.5 L258.8,376.0 L260.5,376.4 L262.5,377.3 L264.1,378.5 L265.6,380.2 L266.3,381.5 L266.6,382.8 L267.0,387.0 L267.0,388.5 L266.6,390.0 L265.8,391.5 L264.6,393.0 L260.0,396.7 L258.5,397.4 L257.0,397.8Z"/>
<path d="M257.5,398.8 L255.2,398.9 L251.2,398.7 L249.5,398.3 L248.2,397.6 L246.8,396.5 L243.7,393.2 L243.1,391.8 L242.6,389.0 L242.7,383.0 L243.3,381.8 L245.0,379.6 L247.0,377.5 L248.0,376.8 L252.8,374.8 L254.8,374.3 L256.2,374.3 L259.8,374.9 L261.8,375.7 L263.8,376.8 L265.4,378.2 L266.7,379.8 L267.6,381.8 L268.1,383.5 L268.1,388.5 L267.6,390.5 L266.8,392.0 L265.0,394.0 L261.7,396.8 L259.2,398.2 L257.5,398.8Z"/>
<path d="M254.5,400.5 L251.8,400.5 L250.0,400.2 L248.5,399.6 L246.5,398.4 L242.2,394.5 L241.6,393.2 L240.8,388.0 L241.0,383.2 L241.6,381.8 L243.7,378.8 L245.8,376.5 L247.5,375.1 L251.8,373.3 L253.8,372.7 L255.5,372.5 L259.0,372.6 L260.5,373.0 L263.2,374.4 L266.2,376.6 L267.5,378.0 L269.9,383.0 L269.9,388.5 L269.0,391.0 L268.0,392.8 L265.8,395.1 L262.8,397.9 L260.0,399.5 L258.8,400.1 L254.5,400.5Z"/>
</g>
<g fill="none" stroke="#222" stroke-width="0.5" stroke-opacity="1.0">
<path d="M102.8,568.0 L101.8,567.6 L101.4,566.8 L101.5,566.2 L102.0,565.6 L103.0,565.2 L103.9,565.8 L104.1,566.8 L103.5,567.8 L102.8,568.0Z"/>
<path d="M103.2,568.5 L102.5,568.5 L101.7,568.2 L101.2,567.8 L100.9,567.0 L101.0,566.2 L101.4,565.5 L102.0,564.9 L102.8,564.5 L104.0,564.8 L104.5,565.2 L104.8,566.0 L104.8,566.8 L104.5,567.5 L104.0,568.1 L103.2,568.5Z"/>
<path d="M103.8,568.8 L102.8,569.0 L101.8,568.7 L100.8,568.0 L100.5,567.2 L100.5,566.5 L100.8,565.5 L101.7,564.5 L102.5,564.1 L103.2,564.0 L104.4,564.2 L105.2,564.8 L105.5,565.2 L105.5,566.2 L105.1,567.2 L104.5,568.2 L103.8,568.8Z"/>
<path d="M103.2,569.3 L102.0,569.1 L101.0,568.6 L100.3,567.8 L100.1,566.8 L100.4,565.5 L101.2,564.5 L102.0,563.8 L103.0,563.5 L105.5,564.0 L106.0,564.4 L106.2,565.0 L106.1,566.2 L105.3,567.8 L104.2,568.9 L103.2,569.3Z"/>
<path d="M103.8,569.5 L102.5,569.5 L101.0,568.9 L100.1,568.0 L99.8,567.0 L99.9,565.8 L100.5,564.7 L101.5,563.7 L102.8,563.2 L105.8,563.5 L106.3,563.8 L106.8,564.5 L106.7,566.0 L106.2,567.2 L105.0,568.8 L103.8,569.5Z"/>
<path d="M104.0,569.8 L102.8,569.9 L101.0,569.2 L100.1,568.5 L99.5,567.2 L99.5,566.0 L100.0,564.8 L101.2,563.4 L102.5,562.8 L103.8,562.7 L106.0,563.0 L106.8,563.5 L107.1,564.2 L107.2,566.0 L106.7,567.2 L105.3,569.0 L104.0,569.8Z"/>
<path d="M104.2,570.1 L102.8,570.2 L101.0,569.5 L99.8,568.5 L99.2,567.2 L99.1,566.0 L99.6,564.8 L100.9,563.2 L102.2,562.5 L103.8,562.4 L106.0,562.6 L107.0,563.2 L107.4,564.0 L107.5,566.0 L107.1,567.5 L105.5,569.2 L104.2,570.1Z"/>
<path d="M103.8,570.5 L102.8,570.5 L101.8,570.2 L100.5,569.6 L99.8,569.0 L99.2,568.0 L98.8,567.0 L98.7,566.0 L98.9,565.2 L99.2,564.5 L100.0,563.5 L101.8,562.3 L103.5,561.9 L106.2,562.3 L107.2,562.9 L107.7,563.8 L107.9,565.5 L107.8,567.2 L107.2,568.2 L105.9,569.5 L104.8,570.2 L103.8,570.5Z"/>
<path d="M104.2,570.8 L102.5,570.8 L100.0,569.6 L98.9,568.2 L98.3,566.5 L98.5,565.0 L99.3,563.8 L101.0,562.2 L102.8,561.6 L104.8,561.6 L106.8,562.0 L107.6,562.8 L108.1,564.0 L108.2,566.8 L107.9,568.0 L107.4,568.8 L106.0,569.9 L104.2,570.8Z"/>
<path d="M104.5,571.0 L103.5,571.2 L102.5,571.1 L100.0,570.0 L98.9,568.8 L98.0,566.5 L98.1,565.0 L99.0,563.5 L100.8,561.9 L102.8,561.2 L104.8,561.2 L107.0,561.7 L107.9,562.5 L108.4,563.8 L108.6,567.0 L108.2,568.3 L107.8,569.0 L106.5,570.1 L104.5,571.0Z"/>
<path d="M103.8,571.5 L102.0,571.3 L99.2,569.8 L98.0,567.8 L97.6,566.0 L98.0,564.2 L99.8,562.3 L101.5,561.1 L103.5,560.6 L106.5,561.1 L107.2,561.4 L108.0,562.0 L108.6,563.5 L108.9,567.0 L108.6,568.5 L107.5,569.9 L106.0,570.9 L103.8,571.5Z"/>
<path d="M104.2,571.8 L102.2,571.8 L99.2,570.2 L98.1,568.8 L97.4,567.2 L97.2,566.2 L97.3,565.2 L97.6,564.2 L99.2,562.2 L101.0,560.9 L102.2,560.4 L103.5,560.1 L106.5,560.6 L107.4,561.0 L108.0,561.5 L108.6,562.2 L108.9,563.2 L109.3,566.8 L109.0,568.5 L108.0,570.0 L106.5,571.1 L104.2,571.8Z"/>
<path d="M103.2,572.3 L101.8,572.1 L98.6,570.2 L97.1,567.5 L96.8,565.8 L97.0,564.8 L97.6,563.5 L99.5,561.5 L101.5,560.2 L102.8,559.7 L103.8,559.6 L107.0,560.3 L107.8,560.6 L108.5,561.4 L109.0,562.3 L109.3,563.5 L109.6,567.5 L109.1,569.2 L107.6,571.0 L106.2,571.6 L103.2,572.3Z"/>
<path d="M104.0,572.5 L102.8,572.7 L101.8,572.6 L98.5,570.8 L97.9,570.0 L96.8,567.8 L96.4,566.0 L96.5,565.0 L97.1,563.8 L98.8,561.6 L100.8,560.1 L102.8,559.1 L103.8,558.9 L107.2,559.8 L108.6,560.8 L109.2,561.8 L109.6,563.0 L110.0,567.0 L110.0,568.0 L109.6,569.0 L108.9,570.2 L108.0,571.2 L106.8,571.9 L104.0,572.5Z"/>
<path d="M103.5,573.0 L102.5,573.2 L101.5,573.0 L98.0,570.9 L97.5,570.2 L96.3,567.5 L95.9,566.0 L96.1,565.0 L96.7,563.8 L98.3,561.5 L100.5,559.8 L103.0,558.4 L104.0,558.1 L107.5,559.2 L108.2,559.7 L109.0,560.5 L109.6,561.8 L110.0,563.0 L110.5,567.2 L109.9,569.2 L108.2,571.6 L107.0,572.3 L103.5,573.0Z"/>
<path d="M103.0,573.5 L102.0,573.6 L101.2,573.4 L97.4,571.0 L95.7,567.2 L95.5,565.8 L95.7,564.8 L96.4,563.5 L97.9,561.2 L100.0,559.6 L103.0,557.7 L104.0,557.4 L107.8,558.7 L109.2,560.0 L109.9,561.2 L110.4,562.8 L111.0,567.2 L110.4,569.2 L109.3,571.0 L108.4,572.0 L107.2,572.6 L103.0,573.5Z"/>
<path d="M103.8,573.8 L102.2,574.0 L101.2,573.9 L97.2,571.5 L96.5,570.5 L95.2,567.2 L94.9,566.0 L95.3,564.5 L97.4,561.0 L103.0,557.0 L104.0,556.7 L107.8,557.9 L108.8,558.6 L109.5,559.5 L110.2,560.8 L110.8,562.5 L111.6,567.2 L111.4,568.2 L110.9,569.2 L109.7,571.2 L108.8,572.3 L107.5,573.0 L103.8,573.8Z"/>
<path d="M103.5,574.3 L102.0,574.4 L101.0,574.2 L96.7,571.8 L96.0,570.8 L94.6,567.5 L94.3,565.8 L94.7,564.5 L96.8,560.7 L101.1,557.8 L102.8,556.3 L103.8,556.1 L108.0,557.2 L109.0,558.0 L109.9,559.0 L110.7,560.2 L111.2,561.8 L112.3,567.2 L112.2,568.2 L111.7,569.2 L109.8,572.0 L109.0,572.8 L107.5,573.5 L103.5,574.3Z"/>
<path d="M103.2,574.8 L101.8,574.9 L100.5,574.6 L96.2,572.1 L95.4,571.0 L94.2,568.0 L93.7,565.8 L93.9,564.5 L96.1,560.2 L100.4,557.5 L102.3,555.8 L103.5,555.4 L108.2,556.5 L109.2,557.3 L110.6,558.8 L111.4,560.0 L111.9,561.5 L113.1,567.5 L112.9,568.5 L112.4,569.5 L110.1,572.5 L109.2,573.3 L107.8,573.9 L103.2,574.8Z"/>
<path d="M103.2,575.3 L101.5,575.3 L100.2,575.0 L95.8,572.4 L94.9,571.2 L93.5,568.2 L93.1,566.8 L93.0,565.5 L93.2,564.1 L95.4,559.8 L99.5,557.2 L101.8,555.0 L103.0,554.6 L108.5,555.7 L109.5,556.4 L111.2,558.2 L112.1,559.5 L112.9,561.5 L113.9,567.2 L113.8,568.5 L113.2,569.8 L109.8,573.7 L108.8,574.2 L107.5,574.6 L103.2,575.3Z"/>
<path d="M104.2,575.8 L101.8,575.9 L100.0,575.5 L98.5,574.9 L95.5,573.1 L94.4,571.8 L93.1,569.2 L92.5,567.8 L92.2,565.8 L92.4,563.8 L94.5,559.2 L95.2,558.6 L98.0,557.2 L99.2,556.2 L101.0,554.2 L102.2,553.7 L103.5,553.7 L108.2,554.6 L109.5,555.2 L110.6,556.2 L112.8,558.8 L114.1,561.2 L114.4,562.5 L114.4,564.8 L114.9,567.0 L114.7,568.5 L113.9,570.2 L110.5,573.9 L109.2,574.7 L107.8,575.2 L106.0,575.6 L104.2,575.8Z"/>
<path d="M105.8,576.5 L101.8,576.5 L100.2,576.3 L98.2,575.6 L96.0,574.4 L94.5,573.1 L93.1,571.2 L91.9,569.0 L91.3,566.8 L91.2,565.0 L91.4,563.2 L92.4,560.8 L93.7,558.0 L94.5,557.3 L97.1,556.2 L100.3,553.2 L101.8,552.6 L103.0,552.6 L106.8,553.2 L109.0,553.8 L110.8,554.7 L111.9,555.8 L114.2,558.5 L115.0,560.2 L115.5,561.8 L115.6,564.5 L116.1,567.5 L115.9,568.5 L114.7,570.8 L112.0,573.8 L111.0,574.6 L108.0,575.9 L105.8,576.5Z"/>
<path d="M106.2,577.5 L100.8,577.4 L98.0,576.7 L96.2,575.9 L94.2,574.3 L92.6,572.5 L90.9,569.8 L90.1,567.8 L90.0,564.8 L90.3,561.8 L90.9,560.2 L92.4,557.2 L93.2,556.3 L94.2,555.5 L100.0,551.8 L101.5,551.3 L106.8,551.4 L111.8,553.4 L112.9,554.2 L114.0,555.5 L116.2,558.5 L116.8,560.0 L117.1,564.5 L117.7,567.8 L117.4,568.8 L115.8,571.5 L114.9,572.5 L111.9,575.2 L107.8,577.1 L106.2,577.5Z"/>
<path d="M105.8,579.3 L99.8,579.2 L94.5,577.0 L92.6,575.5 L91.2,574.0 L88.6,569.5 L88.1,568.0 L87.8,562.0 L88.5,559.8 L89.6,557.8 L93.8,552.5 L94.5,551.9 L98.2,550.2 L102.0,549.2 L107.0,549.1 L108.5,549.3 L111.2,550.5 L114.0,552.6 L118.0,557.3 L118.7,558.5 L119.1,559.8 L119.4,562.5 L120.1,565.5 L120.0,567.5 L119.6,569.0 L116.8,573.5 L116.1,574.2 L113.5,576.6 L112.5,577.3 L108.0,578.8 L105.8,579.3Z"/>
</g>
<g fill="none" stroke="#222" stroke-width="0.55" stroke-opacity="1.0">
<path d="M255.2,525.5 L254.5,525.5 L254.1,524.8 L254.3,524.0 L255.0,523.5 L255.7,523.8 L256.0,524.2 L255.9,525.0 L255.2,525.5Z"/>
<path d="M255.2,526.1 L254.8,526.1 L254.2,525.9 L253.8,524.8 L254.0,523.8 L254.5,523.3 L255.0,523.1 L256.0,523.5 L256.5,524.5 L256.1,525.5 L255.2,526.1Z"/>
<path d="M255.0,526.5 L254.5,526.5 L253.9,526.0 L253.5,525.2 L253.5,524.6 L253.7,523.8 L254.1,523.2 L254.5,523.0 L255.2,522.9 L255.8,523.0 L256.4,523.5 L256.8,524.0 L256.9,524.8 L256.2,525.8 L255.0,526.5Z"/>
<path d="M255.2,526.8 L254.5,526.9 L254.0,526.6 L253.5,526.0 L253.2,525.0 L253.4,524.0 L253.8,523.3 L254.2,522.8 L255.0,522.6 L255.8,522.7 L256.5,523.2 L257.0,523.8 L257.3,524.5 L257.1,525.2 L256.8,525.8 L255.2,526.8Z"/>
<path d="M254.8,527.3 L254.0,527.0 L253.5,526.5 L253.1,525.5 L253.0,524.5 L253.4,523.5 L254.0,522.8 L254.8,522.4 L255.5,522.4 L256.3,522.8 L257.1,523.5 L257.5,524.2 L257.6,525.0 L257.2,525.8 L256.5,526.4 L255.5,527.1 L254.8,527.3Z"/>
<path d="M255.0,527.5 L254.2,527.5 L253.5,526.9 L252.9,525.8 L252.8,524.8 L253.0,523.8 L253.7,522.8 L254.5,522.3 L255.2,522.2 L256.2,522.5 L257.0,523.0 L257.7,524.0 L257.9,524.8 L257.7,525.5 L257.1,526.2 L256.0,527.1 L255.0,527.5Z"/>
<path d="M255.2,527.8 L254.5,527.9 L253.8,527.5 L253.0,526.5 L252.6,525.2 L252.7,524.2 L253.3,523.0 L254.0,522.3 L255.0,522.0 L256.0,522.1 L257.0,522.8 L257.9,523.8 L258.2,524.8 L258.0,525.5 L257.5,526.2 L255.2,527.8Z"/>
<path d="M255.2,528.1 L254.2,528.1 L253.5,527.6 L252.6,526.2 L252.3,525.0 L252.6,523.8 L253.2,522.7 L254.2,522.0 L255.2,521.8 L256.2,522.0 L257.3,522.8 L258.1,523.8 L258.4,524.8 L258.2,525.7 L257.8,526.4 L255.2,528.1Z"/>
<path d="M255.2,528.3 L254.2,528.3 L253.2,527.7 L252.4,526.2 L252.1,525.0 L252.4,523.8 L253.2,522.5 L254.2,521.8 L255.2,521.6 L256.5,522.0 L257.6,522.8 L258.5,524.0 L258.7,525.0 L258.5,525.8 L258.0,526.5 L256.5,527.7 L255.2,528.3Z"/>
<path d="M255.2,528.6 L254.2,528.6 L253.2,528.0 L252.2,526.5 L251.9,525.2 L252.1,524.0 L253.0,522.5 L254.0,521.8 L255.2,521.5 L256.5,521.8 L257.8,522.7 L258.6,523.8 L258.9,525.0 L258.7,526.0 L258.1,526.8 L256.4,528.0 L255.2,528.6Z"/>
<path d="M255.5,528.8 L254.2,528.9 L253.2,528.3 L252.1,526.8 L251.7,525.2 L252.0,523.8 L253.0,522.3 L254.0,521.6 L255.2,521.3 L256.5,521.5 L257.8,522.4 L258.8,523.6 L259.2,524.8 L259.0,525.8 L258.5,526.8 L257.3,527.8 L255.5,528.8Z"/>
<path d="M255.2,529.1 L254.0,529.0 L252.9,528.2 L251.8,526.5 L251.5,525.0 L252.0,523.5 L253.0,522.0 L254.2,521.3 L255.5,521.1 L256.8,521.5 L258.1,522.5 L259.1,523.8 L259.4,525.0 L259.2,526.0 L258.5,527.1 L256.5,528.5 L255.2,529.1Z"/>
<path d="M255.2,529.3 L254.0,529.3 L252.8,528.4 L251.5,526.5 L251.2,525.0 L251.7,523.5 L252.8,522.0 L254.0,521.2 L255.5,520.9 L256.8,521.2 L258.2,522.3 L259.3,523.8 L259.6,525.0 L259.3,526.2 L258.6,527.2 L256.8,528.6 L255.2,529.3Z"/>
<path d="M255.2,529.5 L254.0,529.5 L252.8,528.7 L251.4,526.8 L251.0,525.0 L251.5,523.5 L252.8,521.8 L254.0,521.0 L255.5,520.7 L257.0,521.1 L258.5,522.2 L259.5,523.6 L259.8,525.0 L259.5,526.4 L258.8,527.5 L256.8,528.9 L255.2,529.5Z"/>
<path d="M255.2,529.8 L253.8,529.6 L252.5,528.8 L251.1,526.8 L250.7,525.0 L251.2,523.5 L252.5,521.8 L253.8,520.9 L255.5,520.5 L257.0,520.9 L258.5,522.0 L259.7,523.5 L260.0,525.0 L259.7,526.5 L259.0,527.6 L257.0,529.0 L255.2,529.8Z"/>
<path d="M255.0,530.0 L253.5,529.8 L252.2,528.8 L250.9,526.8 L250.5,525.0 L250.9,523.5 L252.5,521.5 L254.0,520.6 L255.8,520.3 L257.5,520.9 L259.1,522.2 L260.0,523.7 L260.2,525.2 L259.8,526.8 L258.9,528.0 L256.6,529.5 L255.0,530.0Z"/>
<path d="M255.8,530.1 L254.0,530.2 L252.5,529.3 L250.8,527.2 L250.4,526.2 L250.2,525.2 L250.3,524.2 L250.7,523.5 L252.2,521.5 L253.8,520.5 L255.5,520.1 L257.2,520.5 L258.8,521.6 L260.0,523.1 L260.4,524.8 L260.2,526.5 L259.5,527.8 L257.8,529.1 L255.8,530.1Z"/>
<path d="M255.8,530.3 L254.0,530.4 L253.2,530.1 L252.4,529.5 L250.6,527.2 L250.1,526.2 L249.9,525.2 L250.1,524.2 L250.4,523.5 L252.0,521.4 L253.5,520.4 L255.5,519.9 L257.2,520.2 L259.0,521.5 L260.2,523.0 L260.6,524.8 L260.4,526.5 L259.6,528.0 L257.8,529.4 L255.8,530.3Z"/>
<path d="M255.8,530.5 L254.0,530.6 L253.0,530.2 L252.2,529.7 L250.2,527.2 L249.8,526.2 L249.7,525.2 L249.8,524.2 L250.0,523.5 L251.9,521.2 L253.5,520.1 L255.5,519.6 L257.4,520.0 L259.1,521.2 L260.5,523.0 L260.9,524.8 L260.6,526.8 L259.8,528.1 L258.0,529.5 L255.8,530.5Z"/>
<path d="M255.8,530.8 L254.8,530.9 L253.8,530.8 L252.0,529.8 L250.0,527.5 L249.6,526.5 L249.3,525.2 L249.7,523.5 L251.5,521.2 L253.5,519.9 L255.5,519.4 L257.5,519.8 L259.3,521.0 L260.7,522.8 L261.1,524.8 L260.9,526.8 L260.0,528.2 L258.1,529.8 L255.8,530.8Z"/>
<path d="M255.8,531.0 L254.8,531.1 L253.8,531.0 L252.8,530.6 L251.9,530.0 L249.7,527.5 L249.2,526.5 L249.0,525.2 L249.1,524.2 L249.5,523.2 L251.4,521.0 L253.5,519.6 L255.5,519.1 L256.8,519.2 L257.8,519.6 L259.7,521.0 L261.0,522.8 L261.3,524.8 L261.0,527.0 L260.1,528.5 L258.2,530.0 L255.8,531.0Z"/>
<path d="M255.8,531.3 L254.5,531.4 L253.5,531.2 L252.5,530.8 L251.5,530.1 L249.3,527.5 L248.8,526.5 L248.7,525.2 L248.8,524.2 L249.1,523.2 L251.0,521.0 L253.2,519.4 L254.2,519.0 L255.5,518.9 L257.8,519.3 L259.8,520.5 L261.1,522.2 L261.5,523.2 L261.6,524.5 L261.4,526.8 L260.5,528.5 L258.5,530.2 L255.8,531.3Z"/>
<path d="M255.8,531.5 L254.5,531.7 L253.5,531.5 L251.5,530.5 L249.0,527.8 L248.5,526.8 L248.3,525.5 L248.4,524.2 L248.8,523.2 L249.4,522.2 L250.6,521.0 L253.0,519.2 L254.2,518.7 L255.5,518.6 L257.8,518.9 L259.0,519.5 L260.0,520.3 L260.9,521.2 L261.5,522.2 L261.9,524.5 L261.6,527.0 L261.2,528.0 L260.5,528.9 L258.5,530.5 L255.8,531.5Z"/>
<path d="M256.0,531.8 L253.8,531.9 L252.8,531.6 L251.5,530.9 L248.8,528.2 L248.2,527.2 L247.9,526.0 L248.2,523.8 L248.6,522.8 L249.4,521.8 L252.2,519.2 L253.5,518.6 L254.8,518.3 L257.2,518.4 L259.5,519.4 L260.5,520.3 L261.5,521.5 L261.9,522.5 L262.1,523.5 L262.0,526.8 L261.2,528.5 L260.2,529.6 L259.2,530.4 L257.5,531.3 L256.0,531.8Z"/>
<path d="M255.0,532.3 L253.8,532.2 L252.5,531.8 L251.2,531.1 L250.0,530.1 L248.5,528.5 L247.9,527.5 L247.5,526.2 L247.6,525.0 L247.9,523.5 L248.7,522.0 L251.5,519.3 L252.8,518.5 L253.8,518.1 L256.5,518.0 L258.0,518.3 L259.2,518.8 L260.5,519.8 L261.6,521.0 L262.2,522.0 L262.4,523.0 L262.4,526.2 L262.2,527.2 L261.8,528.2 L260.0,530.3 L257.5,531.7 L255.0,532.3Z"/>
<path d="M255.8,532.5 L253.5,532.5 L252.0,532.0 L250.8,531.3 L247.9,528.5 L247.3,527.5 L247.1,526.5 L247.1,525.2 L247.4,523.8 L248.5,521.5 L249.7,520.2 L252.0,518.4 L253.0,517.8 L254.0,517.6 L257.2,517.7 L258.5,518.0 L259.8,518.6 L261.0,519.7 L262.1,521.0 L262.6,522.0 L262.9,523.2 L262.6,527.2 L262.2,528.2 L261.6,529.2 L260.5,530.4 L259.5,531.1 L257.5,532.0 L255.8,532.5Z"/>
<path d="M255.2,533.0 L253.0,532.9 L251.2,532.2 L250.2,531.6 L247.5,528.8 L246.9,527.8 L246.6,526.5 L246.6,525.2 L247.1,523.5 L247.7,522.0 L248.3,521.0 L252.0,517.8 L253.0,517.3 L254.0,517.2 L257.8,517.4 L260.0,518.3 L261.2,519.3 L262.4,520.8 L263.1,522.0 L263.3,523.2 L263.1,527.2 L262.6,528.5 L261.7,529.8 L260.5,530.9 L259.2,531.7 L257.0,532.6 L255.2,533.0Z"/>
<path d="M255.2,533.5 L254.0,533.6 L252.8,533.3 L250.8,532.6 L249.8,532.0 L247.0,529.0 L246.4,527.8 L246.1,526.5 L246.4,524.0 L247.1,522.0 L247.8,520.8 L251.5,517.4 L252.5,516.9 L253.5,516.7 L257.8,516.8 L259.0,517.1 L260.0,517.6 L261.2,518.6 L262.9,520.5 L263.6,521.8 L263.9,523.0 L263.6,527.5 L263.0,528.8 L262.2,530.0 L261.0,531.2 L259.8,532.0 L257.2,533.1 L255.2,533.5Z"/>
<path d="M256.0,534.0 L254.5,534.2 L253.2,534.2 L251.0,533.4 L249.6,532.8 L248.7,532.0 L246.8,529.6 L246.0,528.2 L245.6,527.0 L245.5,525.8 L245.8,524.2 L246.6,521.8 L247.2,520.4 L248.0,519.5 L250.8,517.0 L251.8,516.4 L252.8,516.1 L257.8,516.1 L259.0,516.4 L260.0,516.8 L261.2,517.7 L263.3,520.0 L264.1,521.2 L264.5,522.5 L264.6,524.0 L264.3,527.2 L263.7,528.8 L262.8,530.2 L261.8,531.4 L260.5,532.2 L258.0,533.4 L256.0,534.0Z"/>
<path d="M254.5,535.0 L253.2,535.0 L251.8,534.6 L249.2,533.5 L248.0,532.5 L246.2,530.1 L245.1,528.0 L244.8,526.2 L245.1,524.5 L245.9,521.5 L246.6,520.0 L247.5,518.9 L250.5,516.2 L251.5,515.7 L253.0,515.3 L256.8,515.2 L258.5,515.4 L260.0,515.9 L261.4,516.8 L263.8,519.5 L264.9,521.0 L265.4,522.8 L265.1,526.8 L264.7,528.2 L263.8,530.0 L263.1,531.0 L262.0,532.0 L260.8,532.8 L258.0,534.1 L254.5,535.0Z"/>
<path d="M254.8,536.0 L253.5,536.1 L252.2,535.9 L248.8,534.4 L247.5,533.5 L245.9,531.5 L244.4,528.8 L244.0,527.0 L244.0,525.2 L244.9,521.5 L245.7,519.5 L246.5,518.5 L249.5,515.8 L251.0,514.9 L252.2,514.5 L255.5,514.1 L257.8,514.2 L260.0,514.8 L262.3,516.0 L263.3,517.0 L265.8,520.2 L266.4,521.2 L266.6,522.2 L266.3,526.2 L265.9,527.8 L264.8,530.0 L264.0,531.2 L263.0,532.3 L260.2,534.2 L254.8,536.0Z"/>
<path d="M253.5,537.5 L251.5,537.2 L248.0,535.6 L246.8,534.7 L244.8,532.8 L243.1,529.8 L242.6,528.5 L242.4,526.5 L242.5,524.8 L243.7,520.8 L244.5,518.8 L245.6,517.5 L248.8,514.8 L250.5,513.7 L252.2,513.0 L256.0,512.6 L258.5,512.8 L263.5,514.7 L264.8,515.8 L265.9,517.0 L267.6,520.2 L268.0,521.5 L268.1,523.2 L267.6,526.8 L266.9,528.8 L265.1,532.0 L261.8,534.9 L260.0,535.8 L254.8,537.3 L253.5,537.5Z"/>
</g>
</svg></body></html>
